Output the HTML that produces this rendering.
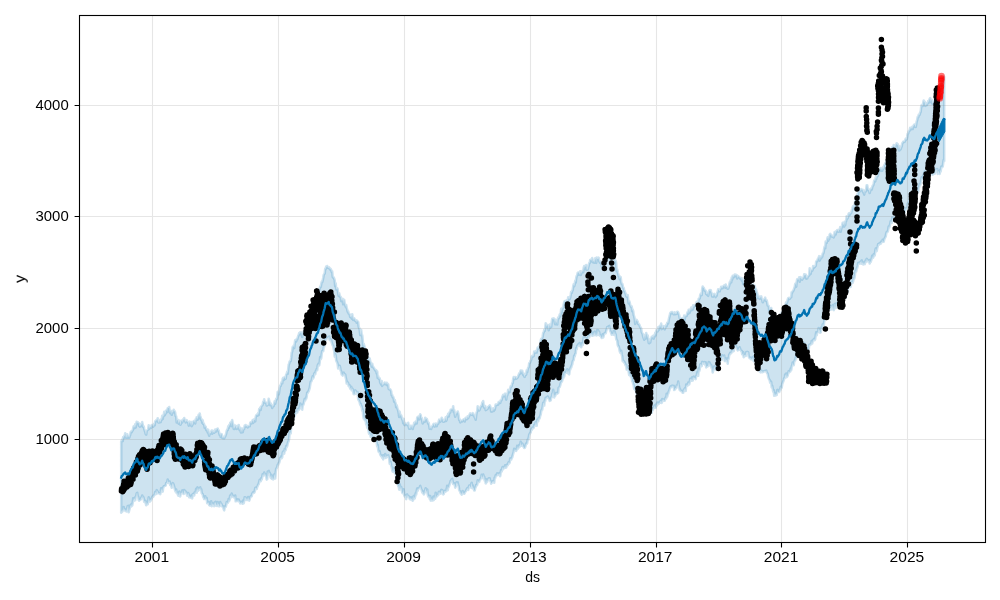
<!DOCTYPE html><html><head><meta charset="utf-8"><title>forecast</title><style>html,body{margin:0;padding:0;background:#fff}</style></head><body><svg width="1000" height="600" viewBox="0 0 1000 600" style="display:block;font-family:'Liberation Sans',sans-serif"><rect width="1000" height="600" fill="#fff"/><g style="opacity:0.999"><clipPath id="c"><rect x="79.5" y="15.5" width="906.0" height="527.0"/></clipPath><g clip-path="url(#c)"><path d="M121.2 441.5L121.7 441.0L122.2 439.5L122.7 441.1L123.2 437.1L123.7 438.1L124.2 436.3L124.7 436.1L125.2 433.4L125.7 437.0L126.2 437.7L126.7 436.7L127.2 434.3L127.7 437.8L128.2 436.0L128.7 436.7L129.2 437.6L129.7 436.1L130.2 434.8L130.7 432.1L131.2 431.4L131.7 432.1L132.2 430.8L132.7 430.6L133.2 428.2L133.7 426.4L134.2 426.5L134.7 428.1L135.2 424.4L135.7 427.4L136.2 425.0L136.7 421.8L137.2 423.4L137.7 422.2L138.2 423.1L138.7 423.3L139.2 425.9L139.7 426.5L140.2 425.3L140.7 426.4L141.2 423.7L141.7 425.2L142.2 422.1L142.7 425.1L143.2 426.9L143.7 426.4L144.2 428.8L144.7 430.5L145.2 431.8L145.7 434.0L146.2 434.5L146.7 430.8L147.2 430.3L147.7 429.9L148.2 429.4L148.7 425.4L149.2 429.0L149.7 427.2L150.2 426.9L150.7 427.3L151.2 427.8L151.7 425.1L152.2 425.8L152.7 425.0L153.2 426.7L153.7 425.6L154.2 423.8L154.7 425.3L155.2 421.5L155.7 421.0L156.2 420.5L156.7 420.0L157.2 420.9L157.7 418.2L158.2 422.4L158.7 422.4L159.2 422.4L159.7 420.0L160.2 421.6L160.7 422.1L161.2 419.4L161.7 419.8L162.2 415.8L162.7 418.9L163.2 416.2L163.7 416.1L164.2 411.8L164.7 415.2L165.2 413.8L165.7 413.6L166.2 410.5L166.7 410.2L167.2 412.1L167.7 408.1L168.2 407.9L168.7 408.2L169.2 407.0L169.7 411.9L170.2 413.1L170.7 410.8L171.2 410.9L171.7 414.8L172.2 413.1L172.7 412.0L173.2 412.1L173.7 409.8L174.2 411.2L174.7 411.2L175.2 412.6L175.7 416.1L176.2 416.3L176.7 422.4L177.2 420.3L177.7 419.7L178.2 422.1L178.7 423.6L179.2 422.2L179.7 420.7L180.2 424.7L180.7 424.5L181.2 421.2L181.7 420.5L182.2 422.5L182.7 420.8L183.2 419.3L183.7 420.5L184.2 418.1L184.7 420.4L185.2 421.0L185.7 422.3L186.2 421.7L186.7 420.2L187.2 422.0L187.7 421.6L188.2 422.4L188.7 425.6L189.2 422.9L189.7 421.7L190.2 425.3L190.7 422.9L191.2 422.0L191.7 426.1L192.2 425.1L192.7 424.3L193.2 422.0L193.7 421.1L194.2 421.2L194.7 421.9L195.2 423.4L195.7 419.2L196.2 420.4L196.7 417.2L197.2 417.9L197.7 419.6L198.2 417.3L198.7 414.8L199.2 418.1L199.7 413.6L200.2 416.1L200.7 417.4L201.2 420.0L201.7 419.3L202.2 422.8L202.7 420.2L203.2 424.0L203.7 423.5L204.2 424.6L204.7 427.8L205.2 426.3L205.7 426.9L206.2 430.1L206.7 429.2L207.2 429.7L207.7 432.6L208.2 429.7L208.7 433.8L209.2 435.7L209.7 432.8L210.2 433.0L210.7 433.6L211.2 432.0L211.7 430.5L212.2 433.8L212.7 430.8L213.2 432.1L213.7 432.5L214.2 432.7L214.7 432.0L215.2 429.5L215.7 431.8L216.2 430.5L216.7 429.4L217.2 428.8L217.7 428.5L218.2 430.7L218.7 430.4L219.2 433.2L219.7 434.8L220.2 434.1L220.7 436.9L221.2 434.1L221.7 434.3L222.2 437.9L222.7 437.3L223.2 438.2L223.7 436.8L224.2 438.3L224.7 436.9L225.2 436.4L225.7 434.9L226.2 433.5L226.7 431.0L227.2 429.7L227.7 430.0L228.2 426.4L228.7 428.0L229.2 425.1L229.7 425.8L230.2 422.9L230.7 422.4L231.2 426.2L231.7 421.6L232.2 420.1L232.7 423.3L233.2 424.4L233.7 428.9L234.2 427.2L234.7 428.8L235.2 425.5L235.7 426.7L236.2 427.9L236.7 428.8L237.2 426.1L237.7 428.5L238.2 427.9L238.7 425.0L239.2 428.6L239.7 430.0L240.2 427.7L240.7 431.7L241.2 432.5L241.7 430.3L242.2 428.5L242.7 432.3L243.2 429.7L243.7 429.2L244.2 428.8L244.7 425.6L245.2 426.9L245.7 425.0L246.2 426.0L246.7 426.5L247.2 426.0L247.7 427.4L248.2 426.3L248.7 426.1L249.2 426.2L249.7 426.3L250.2 423.0L250.7 422.3L251.2 423.5L251.7 422.6L252.2 421.6L252.7 420.1L253.2 423.0L253.7 421.3L254.2 419.4L254.7 419.8L255.2 421.3L255.7 417.1L256.2 415.3L256.7 415.0L257.2 414.5L257.7 415.6L258.2 413.1L258.7 414.9L259.2 409.1L259.7 409.4L260.2 407.6L260.7 409.9L261.2 406.6L261.7 405.9L262.2 405.4L262.7 404.7L263.2 401.7L263.7 402.1L264.2 399.2L264.7 402.4L265.2 402.7L265.7 402.4L266.2 402.6L266.7 405.5L267.2 405.3L267.7 405.0L268.2 404.6L268.7 398.7L269.2 400.8L269.7 402.8L270.2 405.2L270.7 403.4L271.2 405.0L271.7 405.2L272.2 408.0L272.7 405.9L273.2 405.6L273.7 406.1L274.2 403.7L274.7 401.2L275.2 403.7L275.7 401.1L276.2 398.8L276.7 399.5L277.2 397.3L277.7 391.9L278.2 391.6L278.7 394.5L279.2 391.8L279.7 387.7L280.2 385.6L280.7 385.9L281.2 383.6L281.7 382.2L282.2 383.4L282.7 378.9L283.2 377.9L283.7 380.0L284.2 377.6L284.7 377.1L285.2 379.0L285.7 378.7L286.2 374.5L286.7 374.1L287.2 371.8L287.7 373.8L288.2 369.1L288.7 364.6L289.2 363.7L289.7 361.4L290.2 361.0L290.7 361.1L291.2 357.5L291.7 352.6L292.2 351.6L292.7 347.0L293.2 346.9L293.7 345.7L294.2 348.1L294.7 343.9L295.2 340.3L295.7 341.0L296.2 341.3L296.7 339.1L297.2 339.5L297.7 337.7L298.2 336.0L298.7 335.1L299.2 333.2L299.7 334.4L300.2 332.2L300.7 332.9L301.2 332.5L301.7 334.1L302.2 337.0L302.7 332.7L303.2 332.4L303.7 333.3L304.2 330.0L304.7 329.1L305.2 327.0L305.7 329.7L306.2 328.1L306.7 323.9L307.2 319.6L307.7 319.8L308.2 321.0L308.7 322.4L309.2 319.0L309.7 317.8L310.2 313.5L310.7 313.2L311.2 312.0L311.7 309.8L312.2 306.0L312.7 306.4L313.2 305.3L313.7 301.2L314.2 301.8L314.7 303.1L315.2 300.5L315.7 298.0L316.2 300.5L316.7 297.9L317.2 295.3L317.7 298.7L318.2 295.2L318.7 290.9L319.2 290.9L319.7 288.3L320.2 286.6L320.7 287.1L321.2 284.3L321.7 281.9L322.2 282.2L322.7 280.4L323.2 278.0L323.7 274.9L324.2 274.1L324.7 273.5L325.2 268.9L325.7 268.9L326.2 266.5L326.7 267.8L327.2 266.1L327.7 267.6L328.2 267.7L328.7 267.9L329.2 267.5L329.7 269.0L330.2 269.4L330.7 269.0L331.2 270.0L331.7 271.9L332.2 271.4L332.7 276.8L333.2 277.6L333.7 277.4L334.2 278.8L334.7 280.2L335.2 286.2L335.7 283.3L336.2 289.5L336.7 289.0L337.2 288.2L337.7 289.3L338.2 293.7L338.7 296.0L339.2 293.3L339.7 295.8L340.2 296.8L340.7 296.8L341.2 301.1L341.7 298.9L342.2 300.9L342.7 298.7L343.2 304.3L343.7 300.5L344.2 299.8L344.7 303.6L345.2 304.7L345.7 306.8L346.2 305.1L346.7 308.1L347.2 309.4L347.7 311.8L348.2 311.4L348.7 313.6L349.2 313.8L349.7 314.3L350.2 317.0L350.7 316.7L351.2 315.8L351.7 318.6L352.2 314.2L352.7 318.2L353.2 319.9L353.7 318.2L354.2 318.2L354.7 319.4L355.2 320.8L355.7 320.9L356.2 320.5L356.7 322.8L357.2 320.8L357.7 321.8L358.2 321.9L358.7 326.9L359.2 327.9L359.7 329.5L360.2 335.0L360.7 334.4L361.2 330.0L361.7 335.5L362.2 335.2L362.7 339.9L363.2 347.5L363.7 343.9L364.2 345.6L364.7 347.5L365.2 350.7L365.7 352.7L366.2 354.4L366.7 352.7L367.2 357.0L367.7 354.0L368.2 358.2L368.7 359.8L369.2 360.7L369.7 358.4L370.2 361.2L370.7 362.6L371.2 363.8L371.7 366.6L372.2 363.8L372.7 366.6L373.2 366.8L373.7 367.8L374.2 368.3L374.7 369.4L375.2 370.3L375.7 370.6L376.2 370.2L376.7 373.6L377.2 371.3L377.7 377.8L378.2 376.3L378.7 378.7L379.2 378.9L379.7 378.3L380.2 382.5L380.7 383.3L381.2 384.5L381.7 381.1L382.2 385.9L382.7 384.5L383.2 384.4L383.7 384.3L384.2 384.1L384.7 382.5L385.2 383.1L385.7 384.3L386.2 384.4L386.7 382.8L387.2 385.1L387.7 383.8L388.2 384.3L388.7 388.9L389.2 389.2L389.7 389.4L390.2 389.3L390.7 390.2L391.2 391.3L391.7 395.3L392.2 395.0L392.7 397.3L393.2 396.8L393.7 398.6L394.2 401.7L394.7 399.9L395.2 402.1L395.7 403.6L396.2 407.3L396.7 405.3L397.2 407.4L397.7 409.2L398.2 410.5L398.7 413.2L399.2 417.0L399.7 411.9L400.2 414.8L400.7 415.7L401.2 415.4L401.7 417.5L402.2 419.5L402.7 419.8L403.2 423.2L403.7 418.9L404.2 424.4L404.7 425.1L405.2 423.0L405.7 424.0L406.2 424.2L406.7 424.0L407.2 424.8L407.7 425.3L408.2 422.7L408.7 426.8L409.2 428.8L409.7 428.0L410.2 428.7L410.7 425.9L411.2 427.9L411.7 426.1L412.2 426.1L412.7 428.9L413.2 426.5L413.7 425.7L414.2 422.8L414.7 424.6L415.2 423.3L415.7 421.6L416.2 421.8L416.7 423.4L417.2 417.8L417.7 417.1L418.2 416.7L418.7 417.7L419.2 419.3L419.7 416.3L420.2 414.3L420.7 415.2L421.2 418.3L421.7 417.9L422.2 421.1L422.7 423.5L423.2 421.2L423.7 421.2L424.2 420.6L424.7 421.9L425.2 417.7L425.7 420.4L426.2 419.2L426.7 418.8L427.2 420.2L427.7 422.2L428.2 423.7L428.7 422.7L429.2 425.6L429.7 428.7L430.2 428.6L430.7 427.3L431.2 428.9L431.7 426.9L432.2 426.3L432.7 426.2L433.2 424.6L433.7 423.9L434.2 426.1L434.7 426.6L435.2 423.8L435.7 424.6L436.2 423.6L436.7 426.3L437.2 424.1L437.7 423.5L438.2 423.6L438.7 421.6L439.2 419.7L439.7 420.1L440.2 421.8L440.7 420.2L441.2 420.7L441.7 417.7L442.2 419.2L442.7 419.4L443.2 421.8L443.7 421.7L444.2 420.4L444.7 421.3L445.2 420.2L445.7 417.4L446.2 420.9L446.7 419.5L447.2 416.1L447.7 416.7L448.2 413.8L448.7 416.5L449.2 413.6L449.7 412.2L450.2 412.4L450.7 409.7L451.2 409.6L451.7 409.4L452.2 409.6L452.7 409.5L453.2 406.3L453.7 411.8L454.2 410.0L454.7 414.0L455.2 416.8L455.7 414.6L456.2 413.1L456.7 413.7L457.2 413.0L457.7 411.5L458.2 413.1L458.7 415.7L459.2 420.1L459.7 419.4L460.2 422.4L460.7 421.2L461.2 420.8L461.7 420.5L462.2 421.3L462.7 420.4L463.2 420.0L463.7 419.3L464.2 419.5L464.7 421.4L465.2 419.0L465.7 417.9L466.2 418.8L466.7 419.2L467.2 418.4L467.7 416.4L468.2 418.2L468.7 416.7L469.2 416.0L469.7 414.3L470.2 413.4L470.7 414.2L471.2 414.7L471.7 414.6L472.2 414.7L472.7 413.2L473.2 413.6L473.7 415.8L474.2 415.0L474.7 417.6L475.2 417.8L475.7 419.7L476.2 415.1L476.7 412.3L477.2 411.3L477.7 406.3L478.2 408.8L478.7 409.5L479.2 410.4L479.7 409.6L480.2 407.8L480.7 406.7L481.2 405.8L481.7 406.1L482.2 402.6L482.7 403.7L483.2 401.1L483.7 406.0L484.2 407.5L484.7 407.5L485.2 406.0L485.7 410.1L486.2 409.9L486.7 409.3L487.2 408.9L487.7 408.6L488.2 406.7L488.7 406.8L489.2 406.2L489.7 405.4L490.2 406.4L490.7 408.3L491.2 411.6L491.7 410.7L492.2 411.4L492.7 410.4L493.2 408.2L493.7 410.9L494.2 408.5L494.7 409.7L495.2 407.3L495.7 404.5L496.2 405.3L496.7 405.1L497.2 404.5L497.7 403.9L498.2 404.5L498.7 402.1L499.2 402.6L499.7 401.9L500.2 402.9L500.7 400.3L501.2 400.4L501.7 399.7L502.2 397.5L502.7 396.0L503.2 394.8L503.7 396.2L504.2 396.3L504.7 395.0L505.2 393.6L505.7 395.6L506.2 399.7L506.7 395.4L507.2 395.5L507.7 393.5L508.2 389.7L508.7 391.7L509.2 390.5L509.7 392.1L510.2 388.6L510.7 386.3L511.2 386.7L511.7 386.0L512.2 383.2L512.7 383.1L513.2 378.8L513.7 377.1L514.2 378.7L514.7 379.0L515.2 377.1L515.7 377.2L516.2 378.7L516.7 378.4L517.2 377.8L517.7 377.5L518.2 376.3L518.7 374.8L519.2 373.3L519.7 373.9L520.2 372.6L520.7 370.5L521.2 370.7L521.7 372.9L522.2 370.7L522.7 373.4L523.2 374.7L523.7 373.4L524.2 376.6L524.7 376.8L525.2 374.8L525.7 375.1L526.2 374.3L526.7 370.3L527.2 372.1L527.7 369.6L528.2 367.7L528.7 367.3L529.2 363.3L529.7 363.1L530.2 362.0L530.7 360.5L531.2 359.9L531.7 356.5L532.2 355.9L532.7 356.7L533.2 356.3L533.7 355.8L534.2 351.5L534.7 352.8L535.2 352.7L535.7 352.2L536.2 350.8L536.7 352.4L537.2 349.6L537.7 347.6L538.2 348.4L538.7 348.6L539.2 345.9L539.7 346.4L540.2 344.5L540.7 340.8L541.2 338.7L541.7 339.0L542.2 338.0L542.7 336.3L543.2 332.8L543.7 332.5L544.2 329.9L544.7 330.9L545.2 328.4L545.7 323.3L546.2 327.0L546.7 325.8L547.2 324.8L547.7 325.9L548.2 326.7L548.7 330.2L549.2 327.8L549.7 324.5L550.2 327.7L550.7 325.6L551.2 326.8L551.7 322.7L552.2 318.8L552.7 319.0L553.2 318.5L553.7 319.8L554.2 318.7L554.7 322.2L555.2 324.3L555.7 320.1L556.2 323.3L556.7 321.3L557.2 324.5L557.7 319.6L558.2 317.7L558.7 318.5L559.2 317.2L559.7 314.5L560.2 316.2L560.7 313.6L561.2 308.8L561.7 312.9L562.2 308.7L562.7 307.7L563.2 307.9L563.7 304.2L564.2 302.2L564.7 301.2L565.2 301.0L565.7 302.3L566.2 302.6L566.7 300.3L567.2 301.7L567.7 301.3L568.2 297.3L568.7 299.6L569.2 298.4L569.7 299.0L570.2 297.4L570.7 294.9L571.2 291.8L571.7 292.9L572.2 290.9L572.7 290.0L573.2 286.6L573.7 284.2L574.2 286.2L574.7 284.5L575.2 280.8L575.7 282.6L576.2 278.1L576.7 275.9L577.2 275.2L577.7 273.0L578.2 272.5L578.7 272.6L579.2 274.6L579.7 274.2L580.2 271.4L580.7 275.0L581.2 273.5L581.7 272.4L582.2 271.9L582.7 270.7L583.2 272.2L583.7 267.9L584.2 266.1L584.7 268.9L585.2 266.4L585.7 266.8L586.2 265.0L586.7 269.8L587.2 269.4L587.7 269.5L588.2 267.4L588.7 265.7L589.2 263.1L589.7 263.1L590.2 259.9L590.7 259.8L591.2 261.1L591.7 259.9L592.2 258.1L592.7 262.1L593.2 261.7L593.7 260.8L594.2 262.7L594.7 261.3L595.2 258.4L595.7 259.4L596.2 262.9L596.7 257.5L597.2 258.8L597.7 259.0L598.2 259.5L598.7 257.7L599.2 261.2L599.7 261.8L600.2 262.8L600.7 261.3L601.2 262.9L601.7 266.7L602.2 265.6L602.7 264.2L603.2 262.0L603.7 262.3L604.2 261.7L604.7 262.7L605.2 259.3L605.7 259.8L606.2 258.3L606.7 255.6L607.2 255.7L607.7 256.7L608.2 255.1L608.7 255.3L609.2 252.8L609.7 256.7L610.2 258.5L610.7 259.2L611.2 262.4L611.7 260.5L612.2 259.7L612.7 261.5L613.2 262.7L613.7 263.6L614.2 261.6L614.7 259.0L615.2 261.4L615.7 260.8L616.2 263.0L616.7 271.1L617.2 269.6L617.7 272.3L618.2 273.9L618.7 276.3L619.2 275.9L619.7 279.3L620.2 278.0L620.7 277.1L621.2 282.1L621.7 283.8L622.2 283.7L622.7 285.6L623.2 287.7L623.7 287.9L624.2 291.0L624.7 291.1L625.2 292.8L625.7 293.9L626.2 296.0L626.7 296.6L627.2 297.1L627.7 295.0L628.2 300.1L628.7 303.5L629.2 301.1L629.7 302.5L630.2 305.0L630.7 306.1L631.2 307.2L631.7 306.4L632.2 311.1L632.7 309.6L633.2 311.2L633.7 315.1L634.2 316.4L634.7 318.8L635.2 323.9L635.7 320.3L636.2 321.1L636.7 319.9L637.2 321.3L637.7 321.5L638.2 323.9L638.7 324.0L639.2 324.4L639.7 325.8L640.2 327.3L640.7 327.5L641.2 328.5L641.7 332.0L642.2 333.1L642.7 334.0L643.2 336.7L643.7 338.2L644.2 339.7L644.7 335.0L645.2 338.7L645.7 335.2L646.2 333.0L646.7 335.1L647.2 338.2L647.7 335.5L648.2 338.4L648.7 342.8L649.2 343.2L649.7 340.5L650.2 342.5L650.7 339.2L651.2 338.6L651.7 336.8L652.2 336.7L652.7 338.1L653.2 335.7L653.7 338.6L654.2 335.3L654.7 336.6L655.2 332.8L655.7 335.5L656.2 331.4L656.7 329.8L657.2 331.5L657.7 331.3L658.2 327.3L658.7 330.1L659.2 327.5L659.7 326.1L660.2 326.8L660.7 326.5L661.2 323.6L661.7 329.1L662.2 328.7L662.7 328.0L663.2 326.8L663.7 326.2L664.2 328.2L664.7 329.3L665.2 328.0L665.7 325.8L666.2 324.9L666.7 326.1L667.2 322.9L667.7 322.4L668.2 323.3L668.7 320.0L669.2 317.6L669.7 315.9L670.2 313.3L670.7 312.7L671.2 313.4L671.7 312.0L672.2 312.1L672.7 313.1L673.2 313.4L673.7 314.3L674.2 314.2L674.7 312.4L675.2 314.2L675.7 313.6L676.2 314.0L676.7 313.5L677.2 311.7L677.7 311.7L678.2 312.4L678.7 314.0L679.2 315.3L679.7 318.4L680.2 318.3L680.7 318.4L681.2 320.2L681.7 321.2L682.2 318.3L682.7 320.6L683.2 320.7L683.7 318.9L684.2 315.6L684.7 319.6L685.2 316.3L685.7 316.2L686.2 315.6L686.7 315.8L687.2 313.2L687.7 312.0L688.2 313.8L688.7 309.7L689.2 310.4L689.7 312.7L690.2 310.5L690.7 309.3L691.2 307.5L691.7 310.3L692.2 307.9L692.7 309.5L693.2 305.3L693.7 307.2L694.2 306.1L694.7 305.0L695.2 305.0L695.7 306.0L696.2 303.3L696.7 301.9L697.2 303.8L697.7 303.4L698.2 302.8L698.7 298.6L699.2 298.4L699.7 298.5L700.2 295.3L700.7 293.9L701.2 295.3L701.7 294.9L702.2 289.1L702.7 286.6L703.2 287.8L703.7 287.7L704.2 289.1L704.7 290.6L705.2 290.5L705.7 290.7L706.2 294.0L706.7 294.0L707.2 294.8L707.7 292.8L708.2 295.9L708.7 292.7L709.2 290.8L709.7 290.2L710.2 291.5L710.7 290.1L711.2 292.1L711.7 293.4L712.2 296.5L712.7 296.1L713.2 296.6L713.7 294.5L714.2 293.8L714.7 295.5L715.2 295.9L715.7 297.1L716.2 294.6L716.7 295.8L717.2 292.8L717.7 291.7L718.2 289.2L718.7 290.0L719.2 291.0L719.7 291.2L720.2 289.3L720.7 288.9L721.2 286.8L721.7 288.3L722.2 287.2L722.7 288.1L723.2 286.3L723.7 285.9L724.2 285.4L724.7 287.2L725.2 287.6L725.7 284.6L726.2 287.3L726.7 286.7L727.2 287.3L727.7 288.7L728.2 288.5L728.7 287.1L729.2 285.5L729.7 282.4L730.2 283.6L730.7 280.4L731.2 282.3L731.7 277.6L732.2 279.5L732.7 275.7L733.2 276.0L733.7 277.3L734.2 276.0L734.7 274.6L735.2 276.2L735.7 274.7L736.2 275.4L736.7 275.1L737.2 278.5L737.7 276.8L738.2 276.1L738.7 277.0L739.2 277.3L739.7 277.4L740.2 278.6L740.7 278.0L741.2 278.0L741.7 280.6L742.2 278.4L742.7 281.1L743.2 284.0L743.7 279.6L744.2 282.4L744.7 283.3L745.2 280.4L745.7 285.3L746.2 277.5L746.7 281.6L747.2 281.9L747.7 282.3L748.2 282.9L748.7 284.6L749.2 283.6L749.7 285.8L750.2 282.8L750.7 285.2L751.2 287.3L751.7 284.9L752.2 285.7L752.7 286.8L753.2 284.4L753.7 288.5L754.2 288.8L754.7 285.8L755.2 288.1L755.7 289.1L756.2 289.8L756.7 292.2L757.2 293.1L757.7 298.0L758.2 295.6L758.7 298.0L759.2 297.8L759.7 298.8L760.2 296.9L760.7 297.9L761.2 296.4L761.7 298.7L762.2 299.8L762.7 302.3L763.2 301.5L763.7 299.5L764.2 299.6L764.7 299.3L765.2 297.7L765.7 300.4L766.2 301.0L766.7 300.3L767.2 302.5L767.7 305.6L768.2 305.7L768.7 305.8L769.2 310.3L769.7 309.2L770.2 308.6L770.7 309.2L771.2 308.0L771.7 312.7L772.2 311.6L772.7 315.4L773.2 317.7L773.7 320.5L774.2 323.1L774.7 323.4L775.2 320.3L775.7 322.8L776.2 320.7L776.7 321.5L777.2 320.1L777.7 320.5L778.2 322.8L778.7 319.9L779.2 319.1L779.7 316.4L780.2 314.5L780.7 315.6L781.2 316.7L781.7 312.3L782.2 313.5L782.7 311.8L783.2 311.6L783.7 309.7L784.2 306.8L784.7 306.0L785.2 307.2L785.7 303.9L786.2 302.4L786.7 303.5L787.2 301.9L787.7 299.7L788.2 298.3L788.7 297.9L789.2 298.6L789.7 298.9L790.2 297.9L790.7 297.4L791.2 297.2L791.7 292.2L792.2 292.6L792.7 291.3L793.2 290.8L793.7 289.9L794.2 288.4L794.7 287.3L795.2 284.2L795.7 283.3L796.2 286.7L796.7 281.7L797.2 279.3L797.7 279.4L798.2 279.9L798.7 279.1L799.2 277.3L799.7 281.8L800.2 278.5L800.7 277.2L801.2 278.4L801.7 279.3L802.2 279.6L802.7 278.5L803.2 277.6L803.7 277.7L804.2 274.4L804.7 275.9L805.2 274.9L805.7 274.7L806.2 278.6L806.7 277.2L807.2 278.4L807.7 276.8L808.2 276.3L808.7 275.6L809.2 275.3L809.7 268.3L810.2 272.7L810.7 273.8L811.2 270.6L811.7 270.1L812.2 270.8L812.7 269.3L813.2 266.0L813.7 268.1L814.2 266.9L814.7 267.0L815.2 266.2L815.7 265.9L816.2 261.6L816.7 261.0L817.2 261.2L817.7 259.3L818.2 258.9L818.7 257.5L819.2 256.2L819.7 260.6L820.2 259.3L820.7 256.5L821.2 258.3L821.7 256.1L822.2 256.8L822.7 253.6L823.2 253.5L823.7 251.9L824.2 248.8L824.7 246.6L825.2 248.3L825.7 241.6L826.2 242.3L826.7 242.8L827.2 239.5L827.7 237.2L828.2 240.8L828.7 237.0L829.2 239.2L829.7 234.6L830.2 233.9L830.7 235.2L831.2 234.9L831.7 236.4L832.2 236.7L832.7 236.6L833.2 235.8L833.7 237.4L834.2 236.0L834.7 232.0L835.2 232.5L835.7 234.5L836.2 231.5L836.7 231.0L837.2 230.0L837.7 230.8L838.2 231.7L838.7 231.6L839.2 229.5L839.7 230.0L840.2 227.1L840.7 231.8L841.2 228.9L841.7 227.3L842.2 225.8L842.7 222.7L843.2 224.5L843.7 224.6L844.2 226.6L844.7 221.7L845.2 225.2L845.7 221.3L846.2 220.9L846.7 216.2L847.2 218.7L847.7 218.0L848.2 216.2L848.7 213.7L849.2 213.2L849.7 215.0L850.2 213.2L850.7 213.4L851.2 212.8L851.7 210.8L852.2 209.0L852.7 207.0L853.2 206.0L853.7 208.4L854.2 207.2L854.7 204.0L855.2 201.4L855.7 200.6L856.2 199.9L856.7 196.7L857.2 194.2L857.7 197.7L858.2 192.6L858.7 191.8L859.2 191.4L859.7 190.9L860.2 191.2L860.7 189.8L861.2 189.1L861.7 190.0L862.2 189.7L862.7 189.8L863.2 192.4L863.7 191.5L864.2 194.6L864.7 190.6L865.2 191.4L865.7 191.5L866.2 189.1L866.7 185.2L867.2 185.3L867.7 188.4L868.2 190.2L868.7 189.3L869.2 191.4L869.7 193.0L870.2 190.7L870.7 189.3L871.2 188.4L871.7 189.6L872.2 187.5L872.7 185.7L873.2 185.5L873.7 183.5L874.2 180.6L874.7 180.5L875.2 181.3L875.7 177.4L876.2 179.1L876.7 176.4L877.2 176.1L877.7 176.0L878.2 174.1L878.7 169.3L879.2 169.4L879.7 170.2L880.2 168.1L880.7 169.1L881.2 170.8L881.7 168.3L882.2 170.8L882.7 167.5L883.2 168.9L883.7 168.4L884.2 165.2L884.7 165.2L885.2 163.4L885.7 164.4L886.2 163.1L886.7 160.9L887.2 158.9L887.7 157.2L888.2 156.7L888.7 155.4L889.2 155.6L889.7 153.2L890.2 154.4L890.7 149.5L891.2 149.1L891.7 148.2L892.2 147.2L892.7 147.3L893.2 147.9L893.7 145.0L894.2 146.7L894.7 150.0L895.2 147.2L895.7 145.2L896.2 144.7L896.7 143.3L897.2 145.6L897.7 144.3L898.2 145.7L898.7 149.3L899.2 150.5L899.7 146.6L900.2 149.6L900.7 149.0L901.2 147.4L901.7 146.6L902.2 143.4L902.7 142.8L903.2 141.8L903.7 141.6L904.2 141.9L904.7 141.6L905.2 140.5L905.7 138.9L906.2 139.7L906.7 139.2L907.2 136.7L907.7 133.6L908.2 133.4L908.7 131.4L909.2 131.1L909.7 130.1L910.2 127.7L910.7 129.5L911.2 128.7L911.7 128.1L912.2 126.9L912.7 128.9L913.2 126.5L913.7 125.7L914.2 124.7L914.7 124.5L915.2 126.8L915.7 126.9L916.2 124.2L916.7 121.6L917.2 119.9L917.7 117.1L918.2 117.4L918.7 114.9L919.2 115.2L919.7 114.6L920.2 112.4L920.7 111.8L921.2 106.7L921.7 105.2L922.2 105.8L922.7 106.0L923.2 103.1L923.7 100.6L924.2 102.8L924.7 101.7L925.2 105.9L925.7 105.2L926.2 103.3L926.7 105.3L927.2 103.9L927.7 103.2L928.2 101.1L928.7 102.7L929.2 100.3L929.7 98.8L930.2 98.1L930.7 102.0L931.2 100.3L931.7 99.9L932.2 103.6L932.7 103.6L933.2 102.2L933.7 100.8L934.2 102.4L934.7 101.9L935.2 99.8L935.7 100.3L936.2 94.7L936.7 96.6L937.2 94.4L937.7 91.3L938.2 88.0L938.7 89.5L939.2 89.2L939.7 88.8L940.2 88.1L940.7 88.0L941.2 84.7L941.7 85.4L942.2 84.1L942.7 82.5L943.2 78.7L943.7 78.2L944.2 76.7L944.2 161.0L943.7 159.7L943.2 163.0L942.7 166.7L942.2 166.8L941.7 167.5L941.2 166.6L940.7 171.3L940.2 169.8L939.7 173.9L939.2 172.9L938.7 171.3L938.2 170.9L937.7 173.9L937.2 169.0L936.7 169.6L936.2 169.6L935.7 169.5L935.2 171.1L934.7 173.7L934.2 173.1L933.7 171.8L933.2 172.7L932.7 174.7L932.2 174.4L931.7 172.7L931.2 174.0L930.7 171.9L930.2 171.0L929.7 171.3L929.2 169.7L928.7 174.5L928.2 175.8L927.7 175.4L927.2 176.7L926.7 175.4L926.2 174.1L925.7 175.9L925.2 175.9L924.7 171.6L924.2 172.9L923.7 175.6L923.2 175.3L922.7 179.3L922.2 178.8L921.7 177.3L921.2 179.7L920.7 182.7L920.2 184.7L919.7 184.1L919.2 187.0L918.7 187.2L918.2 191.6L917.7 189.9L917.2 191.2L916.7 194.1L916.2 194.9L915.7 197.6L915.2 197.9L914.7 194.5L914.2 197.1L913.7 199.0L913.2 196.3L912.7 198.0L912.2 197.1L911.7 200.4L911.2 199.1L910.7 203.7L910.2 203.4L909.7 200.2L909.2 204.8L908.7 202.4L908.2 203.5L907.7 203.6L907.2 208.9L906.7 208.7L906.2 208.0L905.7 208.5L905.2 210.2L904.7 212.2L904.2 213.7L903.7 215.0L903.2 214.4L902.7 216.2L902.2 215.1L901.7 217.5L901.2 217.6L900.7 221.7L900.2 219.3L899.7 218.0L899.2 220.4L898.7 218.9L898.2 217.0L897.7 215.8L897.2 216.4L896.7 215.2L896.2 218.1L895.7 217.1L895.2 218.5L894.7 219.7L894.2 220.0L893.7 218.1L893.2 218.9L892.7 219.6L892.2 217.5L891.7 222.8L891.2 221.4L890.7 221.3L890.2 223.7L889.7 226.1L889.2 227.6L888.7 226.5L888.2 229.9L887.7 231.6L887.2 231.9L886.7 232.2L886.2 233.6L885.7 236.4L885.2 237.4L884.7 238.3L884.2 239.5L883.7 241.8L883.2 241.7L882.7 239.7L882.2 242.1L881.7 242.2L881.2 241.5L880.7 243.7L880.2 242.9L879.7 243.2L879.2 244.4L878.7 243.9L878.2 244.1L877.7 246.5L877.2 248.2L876.7 251.1L876.2 248.4L875.7 248.7L875.2 251.3L874.7 255.5L874.2 254.5L873.7 254.4L873.2 257.6L872.7 257.9L872.2 255.8L871.7 258.7L871.2 260.3L870.7 261.8L870.2 261.6L869.7 263.5L869.2 260.0L868.7 260.8L868.2 261.3L867.7 260.4L867.2 259.6L866.7 258.8L866.2 261.7L865.7 260.4L865.2 262.5L864.7 264.1L864.2 262.3L863.7 262.8L863.2 264.5L862.7 262.7L862.2 262.5L861.7 260.4L861.2 263.7L860.7 261.5L860.2 262.1L859.7 262.7L859.2 263.8L858.7 263.7L858.2 262.8L857.7 266.0L857.2 267.9L856.7 268.6L856.2 271.5L855.7 270.7L855.2 272.7L854.7 276.7L854.2 278.8L853.7 278.3L853.2 280.9L852.7 282.6L852.2 282.0L851.7 281.9L851.2 283.3L850.7 286.9L850.2 285.9L849.7 285.9L849.2 285.4L848.7 286.2L848.2 287.6L847.7 291.9L847.2 291.4L846.7 289.9L846.2 290.5L845.7 297.8L845.2 295.4L844.7 293.6L844.2 293.1L843.7 295.0L843.2 294.9L842.7 298.5L842.2 297.7L841.7 299.4L841.2 298.9L840.7 301.0L840.2 299.2L839.7 299.9L839.2 302.4L838.7 305.2L838.2 302.2L837.7 303.6L837.2 304.9L836.7 303.5L836.2 305.1L835.7 308.0L835.2 303.9L834.7 304.0L834.2 308.7L833.7 310.1L833.2 306.4L832.7 305.2L832.2 309.0L831.7 306.6L831.2 306.3L830.7 309.8L830.2 308.1L829.7 305.1L829.2 306.9L828.7 308.9L828.2 308.3L827.7 310.7L827.2 314.8L826.7 316.3L826.2 314.5L825.7 317.3L825.2 318.3L824.7 319.8L824.2 321.7L823.7 326.2L823.2 323.9L822.7 324.6L822.2 328.6L821.7 329.3L821.2 327.6L820.7 332.3L820.2 332.7L819.7 329.9L819.2 330.3L818.7 328.1L818.2 330.6L817.7 332.4L817.2 332.4L816.7 335.3L816.2 332.4L815.7 335.3L815.2 339.2L814.7 340.1L814.2 338.8L813.7 339.4L813.2 340.3L812.7 341.0L812.2 343.4L811.7 340.9L811.2 344.3L810.7 344.1L810.2 344.9L809.7 344.6L809.2 344.9L808.7 349.5L808.2 351.8L807.7 348.6L807.2 353.2L806.7 349.1L806.2 351.7L805.7 347.9L805.2 349.4L804.7 348.2L804.2 343.3L803.7 348.0L803.2 350.5L802.7 349.9L802.2 349.4L801.7 351.7L801.2 351.3L800.7 352.2L800.2 351.3L799.7 351.1L799.2 352.2L798.7 349.3L798.2 349.9L797.7 352.5L797.2 354.3L796.7 352.5L796.2 358.5L795.7 357.4L795.2 360.6L794.7 360.4L794.2 361.8L793.7 365.2L793.2 364.8L792.7 362.6L792.2 365.3L791.7 366.5L791.2 370.2L790.7 368.5L790.2 371.5L789.7 371.6L789.2 372.4L788.7 371.1L788.2 373.0L787.7 375.4L787.2 376.4L786.7 377.1L786.2 373.5L785.7 375.9L785.2 374.5L784.7 378.3L784.2 378.2L783.7 380.1L783.2 381.7L782.7 382.7L782.2 384.0L781.7 387.6L781.2 388.2L780.7 386.7L780.2 390.3L779.7 389.3L779.2 392.0L778.7 391.8L778.2 391.9L777.7 391.9L777.2 389.9L776.7 394.9L776.2 393.6L775.7 395.5L775.2 394.0L774.7 392.8L774.2 395.8L773.7 390.1L773.2 391.6L772.7 388.3L772.2 385.7L771.7 387.5L771.2 382.0L770.7 381.4L770.2 382.7L769.7 380.1L769.2 379.4L768.7 378.2L768.2 376.6L767.7 373.7L767.2 373.2L766.7 371.9L766.2 370.5L765.7 371.2L765.2 371.1L764.7 371.1L764.2 371.1L763.7 371.6L763.2 371.4L762.7 372.1L762.2 371.2L761.7 371.3L761.2 370.7L760.7 372.3L760.2 369.3L759.7 371.4L759.2 369.0L758.7 367.9L758.2 367.1L757.7 365.7L757.2 364.2L756.7 363.4L756.2 361.0L755.7 362.2L755.2 360.7L754.7 360.0L754.2 357.5L753.7 361.2L753.2 356.9L752.7 357.9L752.2 358.7L751.7 358.8L751.2 359.3L750.7 357.7L750.2 358.4L749.7 358.2L749.2 357.4L748.7 356.4L748.2 352.3L747.7 352.3L747.2 351.8L746.7 352.6L746.2 352.2L745.7 356.0L745.2 354.4L744.7 354.9L744.2 355.3L743.7 357.2L743.2 352.3L742.7 354.3L742.2 354.2L741.7 350.7L741.2 350.9L740.7 350.2L740.2 349.2L739.7 347.2L739.2 348.1L738.7 349.2L738.2 350.0L737.7 350.3L737.2 349.2L736.7 347.9L736.2 346.6L735.7 345.9L735.2 345.4L734.7 345.9L734.2 347.3L733.7 351.1L733.2 349.3L732.7 351.4L732.2 350.1L731.7 351.7L731.2 353.1L730.7 353.4L730.2 352.8L729.7 354.6L729.2 354.6L728.7 358.8L728.2 359.0L727.7 363.7L727.2 358.6L726.7 360.6L726.2 359.9L725.7 358.3L725.2 361.1L724.7 360.8L724.2 355.5L723.7 356.5L723.2 357.5L722.7 356.8L722.2 355.3L721.7 359.8L721.2 358.1L720.7 357.5L720.2 359.8L719.7 361.7L719.2 363.3L718.7 364.7L718.2 364.7L717.7 365.1L717.2 365.8L716.7 368.3L716.2 369.8L715.7 368.6L715.2 369.0L714.7 367.1L714.2 366.5L713.7 367.9L713.2 370.6L712.7 372.4L712.2 368.3L711.7 367.9L711.2 365.1L710.7 366.1L710.2 363.9L709.7 362.6L709.2 365.0L708.7 362.1L708.2 365.5L707.7 366.3L707.2 365.7L706.7 366.6L706.2 367.4L705.7 362.4L705.2 364.7L704.7 362.5L704.2 362.1L703.7 362.3L703.2 363.7L702.7 362.2L702.2 361.9L701.7 366.1L701.2 364.6L700.7 364.1L700.2 364.7L699.7 369.4L699.2 371.1L698.7 368.4L698.2 375.8L697.7 373.7L697.2 372.3L696.7 376.1L696.2 376.0L695.7 379.1L695.2 378.6L694.7 377.5L694.2 378.2L693.7 376.7L693.2 378.2L692.7 380.6L692.2 377.3L691.7 380.6L691.2 378.5L690.7 379.5L690.2 378.8L689.7 382.3L689.2 384.5L688.7 383.3L688.2 382.6L687.7 385.5L687.2 384.6L686.7 386.2L686.2 384.5L685.7 390.9L685.2 388.1L684.7 388.8L684.2 389.4L683.7 390.0L683.2 392.7L682.7 392.8L682.2 391.5L681.7 391.2L681.2 391.1L680.7 391.0L680.2 389.4L679.7 389.9L679.2 387.2L678.7 384.7L678.2 381.6L677.7 385.1L677.2 386.2L676.7 385.3L676.2 388.3L675.7 388.2L675.2 387.7L674.7 389.7L674.2 390.0L673.7 385.9L673.2 386.4L672.7 386.2L672.2 385.5L671.7 386.2L671.2 387.2L670.7 386.4L670.2 387.5L669.7 388.7L669.2 390.8L668.7 391.6L668.2 393.7L667.7 394.2L667.2 396.8L666.7 393.7L666.2 398.4L665.7 397.5L665.2 398.8L664.7 400.8L664.2 400.4L663.7 399.6L663.2 399.5L662.7 401.1L662.2 399.0L661.7 402.9L661.2 400.4L660.7 401.3L660.2 401.3L659.7 402.8L659.2 403.1L658.7 403.9L658.2 402.7L657.7 404.3L657.2 402.5L656.7 405.8L656.2 404.3L655.7 407.7L655.2 407.7L654.7 405.6L654.2 406.8L653.7 407.5L653.2 408.5L652.7 410.2L652.2 407.8L651.7 412.7L651.2 411.2L650.7 411.1L650.2 413.2L649.7 414.7L649.2 414.8L648.7 411.9L648.2 412.4L647.7 412.5L647.2 409.3L646.7 411.3L646.2 405.0L645.7 406.5L645.2 407.9L644.7 408.1L644.2 411.2L643.7 412.1L643.2 407.9L642.7 406.1L642.2 406.3L641.7 403.7L641.2 403.8L640.7 403.7L640.2 398.4L639.7 397.9L639.2 397.5L638.7 395.9L638.2 392.1L637.7 395.7L637.2 395.2L636.7 393.9L636.2 391.6L635.7 390.1L635.2 389.8L634.7 388.4L634.2 388.9L633.7 385.3L633.2 383.9L632.7 381.4L632.2 381.3L631.7 377.8L631.2 375.9L630.7 376.5L630.2 373.4L629.7 373.2L629.2 375.0L628.7 371.7L628.2 368.8L627.7 367.9L627.2 369.2L626.7 369.7L626.2 364.9L625.7 365.5L625.2 364.1L624.7 362.4L624.2 362.7L623.7 361.1L623.2 360.7L622.7 361.1L622.2 356.3L621.7 354.5L621.2 350.9L620.7 351.7L620.2 352.6L619.7 351.1L619.2 348.3L618.7 346.2L618.2 346.2L617.7 344.9L617.2 340.6L616.7 340.1L616.2 338.8L615.7 334.5L615.2 333.7L614.7 331.4L614.2 334.9L613.7 331.1L613.2 334.7L612.7 333.5L612.2 334.2L611.7 334.6L611.2 333.2L610.7 331.7L610.2 330.9L609.7 328.4L609.2 325.9L608.7 327.3L608.2 327.9L607.7 326.9L607.2 327.1L606.7 329.5L606.2 330.9L605.7 333.3L605.2 332.7L604.7 333.6L604.2 333.5L603.7 335.4L603.2 337.5L602.7 334.4L602.2 337.3L601.7 338.0L601.2 337.0L600.7 335.9L600.2 335.1L599.7 335.6L599.2 332.1L598.7 332.1L598.2 330.3L597.7 334.9L597.2 330.1L596.7 333.9L596.2 335.3L595.7 335.0L595.2 332.4L594.7 331.7L594.2 333.8L593.7 335.3L593.2 332.8L592.7 334.5L592.2 335.7L591.7 334.2L591.2 333.5L590.7 329.1L590.2 334.9L589.7 335.7L589.2 337.3L588.7 335.6L588.2 337.6L587.7 339.8L587.2 340.8L586.7 342.3L586.2 339.3L585.7 338.0L585.2 338.3L584.7 338.3L584.2 338.1L583.7 337.3L583.2 341.3L582.7 345.0L582.2 343.0L581.7 344.7L581.2 347.3L580.7 346.6L580.2 344.7L579.7 343.1L579.2 345.7L578.7 343.9L578.2 344.7L577.7 345.7L577.2 345.7L576.7 349.3L576.2 347.9L575.7 353.4L575.2 353.9L574.7 356.5L574.2 355.6L573.7 360.0L573.2 360.6L572.7 361.5L572.2 364.6L571.7 365.4L571.2 367.5L570.7 367.6L570.2 369.6L569.7 369.8L569.2 374.4L568.7 371.5L568.2 370.1L567.7 373.1L567.2 369.3L566.7 370.2L566.2 371.9L565.7 372.9L565.2 372.9L564.7 372.5L564.2 376.6L563.7 375.0L563.2 378.2L562.7 377.6L562.2 380.7L561.7 381.7L561.2 382.3L560.7 383.2L560.2 385.4L559.7 386.8L559.2 387.4L558.7 387.6L558.2 392.8L557.7 393.1L557.2 393.7L556.7 393.5L556.2 392.8L555.7 394.4L555.2 395.7L554.7 394.6L554.2 397.4L553.7 394.2L553.2 389.9L552.7 393.1L552.2 394.0L551.7 397.3L551.2 397.4L550.7 400.3L550.2 400.6L549.7 400.8L549.2 399.1L548.7 398.7L548.2 397.4L547.7 396.5L547.2 397.2L546.7 397.3L546.2 397.9L545.7 397.8L545.2 401.1L544.7 400.6L544.2 405.5L543.7 402.5L543.2 403.0L542.7 406.4L542.2 409.7L541.7 409.8L541.2 411.2L540.7 414.5L540.2 415.7L539.7 418.1L539.2 418.9L538.7 417.7L538.2 421.2L537.7 420.4L537.2 419.7L536.7 425.7L536.2 422.2L535.7 422.2L535.2 424.4L534.7 425.9L534.2 425.0L533.7 427.6L533.2 428.2L532.7 427.4L532.2 428.1L531.7 429.8L531.2 429.4L530.7 432.3L530.2 433.1L529.7 433.8L529.2 434.9L528.7 437.9L528.2 439.9L527.7 439.5L527.2 443.1L526.7 443.9L526.2 443.4L525.7 444.7L525.2 447.0L524.7 448.0L524.2 448.0L523.7 446.7L523.2 446.4L522.7 444.4L522.2 443.5L521.7 445.7L521.2 444.7L520.7 441.7L520.2 444.7L519.7 446.8L519.2 445.1L518.7 446.8L518.2 448.3L517.7 448.7L517.2 445.9L516.7 449.6L516.2 450.8L515.7 449.2L515.2 450.5L514.7 451.0L514.2 448.8L513.7 451.6L513.2 453.7L512.7 455.4L512.2 457.4L511.7 458.1L511.2 459.5L510.7 459.1L510.2 458.4L509.7 462.3L509.2 463.3L508.7 462.1L508.2 463.2L507.7 465.3L507.2 465.1L506.7 464.9L506.2 467.6L505.7 467.7L505.2 465.2L504.7 466.7L504.2 467.6L503.7 467.6L503.2 469.2L502.7 467.0L502.2 468.3L501.7 471.5L501.2 469.9L500.7 472.0L500.2 476.2L499.7 473.1L499.2 473.9L498.7 473.7L498.2 474.8L497.7 474.1L497.2 473.4L496.7 475.4L496.2 475.8L495.7 475.2L495.2 478.0L494.7 477.6L494.2 482.7L493.7 481.5L493.2 480.8L492.7 481.9L492.2 481.3L491.7 482.9L491.2 483.6L490.7 481.3L490.2 480.7L489.7 478.2L489.2 478.8L488.7 478.4L488.2 479.3L487.7 479.7L487.2 481.8L486.7 479.6L486.2 482.7L485.7 483.3L485.2 478.8L484.7 480.6L484.2 476.6L483.7 476.4L483.2 474.5L482.7 478.1L482.2 476.9L481.7 474.8L481.2 477.1L480.7 478.4L480.2 479.7L479.7 480.2L479.2 481.8L478.7 481.5L478.2 482.1L477.7 480.3L477.2 484.8L476.7 485.4L476.2 484.8L475.7 487.0L475.2 488.1L474.7 490.5L474.2 490.5L473.7 488.3L473.2 487.8L472.7 485.4L472.2 488.1L471.7 482.9L471.2 484.0L470.7 487.4L470.2 487.1L469.7 485.5L469.2 485.5L468.7 487.6L468.2 489.9L467.7 488.1L467.2 488.4L466.7 489.5L466.2 490.4L465.7 491.4L465.2 491.9L464.7 492.9L464.2 493.7L463.7 493.6L463.2 492.9L462.7 491.1L462.2 493.2L461.7 494.7L461.2 493.1L460.7 493.3L460.2 491.4L459.7 491.0L459.2 490.0L458.7 486.3L458.2 484.9L457.7 482.4L457.2 484.7L456.7 482.2L456.2 483.5L455.7 486.5L455.2 487.6L454.7 483.4L454.2 484.4L453.7 483.5L453.2 484.1L452.7 481.4L452.2 478.9L451.7 479.6L451.2 480.5L450.7 481.0L450.2 482.6L449.7 484.1L449.2 485.7L448.7 486.9L448.2 487.5L447.7 490.2L447.2 485.8L446.7 489.1L446.2 491.2L445.7 491.0L445.2 491.6L444.7 490.9L444.2 491.6L443.7 494.0L443.2 494.3L442.7 490.8L442.2 490.2L441.7 491.0L441.2 489.9L440.7 493.7L440.2 492.2L439.7 493.0L439.2 491.8L438.7 492.2L438.2 495.3L437.7 494.7L437.2 495.3L436.7 496.6L436.2 496.9L435.7 492.7L435.2 498.7L434.7 498.6L434.2 496.3L433.7 500.1L433.2 496.9L432.7 499.6L432.2 500.5L431.7 498.2L431.2 499.9L430.7 500.5L430.2 496.1L429.7 498.7L429.2 495.8L428.7 496.6L428.2 496.5L427.7 494.3L427.2 489.5L426.7 492.1L426.2 491.1L425.7 488.2L425.2 489.8L424.7 491.5L424.2 493.7L423.7 494.3L423.2 492.3L422.7 491.3L422.2 492.6L421.7 490.0L421.2 489.0L420.7 487.4L420.2 485.9L419.7 487.6L419.2 488.0L418.7 488.6L418.2 488.9L417.7 490.6L417.2 488.4L416.7 491.0L416.2 494.6L415.7 493.2L415.2 496.5L414.7 498.3L414.2 497.0L413.7 496.0L413.2 499.6L412.7 500.7L412.2 497.2L411.7 498.8L411.2 499.3L410.7 497.4L410.2 499.3L409.7 498.9L409.2 497.3L408.7 496.2L408.2 496.3L407.7 496.7L407.2 494.5L406.7 494.7L406.2 499.1L405.7 495.4L405.2 495.8L404.7 496.4L404.2 495.0L403.7 489.3L403.2 492.2L402.7 493.2L402.2 492.5L401.7 489.2L401.2 487.1L400.7 489.3L400.2 486.4L399.7 484.3L399.2 489.6L398.7 486.6L398.2 486.0L397.7 483.2L397.2 479.7L396.7 481.3L396.2 477.3L395.7 472.2L395.2 473.8L394.7 471.6L394.2 472.3L393.7 471.4L393.2 468.0L392.7 471.7L392.2 470.1L391.7 467.4L391.2 466.1L390.7 462.1L390.2 462.6L389.7 463.7L389.2 458.4L388.7 457.3L388.2 455.4L387.7 455.9L387.2 455.7L386.7 456.9L386.2 455.6L385.7 457.9L385.2 454.0L384.7 456.9L384.2 457.0L383.7 455.3L383.2 459.4L382.7 455.5L382.2 457.7L381.7 455.6L381.2 456.3L380.7 455.2L380.2 454.5L379.7 451.4L379.2 452.1L378.7 451.7L378.2 449.6L377.7 445.0L377.2 446.3L376.7 442.8L376.2 440.8L375.7 439.3L375.2 438.2L374.7 439.9L374.2 440.0L373.7 438.0L373.2 438.6L372.7 437.3L372.2 437.0L371.7 436.8L371.2 434.6L370.7 436.8L370.2 433.8L369.7 433.7L369.2 433.8L368.7 431.9L368.2 427.6L367.7 425.0L367.2 427.7L366.7 422.9L366.2 424.4L365.7 419.9L365.2 420.5L364.7 419.7L364.2 416.6L363.7 418.6L363.2 415.3L362.7 409.3L362.2 410.6L361.7 406.3L361.2 406.5L360.7 403.8L360.2 404.6L359.7 402.4L359.2 400.9L358.7 400.3L358.2 399.2L357.7 392.4L357.2 392.6L356.7 391.8L356.2 393.3L355.7 390.8L355.2 390.4L354.7 394.1L354.2 393.7L353.7 394.2L353.2 391.4L352.7 389.2L352.2 388.5L351.7 390.3L351.2 386.8L350.7 388.2L350.2 388.7L349.7 385.2L349.2 385.8L348.7 386.1L348.2 383.2L347.7 382.8L347.2 381.7L346.7 383.5L346.2 379.6L345.7 377.4L345.2 374.6L344.7 374.2L344.2 373.9L343.7 372.6L343.2 375.1L342.7 375.5L342.2 373.9L341.7 374.5L341.2 371.2L340.7 370.9L340.2 367.9L339.7 365.9L339.2 365.9L338.7 365.9L338.2 368.5L337.7 364.3L337.2 362.5L336.7 361.6L336.2 360.5L335.7 355.5L335.2 354.2L334.7 356.7L334.2 350.8L333.7 349.2L333.2 346.1L332.7 345.4L332.2 343.8L331.7 342.5L331.2 340.1L330.7 339.4L330.2 339.6L329.7 340.0L329.2 336.6L328.7 337.2L328.2 337.6L327.7 338.2L327.2 337.7L326.7 338.4L326.2 339.6L325.7 337.8L325.2 340.6L324.7 344.3L324.2 346.8L323.7 347.3L323.2 351.1L322.7 351.3L322.2 351.0L321.7 353.9L321.2 358.1L320.7 359.2L320.2 356.9L319.7 362.2L319.2 365.4L318.7 363.6L318.2 364.7L317.7 365.3L317.2 370.0L316.7 369.1L316.2 370.9L315.7 371.2L315.2 374.2L314.7 373.1L314.2 373.6L313.7 377.1L313.2 378.3L312.7 376.3L312.2 377.9L311.7 380.6L311.2 381.8L310.7 381.7L310.2 384.9L309.7 388.0L309.2 389.5L308.7 391.0L308.2 391.9L307.7 393.0L307.2 392.6L306.7 396.6L306.2 398.7L305.7 398.5L305.2 400.4L304.7 398.9L304.2 401.3L303.7 403.7L303.2 404.9L302.7 404.7L302.2 409.6L301.7 406.5L301.2 404.7L300.7 407.4L300.2 403.6L299.7 407.8L299.2 409.3L298.7 409.8L298.2 408.9L297.7 409.1L297.2 412.5L296.7 411.4L296.2 411.8L295.7 413.4L295.2 413.9L294.7 415.8L294.2 416.7L293.7 417.1L293.2 419.0L292.7 419.9L292.2 424.1L291.7 425.5L291.2 426.0L290.7 433.3L290.2 432.2L289.7 432.7L289.2 438.1L288.7 440.7L288.2 442.0L287.7 443.4L287.2 445.9L286.7 447.1L286.2 445.9L285.7 450.0L285.2 450.6L284.7 449.1L284.2 453.6L283.7 451.6L283.2 451.6L282.7 452.7L282.2 457.1L281.7 458.1L281.2 456.5L280.7 458.0L280.2 458.1L279.7 460.7L279.2 462.7L278.7 463.1L278.2 464.8L277.7 464.8L277.2 467.1L276.7 468.3L276.2 468.7L275.7 472.1L275.2 478.5L274.7 474.1L274.2 475.3L273.7 478.5L273.2 479.3L272.7 476.0L272.2 478.9L271.7 478.7L271.2 474.8L270.7 477.6L270.2 475.6L269.7 472.7L269.2 473.0L268.7 470.9L268.2 474.8L267.7 471.6L267.2 479.1L266.7 479.5L266.2 475.8L265.7 475.6L265.2 474.0L264.7 475.1L264.2 472.6L263.7 474.0L263.2 475.7L262.7 474.2L262.2 477.0L261.7 479.5L261.2 478.1L260.7 481.3L260.2 480.6L259.7 479.8L259.2 481.7L258.7 484.3L258.2 484.4L257.7 485.8L257.2 486.8L256.7 488.9L256.2 488.1L255.7 487.7L255.2 488.2L254.7 491.7L254.2 492.6L253.7 492.9L253.2 492.2L252.7 493.0L252.2 493.6L251.7 496.2L251.2 496.6L250.7 496.3L250.2 497.4L249.7 499.1L249.2 500.6L248.7 499.0L248.2 497.0L247.7 500.0L247.2 498.0L246.7 498.5L246.2 499.8L245.7 498.0L245.2 497.3L244.7 497.3L244.2 500.9L243.7 503.1L243.2 500.5L242.7 503.8L242.2 502.8L241.7 501.9L241.2 502.7L240.7 502.5L240.2 503.3L239.7 501.2L239.2 501.7L238.7 499.5L238.2 500.9L237.7 500.9L237.2 499.4L236.7 500.2L236.2 501.3L235.7 501.3L235.2 495.6L234.7 497.9L234.2 496.3L233.7 497.1L233.2 495.9L232.7 496.4L232.2 495.2L231.7 493.6L231.2 497.2L230.7 495.8L230.2 495.5L229.7 499.5L229.2 500.9L228.7 499.0L228.2 501.9L227.7 502.9L227.2 502.4L226.7 502.1L226.2 505.1L225.7 506.8L225.2 507.2L224.7 506.5L224.2 510.4L223.7 509.1L223.2 506.4L222.7 506.7L222.2 506.5L221.7 504.4L221.2 503.6L220.7 504.0L220.2 502.0L219.7 506.1L219.2 506.3L218.7 503.5L218.2 504.8L217.7 502.1L217.2 506.0L216.7 504.0L216.2 505.7L215.7 501.7L215.2 503.2L214.7 502.4L214.2 506.2L213.7 504.3L213.2 504.6L212.7 503.3L212.2 504.4L211.7 506.2L211.2 501.2L210.7 505.3L210.2 505.1L209.7 505.5L209.2 505.1L208.7 502.0L208.2 503.3L207.7 502.5L207.2 503.2L206.7 498.1L206.2 499.3L205.7 498.9L205.2 496.2L204.7 498.8L204.2 499.0L203.7 497.5L203.2 496.9L202.7 494.1L202.2 493.9L201.7 493.0L201.2 489.2L200.7 489.9L200.2 487.4L199.7 488.5L199.2 488.9L198.7 488.2L198.2 490.8L197.7 489.6L197.2 487.4L196.7 492.6L196.2 488.8L195.7 492.0L195.2 493.0L194.7 492.3L194.2 495.5L193.7 493.9L193.2 493.9L192.7 494.1L192.2 498.4L191.7 497.4L191.2 495.7L190.7 497.6L190.2 497.5L189.7 495.5L189.2 497.2L188.7 494.2L188.2 493.0L187.7 493.7L187.2 495.6L186.7 493.4L186.2 492.2L185.7 493.0L185.2 490.9L184.7 491.2L184.2 490.0L183.7 494.0L183.2 493.4L182.7 492.7L182.2 490.4L181.7 493.3L181.2 492.8L180.7 492.8L180.2 496.4L179.7 493.6L179.2 491.7L178.7 494.0L178.2 495.6L177.7 493.7L177.2 492.5L176.7 493.0L176.2 489.6L175.7 491.6L175.2 490.6L174.7 488.7L174.2 486.7L173.7 485.3L173.2 483.7L172.7 483.1L172.2 484.4L171.7 487.8L171.2 485.1L170.7 484.6L170.2 485.1L169.7 481.6L169.2 481.9L168.7 481.7L168.2 482.8L167.7 479.5L167.2 481.9L166.7 482.8L166.2 483.1L165.7 485.6L165.2 485.8L164.7 485.9L164.2 486.5L163.7 486.4L163.2 487.7L162.7 491.7L162.2 488.0L161.7 490.4L161.2 488.3L160.7 492.0L160.2 494.1L159.7 493.2L159.2 493.3L158.7 493.2L158.2 493.3L157.7 491.6L157.2 491.0L156.7 490.2L156.2 494.0L155.7 492.4L155.2 492.0L154.7 494.6L154.2 495.4L153.7 495.3L153.2 496.7L152.7 496.3L152.2 497.0L151.7 498.5L151.2 499.7L150.7 500.6L150.2 499.6L149.7 501.6L149.2 499.6L148.7 497.2L148.2 501.6L147.7 504.2L147.2 502.9L146.7 501.9L146.2 505.2L145.7 502.9L145.2 500.8L144.7 501.2L144.2 501.8L143.7 498.3L143.2 496.9L142.7 498.2L142.2 495.6L141.7 497.4L141.2 497.8L140.7 499.5L140.2 499.7L139.7 499.8L139.2 500.6L138.7 500.0L138.2 496.7L137.7 496.4L137.2 492.8L136.7 493.3L136.2 496.3L135.7 496.6L135.2 500.3L134.7 498.5L134.2 498.2L133.7 501.1L133.2 498.4L132.7 502.9L132.2 505.6L131.7 504.0L131.2 506.5L130.7 504.9L130.2 506.0L129.7 508.3L129.2 510.2L128.7 512.3L128.2 505.9L127.7 506.2L127.2 508.0L126.7 511.4L126.2 509.3L125.7 511.0L125.2 510.1L124.7 509.1L124.2 510.1L123.7 507.0L123.2 510.2L122.7 509.6L122.2 511.6L121.7 510.4L121.2 512.7Z" fill="#0072B2" fill-opacity="0.2" stroke="#0072B2" stroke-opacity="0.2" stroke-width="2.6" stroke-linejoin="round"/></g><path d="M152.50 15.5V542.5M278.50 15.5V542.5M404.50 15.5V542.5M530.50 15.5V542.5M656.50 15.5V542.5M781.50 15.5V542.5M907.50 15.5V542.5M79.5 439.50H985.5M79.5 328.50H985.5M79.5 216.50H985.5M79.5 105.50H985.5" stroke="#808080" stroke-opacity="0.2" stroke-width="1.1" fill="none"/><g clip-path="url(#c)"><path d="M121.4 490.9h0M121.5 489.6h0M121.6 489.1h0M121.8 488.5h0M121.9 489.6h0M122.0 490.1h0M122.1 491.1h0M122.2 488.6h0M122.4 490.9h0M122.5 489.5h0M122.6 491.8h0M122.7 490.5h0M122.8 490.7h0M123.0 488.9h0M123.1 488.6h0M123.2 488.1h0M123.3 486.1h0M123.5 485.2h0M123.6 490.4h0M123.7 484.0h0M123.8 484.7h0M123.9 486.3h0M124.1 481.2h0M124.2 482.6h0M124.3 488.9h0M124.4 483.2h0M124.5 483.5h0M124.7 482.0h0M124.8 485.0h0M124.9 488.5h0M125.0 485.0h0M125.1 482.7h0M125.3 482.9h0M125.4 484.5h0M125.5 484.2h0M125.6 484.0h0M125.7 485.2h0M125.9 484.7h0M126.0 483.9h0M126.1 485.7h0M126.2 486.0h0M126.3 486.6h0M126.5 487.1h0M126.6 486.8h0M126.7 486.0h0M126.8 486.7h0M126.9 487.1h0M127.1 484.3h0M127.2 486.4h0M127.3 483.5h0M127.4 482.4h0M127.6 486.0h0M127.7 482.9h0M127.8 485.9h0M127.9 485.7h0M128.0 480.3h0M128.2 478.8h0M128.3 483.7h0M128.4 477.9h0M128.5 483.5h0M128.6 478.9h0M128.8 479.0h0M128.9 478.2h0M129.0 478.2h0M129.1 481.4h0M129.2 484.6h0M129.4 484.9h0M129.5 480.5h0M129.6 481.8h0M129.7 480.9h0M129.8 482.3h0M130.0 482.4h0M130.1 476.3h0M130.2 477.0h0M130.3 477.1h0M130.4 483.4h0M130.6 484.6h0M130.7 483.3h0M130.8 483.3h0M130.9 483.6h0M131.0 482.7h0M131.2 482.2h0M131.3 481.6h0M131.4 473.9h0M131.5 480.0h0M131.7 478.4h0M131.8 478.7h0M131.9 477.8h0M132.0 477.5h0M132.1 477.6h0M132.3 476.7h0M132.4 476.1h0M132.5 475.9h0M132.6 472.8h0M132.7 474.2h0M132.9 473.2h0M133.0 479.2h0M133.1 471.0h0M133.2 471.6h0M133.3 471.4h0M133.5 470.7h0M133.6 469.2h0M133.7 469.0h0M133.8 467.8h0M133.9 473.1h0M134.1 469.8h0M134.2 470.3h0M134.3 470.7h0M134.4 473.9h0M134.5 472.0h0M134.7 471.3h0M134.8 471.6h0M134.9 468.4h0M135.0 472.7h0M135.1 473.4h0M135.3 472.4h0M135.4 475.0h0M135.5 473.1h0M135.6 471.5h0M135.8 468.7h0M135.9 469.1h0M136.0 465.3h0M136.1 464.6h0M136.2 472.0h0M136.4 462.0h0M136.5 464.3h0M136.6 463.9h0M136.7 464.0h0M136.8 464.5h0M137.0 467.3h0M137.1 466.6h0M137.2 470.7h0M137.3 469.1h0M137.4 470.9h0M137.6 464.4h0M137.7 468.1h0M137.8 469.0h0M137.9 458.4h0M138.0 464.0h0M138.2 467.9h0M138.3 458.2h0M138.4 463.8h0M138.5 456.6h0M138.6 456.2h0M138.8 456.8h0M138.9 457.6h0M139.0 456.6h0M139.1 464.7h0M139.2 458.9h0M139.4 460.3h0M139.5 460.2h0M139.6 454.7h0M139.7 463.5h0M139.9 460.8h0M140.0 465.1h0M140.1 464.7h0M140.2 464.1h0M140.3 463.9h0M140.5 456.2h0M140.6 461.3h0M140.7 459.8h0M140.8 460.2h0M140.9 453.7h0M141.1 458.3h0M141.2 455.4h0M141.3 455.2h0M141.4 454.0h0M141.5 455.2h0M141.7 452.3h0M141.8 454.0h0M141.9 452.5h0M142.0 458.7h0M142.1 452.1h0M142.3 451.6h0M142.4 450.6h0M142.5 454.4h0M142.6 452.1h0M142.7 450.6h0M142.9 451.9h0M143.0 452.5h0M143.1 452.8h0M143.2 455.3h0M143.3 449.6h0M143.5 455.7h0M143.6 457.1h0M143.7 456.5h0M143.8 458.2h0M144.0 459.0h0M144.1 456.7h0M144.2 458.1h0M144.3 458.7h0M144.4 458.5h0M144.6 458.1h0M144.7 458.0h0M144.8 456.6h0M144.9 456.5h0M145.0 457.6h0M145.2 457.6h0M145.3 457.0h0M145.4 456.7h0M145.5 455.7h0M145.6 453.7h0M145.8 453.9h0M145.9 462.5h0M146.0 453.1h0M146.1 451.6h0M146.2 456.2h0M146.4 455.2h0M146.5 457.4h0M146.6 463.5h0M146.7 461.4h0M146.8 464.5h0M147.0 452.8h0M147.1 469.3h0M147.2 467.4h0M147.3 465.8h0M147.4 465.5h0M147.6 464.7h0M147.7 461.0h0M147.8 461.3h0M147.9 459.9h0M148.1 459.3h0M148.2 458.1h0M148.3 458.0h0M148.4 457.0h0M148.5 455.9h0M148.7 455.1h0M148.8 454.4h0M148.9 454.9h0M149.0 453.7h0M149.1 451.2h0M149.3 453.2h0M149.4 454.6h0M149.5 455.8h0M149.6 456.6h0M149.7 451.4h0M149.9 460.6h0M150.0 462.7h0M150.1 460.7h0M150.2 460.5h0M150.3 458.9h0M150.5 458.7h0M150.6 458.1h0M150.7 455.8h0M150.8 457.1h0M150.9 456.2h0M151.1 456.3h0M151.2 455.9h0M151.3 455.0h0M151.4 454.8h0M151.5 460.0h0M151.7 453.5h0M151.8 452.7h0M151.9 455.9h0M152.0 452.3h0M152.2 452.7h0M152.3 456.8h0M152.4 451.1h0M152.5 452.5h0M152.6 452.4h0M152.8 452.9h0M152.9 455.6h0M153.0 455.7h0M153.1 454.6h0M153.2 455.0h0M153.4 456.5h0M153.5 457.9h0M153.6 458.4h0M153.7 458.9h0M153.8 458.7h0M154.0 459.1h0M154.1 458.0h0M154.2 458.8h0M154.3 456.9h0M154.4 455.4h0M154.6 455.5h0M154.7 453.9h0M154.8 451.4h0M154.9 453.7h0M155.0 458.2h0M155.2 454.7h0M155.3 452.1h0M155.4 453.6h0M155.5 451.6h0M155.6 453.2h0M155.8 453.1h0M155.9 451.2h0M156.0 453.8h0M156.1 453.8h0M156.3 455.3h0M156.4 457.5h0M156.5 458.3h0M156.6 459.0h0M156.7 456.3h0M156.9 453.3h0M157.0 454.9h0M157.1 460.5h0M157.2 453.1h0M157.3 457.8h0M157.5 450.1h0M157.6 456.2h0M157.7 452.9h0M157.8 455.2h0M157.9 452.8h0M158.1 452.1h0M158.2 452.8h0M158.3 449.1h0M158.4 449.9h0M158.5 447.6h0M158.7 447.4h0M158.8 446.9h0M158.9 445.9h0M159.0 445.4h0M159.1 448.7h0M159.3 445.2h0M159.4 449.4h0M159.5 446.2h0M159.6 452.2h0M159.7 446.5h0M159.9 445.9h0M160.0 450.7h0M160.1 447.4h0M160.2 446.7h0M160.4 449.4h0M160.5 447.3h0M160.6 445.0h0M160.7 447.5h0M160.8 448.7h0M161.0 446.6h0M161.1 447.9h0M161.2 447.8h0M161.3 440.6h0M161.4 448.2h0M161.6 447.1h0M161.7 446.1h0M161.8 445.2h0M161.9 444.8h0M162.0 445.7h0M162.2 443.1h0M162.3 441.6h0M162.4 441.5h0M162.5 440.3h0M162.6 439.0h0M162.8 439.3h0M162.9 440.2h0M163.0 439.3h0M163.1 437.1h0M163.2 436.4h0M163.4 435.0h0M163.5 442.1h0M163.6 434.1h0M163.7 435.8h0M163.8 438.2h0M164.0 436.4h0M164.1 436.2h0M164.2 439.9h0M164.3 440.2h0M164.5 441.5h0M164.6 443.6h0M164.7 443.7h0M164.8 443.6h0M164.9 443.1h0M165.1 443.9h0M165.2 441.9h0M165.3 444.6h0M165.4 440.7h0M165.5 433.0h0M165.7 440.7h0M165.8 441.2h0M165.9 441.4h0M166.0 439.4h0M166.1 438.3h0M166.3 440.4h0M166.4 438.5h0M166.5 438.2h0M166.6 437.7h0M166.7 438.0h0M166.9 440.3h0M167.0 436.4h0M167.1 436.0h0M167.2 434.0h0M167.3 433.8h0M167.5 433.8h0M167.6 433.5h0M167.7 432.9h0M167.8 433.0h0M167.9 432.5h0M168.1 435.2h0M168.2 435.5h0M168.3 434.6h0M168.4 436.4h0M168.6 436.0h0M168.7 436.8h0M168.8 435.8h0M168.9 436.8h0M169.0 437.8h0M169.2 442.0h0M169.3 438.6h0M169.4 437.3h0M169.5 439.3h0M169.6 440.5h0M169.8 441.5h0M169.9 439.9h0M170.0 439.7h0M170.1 443.2h0M170.2 443.1h0M170.4 434.2h0M170.5 441.3h0M170.6 439.1h0M170.7 442.3h0M170.8 441.1h0M171.0 441.0h0M171.1 441.6h0M171.2 440.1h0M171.3 438.9h0M171.4 438.8h0M171.6 437.9h0M171.7 442.8h0M171.8 440.7h0M171.9 438.5h0M172.1 435.9h0M172.2 436.8h0M172.3 442.0h0M172.4 435.7h0M172.5 436.3h0M172.7 433.3h0M172.8 437.8h0M172.9 434.2h0M173.0 434.0h0M173.1 434.3h0M173.3 437.1h0M173.4 438.4h0M173.5 439.9h0M173.6 443.1h0M173.7 445.7h0M173.9 446.7h0M174.0 449.6h0M174.1 451.3h0M174.2 454.1h0M174.3 441.8h0M174.5 457.6h0M174.6 450.0h0M174.7 455.4h0M174.8 455.2h0M174.9 450.2h0M175.1 452.8h0M175.2 454.3h0M175.3 448.0h0M175.4 459.3h0M175.5 447.1h0M175.7 448.1h0M175.8 448.2h0M175.9 458.0h0M176.0 446.5h0M176.2 444.7h0M176.3 450.7h0M176.4 447.6h0M176.5 448.6h0M176.6 448.7h0M176.8 448.6h0M176.9 450.5h0M177.0 452.6h0M177.1 451.8h0M177.2 453.2h0M177.4 452.6h0M177.5 456.1h0M177.6 452.4h0M177.7 454.8h0M177.8 455.7h0M178.0 456.0h0M178.1 455.6h0M178.2 455.6h0M178.3 457.0h0M178.4 457.7h0M178.6 457.0h0M178.7 457.5h0M178.8 458.9h0M178.9 457.5h0M179.0 456.8h0M179.2 450.5h0M179.3 456.5h0M179.4 455.5h0M179.5 451.5h0M179.6 450.7h0M179.8 454.7h0M179.9 452.5h0M180.0 454.9h0M180.1 457.5h0M180.3 449.0h0M180.4 451.3h0M180.5 450.9h0M180.6 450.7h0M180.7 451.4h0M180.9 450.9h0M181.0 449.4h0M181.1 451.5h0M181.2 459.4h0M181.3 452.2h0M181.5 450.3h0M181.6 453.1h0M181.7 453.5h0M181.8 450.5h0M181.9 454.4h0M182.1 455.7h0M182.2 460.7h0M182.3 459.6h0M182.4 458.7h0M182.5 458.6h0M182.7 459.4h0M182.8 456.9h0M182.9 455.6h0M183.0 461.3h0M183.1 457.5h0M183.3 464.1h0M183.4 455.0h0M183.5 459.2h0M183.6 463.3h0M183.7 460.3h0M183.9 462.6h0M184.0 461.0h0M184.1 462.6h0M184.2 465.3h0M184.4 460.6h0M184.5 459.8h0M184.6 460.8h0M184.7 460.6h0M184.8 458.4h0M185.0 458.6h0M185.1 467.0h0M185.2 457.0h0M185.3 461.8h0M185.4 454.2h0M185.6 455.6h0M185.7 455.4h0M185.8 455.1h0M185.9 458.9h0M186.0 457.1h0M186.2 458.7h0M186.3 456.9h0M186.4 459.9h0M186.5 458.9h0M186.6 460.5h0M186.8 458.8h0M186.9 460.5h0M187.0 460.0h0M187.1 461.1h0M187.2 459.9h0M187.4 461.4h0M187.5 462.6h0M187.6 455.7h0M187.7 461.6h0M187.8 463.5h0M188.0 462.8h0M188.1 461.6h0M188.2 463.3h0M188.3 463.1h0M188.5 465.1h0M188.6 466.6h0M188.7 465.1h0M188.8 463.3h0M188.9 464.5h0M189.1 463.0h0M189.2 462.6h0M189.3 460.1h0M189.4 459.2h0M189.5 457.9h0M189.7 459.5h0M189.8 453.7h0M189.9 461.1h0M190.0 459.1h0M190.1 457.1h0M190.3 456.7h0M190.4 463.6h0M190.5 457.3h0M190.6 454.9h0M190.7 455.7h0M190.9 456.6h0M191.0 457.6h0M191.1 456.5h0M191.2 458.5h0M191.3 461.9h0M191.5 459.1h0M191.6 459.8h0M191.7 460.9h0M191.8 460.9h0M191.9 462.3h0M192.1 462.6h0M192.2 463.9h0M192.3 464.2h0M192.4 458.6h0M192.6 465.7h0M192.7 465.0h0M192.8 465.0h0M192.9 464.8h0M193.0 459.7h0M193.2 460.3h0M193.3 457.5h0M193.4 461.1h0M193.5 458.1h0M193.6 459.1h0M193.8 458.8h0M193.9 459.1h0M194.0 459.0h0M194.1 458.0h0M194.2 459.1h0M194.4 458.9h0M194.5 458.0h0M194.6 455.8h0M194.7 458.3h0M194.8 460.5h0M195.0 457.7h0M195.1 457.8h0M195.2 457.5h0M195.3 458.3h0M195.4 458.2h0M195.6 456.5h0M195.7 457.8h0M195.8 457.6h0M195.9 453.9h0M196.0 456.7h0M196.2 456.8h0M196.3 455.5h0M196.4 454.9h0M196.5 453.0h0M196.7 451.9h0M196.8 451.6h0M196.9 449.6h0M197.0 450.1h0M197.1 449.9h0M197.3 445.2h0M197.4 445.4h0M197.5 445.5h0M197.6 444.3h0M197.7 443.2h0M197.9 447.5h0M198.0 444.4h0M198.1 443.7h0M198.2 447.2h0M198.3 445.1h0M198.5 444.1h0M198.6 444.4h0M198.7 447.8h0M198.8 444.0h0M198.9 448.1h0M199.1 447.8h0M199.2 449.3h0M199.3 449.6h0M199.4 444.0h0M199.5 446.8h0M199.7 442.6h0M199.8 450.4h0M199.9 450.1h0M200.0 448.2h0M200.1 449.8h0M200.3 448.7h0M200.4 448.5h0M200.5 449.2h0M200.6 449.5h0M200.8 449.7h0M200.9 448.2h0M201.0 447.7h0M201.1 448.9h0M201.2 442.7h0M201.4 448.3h0M201.5 447.1h0M201.6 442.9h0M201.7 446.2h0M201.8 446.0h0M202.0 445.4h0M202.1 445.0h0M202.2 447.2h0M202.3 444.4h0M202.4 445.8h0M202.6 444.4h0M202.7 450.3h0M202.8 445.4h0M202.9 445.7h0M203.0 445.8h0M203.2 454.4h0M203.3 448.4h0M203.4 446.1h0M203.5 449.5h0M203.6 446.4h0M203.8 451.8h0M203.9 453.0h0M204.0 454.2h0M204.1 453.1h0M204.2 449.7h0M204.4 455.2h0M204.5 447.3h0M204.6 461.3h0M204.7 464.3h0M204.9 462.8h0M205.0 465.7h0M205.1 454.4h0M205.2 467.0h0M205.3 466.1h0M205.5 468.2h0M205.6 469.2h0M205.7 469.8h0M205.8 466.6h0M205.9 466.1h0M206.1 463.9h0M206.2 461.7h0M206.3 462.9h0M206.4 469.7h0M206.5 462.5h0M206.7 462.2h0M206.8 455.5h0M206.9 460.7h0M207.0 461.3h0M207.1 457.5h0M207.3 460.3h0M207.4 454.4h0M207.5 457.0h0M207.6 456.9h0M207.7 454.0h0M207.9 452.4h0M208.0 465.2h0M208.1 457.7h0M208.2 471.0h0M208.3 460.6h0M208.5 464.4h0M208.6 465.3h0M208.7 465.1h0M208.8 469.0h0M209.0 471.1h0M209.1 472.3h0M209.2 473.9h0M209.3 463.5h0M209.4 459.7h0M209.6 476.9h0M209.7 476.6h0M209.8 477.0h0M209.9 475.0h0M210.0 464.8h0M210.2 473.7h0M210.3 478.0h0M210.4 472.4h0M210.5 478.1h0M210.6 473.7h0M210.8 473.4h0M210.9 469.0h0M211.0 471.4h0M211.1 467.6h0M211.2 468.7h0M211.4 477.7h0M211.5 468.6h0M211.6 467.6h0M211.7 468.0h0M211.8 467.4h0M212.0 466.0h0M212.1 469.6h0M212.2 477.2h0M212.3 473.9h0M212.4 468.7h0M212.6 467.8h0M212.7 477.4h0M212.8 469.7h0M212.9 470.6h0M213.1 471.0h0M213.2 471.8h0M213.3 472.6h0M213.4 472.7h0M213.5 473.6h0M213.7 474.5h0M213.8 476.0h0M213.9 476.5h0M214.0 477.7h0M214.1 476.3h0M214.3 478.3h0M214.4 477.6h0M214.5 479.1h0M214.6 480.1h0M214.7 478.9h0M214.9 478.2h0M215.0 481.8h0M215.1 479.3h0M215.2 482.8h0M215.3 484.1h0M215.5 482.7h0M215.6 481.8h0M215.7 481.3h0M215.8 476.3h0M215.9 482.1h0M216.1 481.3h0M216.2 482.2h0M216.3 480.4h0M216.4 479.1h0M216.5 478.2h0M216.7 478.5h0M216.8 477.1h0M216.9 476.1h0M217.0 477.6h0M217.2 475.0h0M217.3 484.1h0M217.4 475.0h0M217.5 478.4h0M217.6 475.2h0M217.8 479.3h0M217.9 480.6h0M218.0 477.2h0M218.1 478.2h0M218.2 479.4h0M218.4 482.3h0M218.5 479.9h0M218.6 480.9h0M218.7 478.3h0M218.8 481.6h0M219.0 480.6h0M219.1 476.6h0M219.2 482.8h0M219.3 478.1h0M219.4 482.8h0M219.6 484.6h0M219.7 484.0h0M219.8 485.4h0M219.9 485.9h0M220.0 482.8h0M220.2 484.7h0M220.3 483.8h0M220.4 483.7h0M220.5 483.8h0M220.7 477.5h0M220.8 483.0h0M220.9 481.9h0M221.0 481.3h0M221.1 484.5h0M221.3 479.0h0M221.4 481.2h0M221.5 480.7h0M221.6 480.9h0M221.7 480.3h0M221.9 480.1h0M222.0 481.7h0M222.1 484.0h0M222.2 482.0h0M222.3 484.1h0M222.5 484.7h0M222.6 482.2h0M222.7 478.7h0M222.8 479.7h0M222.9 479.1h0M223.1 481.1h0M223.2 481.3h0M223.3 482.9h0M223.4 483.7h0M223.5 483.6h0M223.7 484.3h0M223.8 484.3h0M223.9 478.1h0M224.0 483.8h0M224.1 481.5h0M224.3 482.0h0M224.4 482.5h0M224.5 482.1h0M224.6 483.1h0M224.8 482.0h0M224.9 480.7h0M225.0 480.6h0M225.1 479.2h0M225.2 479.8h0M225.4 481.3h0M225.5 476.1h0M225.6 478.3h0M225.7 477.9h0M225.8 477.9h0M226.0 477.4h0M226.1 477.0h0M226.2 476.6h0M226.3 475.5h0M226.4 477.1h0M226.6 476.1h0M226.7 474.8h0M226.8 474.7h0M226.9 475.3h0M227.0 475.7h0M227.2 475.3h0M227.3 475.5h0M227.4 475.4h0M227.5 477.4h0M227.6 476.6h0M227.8 475.1h0M227.9 477.5h0M228.0 476.5h0M228.1 475.1h0M228.2 474.5h0M228.4 476.3h0M228.5 476.5h0M228.6 475.2h0M228.7 476.1h0M228.9 475.5h0M229.0 473.7h0M229.1 474.9h0M229.2 474.0h0M229.3 473.3h0M229.5 473.9h0M229.6 472.8h0M229.7 472.6h0M229.8 471.4h0M229.9 471.0h0M230.1 471.2h0M230.2 471.1h0M230.3 474.0h0M230.4 471.4h0M230.5 474.9h0M230.7 471.6h0M230.8 472.3h0M230.9 474.4h0M231.0 470.0h0M231.1 472.5h0M231.3 472.5h0M231.4 471.2h0M231.5 473.7h0M231.6 472.5h0M231.7 470.0h0M231.9 473.9h0M232.0 473.7h0M232.1 473.6h0M232.2 473.4h0M232.3 472.1h0M232.5 471.9h0M232.6 471.8h0M232.7 470.6h0M232.8 470.2h0M233.0 470.2h0M233.1 469.8h0M233.2 468.4h0M233.3 467.2h0M233.4 467.7h0M233.6 471.1h0M233.7 468.3h0M233.8 471.2h0M233.9 469.8h0M234.0 469.5h0M234.2 469.6h0M234.3 467.2h0M234.4 471.1h0M234.5 470.7h0M234.6 468.4h0M234.8 467.5h0M234.9 468.7h0M235.0 468.3h0M235.1 466.7h0M235.2 466.5h0M235.4 466.2h0M235.5 464.5h0M235.6 465.3h0M235.7 468.3h0M235.8 465.1h0M236.0 464.8h0M236.1 465.2h0M236.2 465.9h0M236.3 467.8h0M236.4 465.7h0M236.6 465.1h0M236.7 465.9h0M236.8 463.8h0M236.9 466.6h0M237.1 463.9h0M237.2 466.7h0M237.3 466.9h0M237.4 466.6h0M237.5 466.7h0M237.7 466.9h0M237.8 466.9h0M237.9 467.9h0M238.0 467.5h0M238.1 467.6h0M238.3 462.8h0M238.4 466.7h0M238.5 463.5h0M238.6 466.4h0M238.7 465.6h0M238.9 463.3h0M239.0 462.2h0M239.1 464.3h0M239.2 462.1h0M239.3 463.4h0M239.5 463.6h0M239.6 462.3h0M239.7 462.2h0M239.8 462.0h0M239.9 461.8h0M240.1 460.7h0M240.2 460.5h0M240.3 459.5h0M240.4 464.8h0M240.5 463.4h0M240.7 464.6h0M240.8 459.0h0M240.9 459.9h0M241.0 460.1h0M241.2 460.9h0M241.3 462.8h0M241.4 462.7h0M241.5 459.0h0M241.6 464.7h0M241.8 464.6h0M241.9 462.6h0M242.0 463.9h0M242.1 458.8h0M242.2 463.6h0M242.4 462.6h0M242.5 463.0h0M242.6 461.6h0M242.7 462.8h0M242.8 462.2h0M243.0 461.4h0M243.1 461.0h0M243.2 460.3h0M243.3 460.2h0M243.4 459.6h0M243.6 460.1h0M243.7 459.3h0M243.8 459.5h0M243.9 458.7h0M244.0 459.6h0M244.2 459.6h0M244.3 460.3h0M244.4 458.1h0M244.5 459.8h0M244.6 459.4h0M244.8 459.6h0M244.9 459.4h0M245.0 460.6h0M245.1 460.3h0M245.3 462.1h0M245.4 461.9h0M245.5 459.6h0M245.6 461.0h0M245.7 461.6h0M245.9 459.0h0M246.0 460.3h0M246.1 460.8h0M246.2 460.8h0M246.3 461.1h0M246.5 460.3h0M246.6 459.1h0M246.7 460.3h0M246.8 461.6h0M246.9 460.6h0M247.1 460.3h0M247.2 459.4h0M247.3 459.9h0M247.4 462.6h0M247.5 459.0h0M247.7 460.2h0M247.8 459.1h0M247.9 459.5h0M248.0 462.7h0M248.1 460.1h0M248.3 463.4h0M248.4 461.0h0M248.5 461.2h0M248.6 464.3h0M248.7 461.8h0M248.9 463.8h0M249.0 460.4h0M249.1 462.4h0M249.2 463.4h0M249.4 463.2h0M249.5 464.6h0M249.6 463.5h0M249.7 463.9h0M249.8 464.4h0M250.0 464.7h0M250.1 464.5h0M250.2 464.1h0M250.3 464.4h0M250.4 464.3h0M250.6 464.4h0M250.7 459.7h0M250.8 463.5h0M250.9 462.3h0M251.0 461.9h0M251.2 458.0h0M251.3 461.6h0M251.4 460.5h0M251.5 459.9h0M251.6 458.4h0M251.8 458.1h0M251.9 459.0h0M252.0 457.5h0M252.1 457.9h0M252.2 455.8h0M252.4 456.1h0M252.5 456.0h0M252.6 454.2h0M252.7 454.9h0M252.8 453.1h0M253.0 451.8h0M253.1 450.8h0M253.2 450.4h0M253.3 450.0h0M253.5 448.6h0M253.6 453.0h0M253.7 447.8h0M253.8 446.9h0M253.9 447.6h0M254.1 448.3h0M254.2 448.3h0M254.3 447.8h0M254.4 451.1h0M254.5 448.4h0M254.7 450.4h0M254.8 449.9h0M254.9 450.3h0M255.0 454.2h0M255.1 450.2h0M255.3 450.8h0M255.4 453.3h0M255.5 451.4h0M255.6 448.1h0M255.7 447.6h0M255.9 451.9h0M256.0 450.4h0M256.1 451.9h0M256.2 451.8h0M256.3 452.9h0M256.5 453.7h0M256.6 447.8h0M256.7 451.9h0M256.8 452.5h0M256.9 451.3h0M257.1 447.8h0M257.2 451.6h0M257.3 450.9h0M257.4 449.6h0M257.6 450.1h0M257.7 450.0h0M257.8 450.3h0M257.9 449.6h0M258.0 448.4h0M258.2 449.5h0M258.3 447.9h0M258.4 447.6h0M258.5 447.4h0M258.6 449.7h0M258.8 447.1h0M258.9 446.5h0M259.0 448.2h0M259.1 446.0h0M259.2 450.1h0M259.4 447.2h0M259.5 447.8h0M259.6 448.4h0M259.7 449.0h0M259.8 445.6h0M260.0 449.7h0M260.1 446.6h0M260.2 450.4h0M260.3 450.2h0M260.4 446.7h0M260.6 446.8h0M260.7 449.6h0M260.8 449.7h0M260.9 449.6h0M261.0 449.1h0M261.2 448.9h0M261.3 447.4h0M261.4 447.8h0M261.5 447.0h0M261.7 447.7h0M261.8 446.6h0M261.9 446.2h0M262.0 445.9h0M262.1 445.1h0M262.3 448.2h0M262.4 444.0h0M262.5 444.1h0M262.6 442.5h0M262.7 446.1h0M262.9 441.9h0M263.0 442.9h0M263.1 442.4h0M263.2 449.8h0M263.3 442.7h0M263.5 441.7h0M263.6 446.6h0M263.7 445.1h0M263.8 447.1h0M263.9 448.1h0M264.1 444.6h0M264.2 441.0h0M264.3 446.0h0M264.4 445.7h0M264.5 445.7h0M264.7 447.6h0M264.8 448.0h0M264.9 447.8h0M265.0 447.3h0M265.1 447.3h0M265.3 448.0h0M265.4 448.2h0M265.5 449.5h0M265.6 445.7h0M265.8 443.2h0M265.9 449.8h0M266.0 447.4h0M266.1 447.1h0M266.2 447.1h0M266.4 444.9h0M266.5 443.6h0M266.6 444.4h0M266.7 443.2h0M266.8 446.3h0M267.0 442.4h0M267.1 440.6h0M267.2 441.2h0M267.3 443.7h0M267.4 443.0h0M267.6 443.7h0M267.7 445.1h0M267.8 446.8h0M267.9 445.3h0M268.0 449.7h0M268.2 447.9h0M268.3 450.2h0M268.4 451.9h0M268.5 440.4h0M268.6 450.9h0M268.8 451.8h0M268.9 452.0h0M269.0 452.3h0M269.1 449.8h0M269.3 449.0h0M269.4 448.2h0M269.5 450.1h0M269.6 442.8h0M269.7 446.7h0M269.9 445.3h0M270.0 447.0h0M270.1 448.0h0M270.2 446.5h0M270.3 445.3h0M270.5 445.1h0M270.6 444.2h0M270.7 442.9h0M270.8 444.4h0M270.9 442.9h0M271.1 449.8h0M271.2 444.5h0M271.3 451.6h0M271.4 444.5h0M271.5 447.1h0M271.7 448.5h0M271.8 447.6h0M271.9 446.9h0M272.0 447.7h0M272.1 453.7h0M272.3 448.5h0M272.4 449.1h0M272.5 450.6h0M272.6 451.2h0M272.7 452.5h0M272.9 451.5h0M273.0 454.8h0M273.1 455.8h0M273.2 452.3h0M273.4 453.2h0M273.5 455.3h0M273.6 453.7h0M273.7 448.5h0M273.8 452.8h0M274.0 453.7h0M274.1 448.1h0M274.2 444.3h0M274.3 449.4h0M274.4 448.5h0M274.6 446.8h0M274.7 448.6h0M274.8 445.1h0M274.9 444.4h0M275.0 444.2h0M275.2 442.3h0M275.3 442.7h0M275.4 441.4h0M275.5 442.4h0M275.6 442.1h0M275.8 444.1h0M275.9 441.8h0M276.0 442.4h0M276.1 446.6h0M276.2 442.1h0M276.4 442.8h0M276.5 447.1h0M276.6 442.8h0M276.7 441.9h0M276.8 442.5h0M277.0 441.4h0M277.1 442.4h0M277.2 441.2h0M277.3 442.9h0M277.5 439.9h0M277.6 444.4h0M277.7 438.2h0M277.8 442.6h0M277.9 442.0h0M278.1 437.2h0M278.2 443.5h0M278.3 437.7h0M278.4 440.3h0M278.5 436.1h0M278.7 440.4h0M278.8 441.5h0M278.9 441.0h0M279.0 441.7h0M279.1 440.4h0M279.3 438.3h0M279.4 438.1h0M279.5 437.8h0M279.6 438.2h0M279.7 440.8h0M279.9 435.7h0M280.0 435.1h0M280.1 435.2h0M280.2 434.1h0M280.3 439.8h0M280.5 436.1h0M280.6 436.0h0M280.7 436.7h0M280.8 436.3h0M280.9 435.4h0M281.1 437.0h0M281.2 436.7h0M281.3 436.8h0M281.4 433.7h0M281.6 436.5h0M281.7 433.3h0M281.8 436.2h0M281.9 434.8h0M282.0 435.3h0M282.2 434.3h0M282.3 432.5h0M282.4 433.4h0M282.5 432.0h0M282.6 432.8h0M282.8 430.5h0M282.9 429.5h0M283.0 429.4h0M283.1 429.7h0M283.2 429.4h0M283.4 430.1h0M283.5 428.4h0M283.6 430.4h0M283.7 432.5h0M283.8 428.5h0M284.0 429.9h0M284.1 431.0h0M284.2 433.4h0M284.3 429.6h0M284.4 433.1h0M284.6 430.4h0M284.7 430.7h0M284.8 429.6h0M284.9 430.8h0M285.0 431.5h0M285.2 429.4h0M285.3 429.7h0M285.4 430.6h0M285.5 430.6h0M285.7 430.8h0M285.8 428.8h0M285.9 428.3h0M286.0 425.2h0M286.1 429.9h0M286.3 429.2h0M286.4 428.8h0M286.5 429.0h0M286.6 424.8h0M286.7 428.0h0M286.9 427.1h0M287.0 421.7h0M287.1 425.7h0M287.2 426.5h0M287.3 422.2h0M287.5 424.5h0M287.6 422.4h0M287.7 424.0h0M287.8 420.1h0M287.9 421.4h0M288.1 422.3h0M288.2 420.9h0M288.3 420.8h0M288.4 419.0h0M288.5 419.1h0M288.7 420.3h0M288.8 419.0h0M288.9 427.4h0M289.0 418.1h0M289.1 418.2h0M289.3 425.9h0M289.4 417.2h0M289.5 419.3h0M289.6 419.3h0M289.8 418.8h0M289.9 421.4h0M290.0 418.9h0M290.1 420.4h0M290.2 420.8h0M290.4 418.9h0M290.5 420.0h0M290.6 413.5h0M290.7 422.9h0M290.8 423.4h0M291.0 423.5h0M291.1 423.2h0M291.2 420.5h0M291.3 422.9h0M291.4 422.0h0M291.6 423.7h0M291.7 423.0h0M291.8 419.7h0M291.9 419.3h0M292.0 412.1h0M292.2 415.5h0M292.3 416.0h0M292.4 411.3h0M292.5 411.0h0M292.6 408.5h0M292.8 407.1h0M292.9 406.1h0M293.0 403.0h0M293.1 402.0h0M293.2 398.6h0M293.4 399.4h0M293.5 407.3h0M293.6 399.6h0M293.7 399.6h0M293.9 400.8h0M294.0 398.3h0M294.1 399.7h0M294.2 401.7h0M294.3 400.1h0M294.5 401.6h0M294.6 398.6h0M294.7 402.7h0M294.8 400.9h0M294.9 403.9h0M295.1 393.1h0M295.2 399.8h0M295.3 399.4h0M295.4 401.9h0M295.5 400.6h0M295.7 397.7h0M295.8 394.2h0M295.9 394.1h0M296.0 392.5h0M296.1 388.1h0M296.3 395.0h0M296.4 387.1h0M296.5 387.6h0M296.6 386.1h0M296.7 379.3h0M296.9 380.4h0M297.0 380.0h0M297.1 386.8h0M297.2 376.1h0M297.3 374.9h0M297.5 374.4h0M297.6 373.9h0M297.7 389.5h0M297.8 371.2h0M298.0 374.9h0M298.1 373.3h0M298.2 373.4h0M298.3 373.5h0M298.4 380.2h0M298.6 373.1h0M298.7 370.4h0M298.8 378.1h0M298.9 373.2h0M299.0 377.3h0M299.2 375.4h0M299.3 374.6h0M299.4 377.9h0M299.5 376.3h0M299.6 374.2h0M299.8 375.2h0M299.9 375.2h0M300.0 377.7h0M300.1 376.7h0M300.2 374.2h0M300.4 374.2h0M300.5 377.1h0M300.6 372.5h0M300.7 362.0h0M300.8 368.3h0M301.0 367.0h0M301.1 363.6h0M301.2 362.0h0M301.3 358.2h0M301.4 362.3h0M301.6 356.1h0M301.7 357.0h0M301.8 364.1h0M301.9 360.6h0M302.1 350.2h0M302.2 347.8h0M302.3 348.8h0M302.4 347.3h0M302.5 354.0h0M302.7 349.0h0M302.8 351.8h0M302.9 355.2h0M303.0 357.5h0M303.1 353.9h0M303.3 355.5h0M303.4 358.1h0M303.5 356.3h0M303.6 354.4h0M303.7 355.2h0M303.9 354.0h0M304.0 354.9h0M304.1 359.6h0M304.2 352.9h0M304.3 345.7h0M304.5 355.0h0M304.6 359.1h0M304.7 361.2h0M304.8 356.9h0M304.9 351.4h0M305.1 358.6h0M305.2 354.9h0M305.3 352.2h0M305.4 343.4h0M305.5 347.7h0M305.7 343.8h0M305.8 321.2h0M305.9 333.4h0M306.0 331.2h0M306.2 328.7h0M306.3 329.0h0M306.4 322.7h0M306.5 323.5h0M306.6 321.1h0M306.8 315.9h0M306.9 319.4h0M307.0 321.4h0M307.1 314.9h0M307.2 321.5h0M307.4 317.1h0M307.5 322.2h0M307.6 324.7h0M307.7 330.9h0M307.8 328.9h0M308.0 329.1h0M308.1 334.9h0M308.2 334.3h0M308.3 332.9h0M308.4 338.7h0M308.6 336.5h0M308.7 330.0h0M308.8 332.3h0M308.9 332.8h0M309.0 331.1h0M309.2 332.5h0M309.3 331.0h0M309.4 328.7h0M309.5 327.7h0M309.6 326.1h0M309.8 328.5h0M309.9 311.9h0M310.0 316.8h0M310.1 324.4h0M310.3 318.1h0M310.4 319.1h0M310.5 315.0h0M310.6 314.3h0M310.7 311.9h0M310.9 321.1h0M311.0 306.3h0M311.1 313.2h0M311.2 310.9h0M311.3 315.3h0M311.5 319.1h0M311.6 323.9h0M311.7 321.7h0M311.8 325.8h0M311.9 328.5h0M312.1 326.7h0M312.2 326.9h0M312.3 319.0h0M312.4 326.3h0M312.5 322.8h0M312.7 318.1h0M312.8 320.1h0M312.9 321.9h0M313.0 314.0h0M313.1 299.9h0M313.3 306.5h0M313.4 307.7h0M313.5 299.9h0M313.6 324.3h0M313.7 303.0h0M313.9 301.5h0M314.0 304.5h0M314.1 304.8h0M314.2 319.8h0M314.4 309.2h0M314.5 312.1h0M314.6 306.2h0M314.7 314.8h0M314.8 299.9h0M315.0 320.0h0M315.1 322.8h0M315.2 324.0h0M315.3 324.2h0M315.4 328.5h0M315.6 324.5h0M315.7 324.8h0M315.8 319.5h0M315.9 318.9h0M316.0 319.1h0M316.2 309.3h0M316.3 319.0h0M316.4 304.7h0M316.5 300.0h0M316.6 297.4h0M316.8 309.5h0M316.9 290.9h0M317.0 299.3h0M317.1 304.3h0M317.2 309.9h0M317.4 319.8h0M317.5 308.3h0M317.6 319.7h0M317.7 318.3h0M317.9 323.3h0M318.0 327.3h0M318.1 321.2h0M318.2 324.5h0M318.3 318.7h0M318.5 316.4h0M318.6 320.7h0M318.7 315.9h0M318.8 309.1h0M318.9 308.6h0M319.1 307.2h0M319.2 304.1h0M319.3 299.5h0M319.4 304.1h0M319.5 300.1h0M319.7 299.2h0M319.8 295.9h0M319.9 295.6h0M320.0 296.4h0M320.1 298.0h0M320.3 302.8h0M320.4 303.8h0M320.5 308.7h0M320.6 305.8h0M320.7 312.9h0M320.9 308.8h0M321.0 313.0h0M321.1 313.1h0M321.2 319.0h0M321.3 318.0h0M321.5 319.0h0M321.6 319.3h0M321.7 308.7h0M321.8 295.9h0M322.0 326.4h0M322.1 315.7h0M322.2 318.5h0M322.3 297.4h0M322.4 322.7h0M322.6 314.6h0M322.7 326.2h0M322.8 312.4h0M322.9 309.7h0M323.0 313.4h0M323.2 308.6h0M323.3 304.3h0M323.4 306.6h0M323.5 300.9h0M323.6 301.5h0M323.8 298.6h0M323.9 296.4h0M324.0 293.5h0M324.1 293.3h0M324.2 296.0h0M324.4 298.7h0M324.5 298.4h0M324.6 303.8h0M324.7 303.7h0M324.8 303.5h0M325.0 294.5h0M325.1 308.3h0M325.2 304.7h0M325.3 320.3h0M325.4 311.0h0M325.6 311.8h0M325.7 316.3h0M325.8 312.2h0M325.9 309.5h0M326.1 322.6h0M326.2 319.0h0M326.3 316.9h0M326.4 321.9h0M326.5 299.0h0M326.7 296.2h0M326.8 320.5h0M326.9 319.8h0M327.0 324.9h0M327.1 319.8h0M327.3 306.3h0M327.4 317.1h0M327.5 315.6h0M327.6 322.8h0M327.7 313.5h0M327.9 315.4h0M328.0 315.6h0M328.1 314.8h0M328.2 312.1h0M328.3 309.4h0M328.5 309.5h0M328.6 309.5h0M328.7 304.7h0M328.8 305.8h0M328.9 303.8h0M329.1 302.0h0M329.2 317.0h0M329.3 300.6h0M329.4 301.5h0M329.5 313.3h0M329.7 297.8h0M329.8 293.3h0M329.9 297.4h0M330.0 303.2h0M330.2 295.7h0M330.3 298.9h0M330.4 302.9h0M330.5 310.5h0M330.6 305.2h0M330.8 313.6h0M330.9 312.8h0M331.0 317.5h0M331.1 319.0h0M331.2 312.0h0M331.4 310.2h0M331.5 308.3h0M331.6 308.2h0M331.7 300.6h0M331.8 300.4h0M332.0 296.7h0M332.1 303.2h0M332.2 307.2h0M332.3 307.4h0M332.4 304.1h0M332.6 320.1h0M332.7 307.8h0M332.8 312.8h0M332.9 316.2h0M333.0 316.7h0M333.2 319.0h0M333.3 318.8h0M333.4 327.6h0M333.5 319.1h0M333.6 332.3h0M333.8 327.4h0M333.9 330.5h0M334.0 329.1h0M334.1 331.5h0M334.3 333.5h0M334.4 312.0h0M334.5 336.1h0M334.6 336.6h0M334.7 336.1h0M334.9 332.5h0M335.0 334.5h0M335.1 330.8h0M335.2 336.3h0M335.3 332.8h0M335.5 332.1h0M335.6 333.6h0M335.7 334.8h0M335.8 331.7h0M335.9 337.4h0M336.1 330.0h0M336.2 332.1h0M336.3 322.4h0M336.4 330.3h0M336.5 329.2h0M336.7 329.1h0M336.8 330.2h0M336.9 325.6h0M337.0 328.8h0M337.1 326.9h0M337.3 328.3h0M337.4 328.5h0M337.5 349.7h0M337.6 326.7h0M337.7 328.5h0M337.9 332.6h0M338.0 331.7h0M338.1 338.0h0M338.2 335.4h0M338.4 340.5h0M338.5 339.2h0M338.6 342.3h0M338.7 342.5h0M338.8 345.3h0M339.0 345.6h0M339.1 349.2h0M339.2 349.4h0M339.3 345.7h0M339.4 330.3h0M339.6 343.7h0M339.7 339.5h0M339.8 341.2h0M339.9 338.5h0M340.0 340.0h0M340.2 334.8h0M340.3 334.1h0M340.4 332.8h0M340.5 327.7h0M340.6 330.1h0M340.8 326.0h0M340.9 328.4h0M341.0 327.3h0M341.1 322.9h0M341.2 329.8h0M341.4 324.9h0M341.5 325.7h0M341.6 327.5h0M341.7 326.6h0M341.8 324.6h0M342.0 325.4h0M342.1 328.0h0M342.2 333.3h0M342.3 330.0h0M342.5 338.5h0M342.6 332.7h0M342.7 331.6h0M342.8 333.7h0M342.9 335.0h0M343.1 335.4h0M343.2 337.0h0M343.3 340.6h0M343.4 340.4h0M343.5 340.2h0M343.7 326.8h0M343.8 337.8h0M343.9 336.9h0M344.0 337.1h0M344.1 335.3h0M344.3 334.7h0M344.4 332.8h0M344.5 334.1h0M344.6 331.4h0M344.7 337.5h0M344.9 331.5h0M345.0 330.5h0M345.1 331.4h0M345.2 329.3h0M345.3 328.9h0M345.5 328.1h0M345.6 331.8h0M345.7 327.1h0M345.8 325.0h0M345.9 335.1h0M346.1 325.5h0M346.2 343.1h0M346.3 344.8h0M346.4 331.9h0M346.6 336.1h0M346.7 337.4h0M346.8 341.0h0M346.9 341.9h0M347.0 341.1h0M347.2 346.3h0M347.3 331.9h0M347.4 345.1h0M347.5 345.5h0M347.6 334.2h0M347.8 341.6h0M347.9 340.6h0M348.0 341.8h0M348.1 342.7h0M348.2 337.4h0M348.4 340.1h0M348.5 339.7h0M348.6 340.2h0M348.7 339.3h0M348.8 337.1h0M349.0 332.0h0M349.1 337.0h0M349.2 337.2h0M349.3 338.2h0M349.4 332.5h0M349.6 338.0h0M349.7 335.0h0M349.8 340.7h0M349.9 338.8h0M350.0 337.7h0M350.2 340.6h0M350.3 339.7h0M350.4 345.2h0M350.5 345.4h0M350.7 344.3h0M350.8 345.6h0M350.9 350.4h0M351.0 350.3h0M351.1 353.8h0M351.3 340.1h0M351.4 341.2h0M351.5 355.3h0M351.6 358.6h0M351.7 362.1h0M351.9 361.0h0M352.0 348.0h0M352.1 361.9h0M352.2 357.7h0M352.3 358.6h0M352.5 359.5h0M352.6 353.8h0M352.7 353.6h0M352.8 357.7h0M352.9 353.2h0M353.1 352.7h0M353.2 352.5h0M353.3 352.9h0M353.4 352.6h0M353.5 350.1h0M353.7 351.9h0M353.8 348.5h0M353.9 348.3h0M354.0 349.0h0M354.1 346.7h0M354.3 348.4h0M354.4 344.0h0M354.5 345.3h0M354.6 346.3h0M354.8 345.9h0M354.9 347.4h0M355.0 349.4h0M355.1 351.3h0M355.2 351.7h0M355.4 351.4h0M355.5 355.7h0M355.6 356.3h0M355.7 357.8h0M355.8 354.3h0M356.0 352.0h0M356.1 360.7h0M356.2 358.8h0M356.3 356.9h0M356.4 355.2h0M356.6 357.0h0M356.7 351.0h0M356.8 351.9h0M356.9 350.4h0M357.0 361.9h0M357.2 346.3h0M357.3 354.3h0M357.4 347.5h0M357.5 345.6h0M357.6 348.2h0M357.8 350.4h0M357.9 352.9h0M358.0 359.7h0M358.1 350.3h0M358.2 352.7h0M358.4 351.7h0M358.5 354.1h0M358.6 355.3h0M358.7 357.2h0M358.9 359.0h0M359.0 359.7h0M359.1 360.2h0M359.2 360.3h0M359.3 363.4h0M359.5 359.5h0M359.6 367.1h0M359.7 368.8h0M359.8 366.2h0M359.9 368.6h0M360.1 369.0h0M360.2 372.3h0M360.3 355.9h0M360.4 371.0h0M360.5 369.8h0M360.7 361.5h0M360.8 368.8h0M360.9 357.6h0M361.0 368.4h0M361.1 363.3h0M361.3 365.6h0M361.4 362.1h0M361.5 365.7h0M361.6 365.6h0M361.7 361.8h0M361.9 361.7h0M362.0 366.6h0M362.1 354.8h0M362.2 357.0h0M362.3 349.9h0M362.5 353.5h0M362.6 355.5h0M362.7 355.0h0M362.8 354.7h0M363.0 355.4h0M363.1 353.3h0M363.2 353.9h0M363.3 352.0h0M363.4 351.3h0M363.6 357.2h0M363.7 354.8h0M363.8 356.4h0M363.9 364.8h0M364.0 360.7h0M364.2 361.7h0M364.3 367.3h0M364.4 363.5h0M364.5 372.0h0M364.6 361.1h0M364.8 362.9h0M364.9 366.3h0M365.0 363.5h0M365.1 368.3h0M365.2 368.3h0M365.4 350.9h0M365.5 371.9h0M365.6 352.4h0M365.7 372.0h0M365.8 356.7h0M366.0 354.1h0M366.1 366.6h0M366.2 367.8h0M366.3 366.1h0M366.5 378.2h0M366.6 364.1h0M366.7 362.7h0M366.8 374.1h0M366.9 369.4h0M367.1 376.1h0M367.2 382.7h0M367.3 385.5h0M367.4 392.3h0M367.5 396.5h0M367.7 399.9h0M367.8 405.7h0M367.9 411.7h0M368.0 416.4h0M368.1 409.6h0M368.3 405.8h0M368.4 399.1h0M368.5 406.5h0M368.6 405.8h0M368.7 391.7h0M368.9 406.6h0M369.0 403.2h0M369.1 402.5h0M369.2 399.5h0M369.3 400.0h0M369.5 395.3h0M369.6 405.7h0M369.7 401.9h0M369.8 400.3h0M369.9 407.2h0M370.1 407.4h0M370.2 412.9h0M370.3 415.1h0M370.4 401.0h0M370.6 419.2h0M370.7 421.6h0M370.8 424.9h0M370.9 427.9h0M371.0 428.4h0M371.2 424.1h0M371.3 419.9h0M371.4 417.8h0M371.5 415.5h0M371.6 418.3h0M371.8 420.8h0M371.9 414.0h0M372.0 415.2h0M372.1 410.8h0M372.2 414.5h0M372.4 411.4h0M372.5 409.7h0M372.6 412.3h0M372.7 410.7h0M372.8 410.7h0M373.0 412.6h0M373.1 430.2h0M373.2 420.3h0M373.3 418.0h0M373.4 419.9h0M373.6 421.3h0M373.7 425.8h0M373.8 430.8h0M373.9 426.8h0M374.0 426.5h0M374.2 427.0h0M374.3 425.1h0M374.4 431.3h0M374.5 428.8h0M374.7 427.2h0M374.8 417.4h0M374.9 417.0h0M375.0 423.4h0M375.1 422.3h0M375.3 420.6h0M375.4 420.5h0M375.5 417.6h0M375.6 418.8h0M375.7 414.4h0M375.9 411.9h0M376.0 413.0h0M376.1 413.8h0M376.2 409.8h0M376.3 412.1h0M376.5 412.8h0M376.6 414.2h0M376.7 412.7h0M376.8 419.1h0M376.9 431.4h0M377.1 417.6h0M377.2 422.4h0M377.3 422.0h0M377.4 424.7h0M377.5 413.3h0M377.7 427.1h0M377.8 425.6h0M377.9 423.3h0M378.0 428.8h0M378.1 428.2h0M378.3 410.8h0M378.4 426.7h0M378.5 424.1h0M378.6 422.7h0M378.8 423.9h0M378.9 428.0h0M379.0 418.1h0M379.1 416.3h0M379.2 416.4h0M379.4 416.7h0M379.5 413.0h0M379.6 429.4h0M379.7 412.7h0M379.8 415.2h0M380.0 411.3h0M380.1 414.1h0M380.2 412.1h0M380.3 415.0h0M380.4 417.0h0M380.6 418.6h0M380.7 416.0h0M380.8 419.7h0M380.9 421.4h0M381.0 416.5h0M381.2 424.1h0M381.3 421.5h0M381.4 421.0h0M381.5 423.5h0M381.6 414.7h0M381.8 426.4h0M381.9 424.5h0M382.0 425.2h0M382.1 427.2h0M382.2 427.7h0M382.4 416.6h0M382.5 424.2h0M382.6 425.7h0M382.7 423.2h0M382.9 424.2h0M383.0 424.2h0M383.1 422.7h0M383.2 421.8h0M383.3 424.3h0M383.5 422.2h0M383.6 422.5h0M383.7 423.1h0M383.8 429.0h0M383.9 420.2h0M384.1 424.3h0M384.2 420.6h0M384.3 419.1h0M384.4 419.8h0M384.5 419.1h0M384.7 430.0h0M384.8 418.7h0M384.9 418.9h0M385.0 433.8h0M385.1 419.0h0M385.3 433.2h0M385.4 421.0h0M385.5 434.9h0M385.6 423.5h0M385.7 427.7h0M385.9 429.1h0M386.0 439.4h0M386.1 432.1h0M386.2 435.1h0M386.3 438.0h0M386.5 436.8h0M386.6 436.3h0M386.7 440.7h0M386.8 443.0h0M387.0 442.1h0M387.1 442.0h0M387.2 439.9h0M387.3 441.8h0M387.4 441.8h0M387.6 439.9h0M387.7 439.1h0M387.8 438.6h0M387.9 438.9h0M388.0 439.8h0M388.2 439.6h0M388.3 436.1h0M388.4 434.7h0M388.5 434.2h0M388.6 435.9h0M388.8 434.1h0M388.9 433.5h0M389.0 433.0h0M389.1 432.1h0M389.2 441.0h0M389.4 447.1h0M389.5 432.0h0M389.6 446.1h0M389.7 433.6h0M389.8 447.4h0M390.0 448.3h0M390.1 438.7h0M390.2 439.3h0M390.3 439.9h0M390.4 440.3h0M390.6 443.2h0M390.7 444.2h0M390.8 448.1h0M390.9 446.6h0M391.1 449.1h0M391.2 448.9h0M391.3 447.9h0M391.4 442.7h0M391.5 443.0h0M391.7 440.6h0M391.8 442.5h0M391.9 433.6h0M392.0 438.2h0M392.1 435.3h0M392.3 433.8h0M392.4 432.8h0M392.5 436.2h0M392.6 441.8h0M392.7 438.9h0M392.9 439.1h0M393.0 440.1h0M393.1 441.6h0M393.2 443.2h0M393.3 442.9h0M393.5 447.5h0M393.6 449.8h0M393.7 450.2h0M393.8 451.0h0M393.9 443.6h0M394.1 456.1h0M394.2 452.2h0M394.3 449.5h0M394.4 455.2h0M394.5 437.8h0M394.7 453.8h0M394.8 442.4h0M394.9 453.1h0M395.0 438.7h0M395.2 459.3h0M395.3 452.6h0M395.4 454.7h0M395.5 454.6h0M395.6 455.3h0M395.8 453.3h0M395.9 453.4h0M396.0 452.6h0M396.1 457.8h0M396.2 451.0h0M396.4 445.9h0M396.5 444.7h0M396.6 446.9h0M396.7 448.3h0M396.8 451.0h0M397.0 455.1h0M397.1 481.5h0M397.2 461.0h0M397.3 457.6h0M397.4 467.9h0M397.6 468.4h0M397.7 470.0h0M397.8 472.8h0M397.9 477.8h0M398.0 471.9h0M398.2 471.9h0M398.3 463.5h0M398.4 461.5h0M398.5 457.4h0M398.6 474.0h0M398.8 454.6h0M398.9 456.0h0M399.0 464.7h0M399.1 457.5h0M399.3 457.3h0M399.4 463.3h0M399.5 455.6h0M399.6 460.2h0M399.7 458.8h0M399.9 460.4h0M400.0 465.2h0M400.1 466.4h0M400.2 466.0h0M400.3 463.8h0M400.5 463.9h0M400.6 464.1h0M400.7 464.1h0M400.8 464.3h0M400.9 465.5h0M401.1 464.8h0M401.2 465.4h0M401.3 463.5h0M401.4 460.9h0M401.5 464.6h0M401.7 464.0h0M401.8 460.9h0M401.9 461.0h0M402.0 461.3h0M402.1 460.2h0M402.3 459.3h0M402.4 463.2h0M402.5 458.8h0M402.6 464.1h0M402.7 458.2h0M402.9 460.6h0M403.0 458.9h0M403.1 465.4h0M403.2 462.3h0M403.4 461.0h0M403.5 463.5h0M403.6 458.9h0M403.7 466.1h0M403.8 467.0h0M404.0 468.8h0M404.1 468.0h0M404.2 467.2h0M404.3 466.6h0M404.4 467.0h0M404.6 460.7h0M404.7 464.0h0M404.8 463.3h0M404.9 462.6h0M405.0 462.0h0M405.2 460.8h0M405.3 461.6h0M405.4 462.6h0M405.5 467.1h0M405.6 463.7h0M405.8 462.5h0M405.9 463.8h0M406.0 463.9h0M406.1 464.0h0M406.2 463.1h0M406.4 462.7h0M406.5 467.0h0M406.6 465.6h0M406.7 467.9h0M406.8 467.6h0M407.0 469.9h0M407.1 464.1h0M407.2 470.1h0M407.3 470.3h0M407.5 471.5h0M407.6 469.0h0M407.7 472.4h0M407.8 471.6h0M407.9 469.0h0M408.1 470.6h0M408.2 469.2h0M408.3 468.2h0M408.4 467.0h0M408.5 467.7h0M408.7 465.3h0M408.8 462.6h0M408.9 462.3h0M409.0 462.6h0M409.1 462.7h0M409.3 457.9h0M409.4 458.1h0M409.5 459.1h0M409.6 459.4h0M409.7 459.3h0M409.9 463.8h0M410.0 461.5h0M410.1 462.2h0M410.2 474.5h0M410.3 457.7h0M410.5 462.0h0M410.6 466.4h0M410.7 473.6h0M410.8 467.3h0M410.9 468.2h0M411.1 468.3h0M411.2 467.9h0M411.3 470.9h0M411.4 467.2h0M411.6 461.8h0M411.7 466.8h0M411.8 471.3h0M411.9 470.9h0M412.0 471.4h0M412.2 470.0h0M412.3 461.6h0M412.4 467.5h0M412.5 466.0h0M412.6 470.9h0M412.8 463.9h0M412.9 463.1h0M413.0 460.5h0M413.1 460.1h0M413.2 459.6h0M413.4 460.1h0M413.5 458.8h0M413.6 458.3h0M413.7 460.1h0M413.8 460.6h0M414.0 460.8h0M414.1 463.3h0M414.2 462.1h0M414.3 463.1h0M414.4 464.4h0M414.6 465.5h0M414.7 465.3h0M414.8 465.3h0M414.9 465.9h0M415.1 465.0h0M415.2 459.5h0M415.3 462.2h0M415.4 462.2h0M415.5 462.8h0M415.7 460.5h0M415.8 462.4h0M415.9 458.5h0M416.0 458.0h0M416.1 456.8h0M416.3 452.3h0M416.4 456.3h0M416.5 454.7h0M416.6 453.1h0M416.7 451.8h0M416.9 451.5h0M417.0 457.5h0M417.1 452.6h0M417.2 449.6h0M417.3 447.7h0M417.5 445.3h0M417.6 446.9h0M417.7 445.1h0M417.8 443.7h0M417.9 451.7h0M418.1 442.2h0M418.2 443.7h0M418.3 441.3h0M418.4 442.1h0M418.5 444.2h0M418.7 443.0h0M418.8 441.9h0M418.9 444.3h0M419.0 448.8h0M419.2 443.8h0M419.3 443.9h0M419.4 445.4h0M419.5 439.9h0M419.6 445.5h0M419.8 447.3h0M419.9 442.2h0M420.0 449.0h0M420.1 448.9h0M420.2 446.3h0M420.4 450.1h0M420.5 450.5h0M420.6 452.1h0M420.7 451.4h0M420.8 446.9h0M421.0 449.3h0M421.1 449.3h0M421.2 450.2h0M421.3 448.7h0M421.4 448.5h0M421.6 443.8h0M421.7 447.7h0M421.8 447.4h0M421.9 446.1h0M422.0 446.8h0M422.2 444.9h0M422.3 448.3h0M422.4 447.8h0M422.5 451.9h0M422.6 447.9h0M422.8 450.6h0M422.9 446.1h0M423.0 446.6h0M423.1 446.2h0M423.3 448.3h0M423.4 447.9h0M423.5 448.3h0M423.6 448.7h0M423.7 448.6h0M423.9 449.6h0M424.0 451.1h0M424.1 450.8h0M424.2 451.4h0M424.3 451.5h0M424.5 449.0h0M424.6 450.6h0M424.7 451.8h0M424.8 453.2h0M424.9 453.5h0M425.1 449.7h0M425.2 454.5h0M425.3 454.1h0M425.4 454.7h0M425.5 454.0h0M425.7 455.2h0M425.8 457.0h0M425.9 457.3h0M426.0 455.1h0M426.1 456.5h0M426.3 454.9h0M426.4 450.3h0M426.5 456.2h0M426.6 456.0h0M426.7 455.1h0M426.9 455.1h0M427.0 454.2h0M427.1 458.0h0M427.2 455.8h0M427.4 452.3h0M427.5 452.3h0M427.6 456.3h0M427.7 458.3h0M427.8 453.5h0M428.0 452.5h0M428.1 455.2h0M428.2 451.8h0M428.3 450.1h0M428.4 451.5h0M428.6 450.6h0M428.7 453.1h0M428.8 450.1h0M428.9 449.6h0M429.0 452.4h0M429.2 451.4h0M429.3 458.9h0M429.4 451.8h0M429.5 453.1h0M429.6 452.8h0M429.8 454.3h0M429.9 454.1h0M430.0 454.4h0M430.1 456.7h0M430.2 456.4h0M430.4 458.1h0M430.5 457.0h0M430.6 457.1h0M430.7 457.4h0M430.8 457.8h0M431.0 456.4h0M431.1 454.7h0M431.2 451.5h0M431.3 455.6h0M431.5 452.8h0M431.6 453.8h0M431.7 452.9h0M431.8 448.1h0M431.9 451.1h0M432.1 449.3h0M432.2 451.7h0M432.3 451.6h0M432.4 447.9h0M432.5 447.9h0M432.7 445.0h0M432.8 445.9h0M432.9 444.2h0M433.0 447.1h0M433.1 449.0h0M433.3 451.3h0M433.4 444.3h0M433.5 446.9h0M433.6 447.8h0M433.7 447.5h0M433.9 445.0h0M434.0 448.5h0M434.1 449.6h0M434.2 450.6h0M434.3 447.8h0M434.5 448.1h0M434.6 450.2h0M434.7 451.9h0M434.8 456.4h0M434.9 452.4h0M435.1 451.7h0M435.2 452.9h0M435.3 454.1h0M435.4 452.9h0M435.6 457.6h0M435.7 454.9h0M435.8 455.7h0M435.9 454.9h0M436.0 453.1h0M436.2 452.3h0M436.3 450.9h0M436.4 452.5h0M436.5 448.8h0M436.6 448.6h0M436.8 450.1h0M436.9 452.3h0M437.0 449.7h0M437.1 446.9h0M437.2 449.4h0M437.4 446.7h0M437.5 445.8h0M437.6 445.6h0M437.7 446.2h0M437.8 445.1h0M438.0 444.9h0M438.1 443.7h0M438.2 445.3h0M438.3 446.4h0M438.4 447.3h0M438.6 449.4h0M438.7 450.0h0M438.8 451.3h0M438.9 455.4h0M439.0 453.3h0M439.2 453.2h0M439.3 454.9h0M439.4 455.3h0M439.5 456.3h0M439.7 456.3h0M439.8 456.0h0M439.9 456.6h0M440.0 459.7h0M440.1 459.6h0M440.3 457.6h0M440.4 446.7h0M440.5 455.9h0M440.6 454.1h0M440.7 455.4h0M440.9 453.4h0M441.0 452.4h0M441.1 452.1h0M441.2 451.6h0M441.3 450.5h0M441.5 451.1h0M441.6 456.6h0M441.7 448.7h0M441.8 449.0h0M441.9 447.3h0M442.1 443.9h0M442.2 440.6h0M442.3 444.2h0M442.4 442.7h0M442.5 440.3h0M442.7 441.5h0M442.8 438.2h0M442.9 441.4h0M443.0 442.6h0M443.1 444.8h0M443.3 449.3h0M443.4 450.5h0M443.5 450.6h0M443.6 455.4h0M443.8 452.4h0M443.9 450.7h0M444.0 448.0h0M444.1 446.1h0M444.2 445.1h0M444.4 440.3h0M444.5 441.7h0M444.6 434.9h0M444.7 444.7h0M444.8 433.9h0M445.0 434.1h0M445.1 433.5h0M445.2 437.9h0M445.3 437.3h0M445.4 446.8h0M445.6 439.5h0M445.7 441.9h0M445.8 441.8h0M445.9 445.0h0M446.0 444.3h0M446.2 444.1h0M446.3 444.3h0M446.4 439.0h0M446.5 447.9h0M446.6 447.9h0M446.8 449.4h0M446.9 449.0h0M447.0 436.4h0M447.1 452.2h0M447.2 446.8h0M447.4 450.2h0M447.5 455.0h0M447.6 452.5h0M447.7 451.1h0M447.9 438.5h0M448.0 449.8h0M448.1 437.3h0M448.2 449.0h0M448.3 447.9h0M448.5 449.0h0M448.6 446.6h0M448.7 446.6h0M448.8 445.1h0M448.9 454.7h0M449.1 442.4h0M449.2 454.2h0M449.3 443.9h0M449.4 448.5h0M449.5 443.3h0M449.7 442.3h0M449.8 441.7h0M449.9 442.6h0M450.0 443.6h0M450.1 441.6h0M450.3 441.3h0M450.4 449.2h0M450.5 445.6h0M450.6 445.1h0M450.7 447.4h0M450.9 447.6h0M451.0 447.2h0M451.1 449.5h0M451.2 453.3h0M451.3 450.0h0M451.5 453.8h0M451.6 453.9h0M451.7 455.1h0M451.8 452.4h0M452.0 455.7h0M452.1 460.2h0M452.2 459.1h0M452.3 459.9h0M452.4 460.1h0M452.6 460.8h0M452.7 452.5h0M452.8 462.5h0M452.9 463.8h0M453.0 461.8h0M453.2 462.4h0M453.3 461.6h0M453.4 460.9h0M453.5 461.7h0M453.6 461.8h0M453.8 459.2h0M453.9 459.1h0M454.0 458.3h0M454.1 457.4h0M454.2 455.7h0M454.4 455.2h0M454.5 455.8h0M454.6 455.8h0M454.7 456.6h0M454.8 457.3h0M455.0 460.4h0M455.1 459.4h0M455.2 460.3h0M455.3 465.2h0M455.4 468.1h0M455.6 464.7h0M455.7 467.3h0M455.8 472.5h0M455.9 468.9h0M456.1 469.8h0M456.2 471.6h0M456.3 466.4h0M456.4 474.6h0M456.5 470.9h0M456.7 468.6h0M456.8 468.6h0M456.9 465.5h0M457.0 461.6h0M457.1 460.7h0M457.3 456.2h0M457.4 455.7h0M457.5 465.4h0M457.6 456.6h0M457.7 457.1h0M457.9 459.2h0M458.0 468.7h0M458.1 458.8h0M458.2 460.4h0M458.3 459.1h0M458.5 461.6h0M458.6 461.4h0M458.7 461.1h0M458.8 471.3h0M458.9 462.2h0M459.1 466.4h0M459.2 465.1h0M459.3 465.1h0M459.4 466.0h0M459.5 467.0h0M459.7 467.6h0M459.8 470.1h0M459.9 467.7h0M460.0 473.1h0M460.2 473.1h0M460.3 466.9h0M460.4 468.7h0M460.5 472.1h0M460.6 465.8h0M460.8 462.8h0M460.9 461.8h0M461.0 460.4h0M461.1 455.8h0M461.2 466.6h0M461.4 452.6h0M461.5 452.8h0M461.6 461.2h0M461.7 454.8h0M461.8 453.5h0M462.0 457.3h0M462.1 457.9h0M462.2 459.5h0M462.3 461.9h0M462.4 462.1h0M462.6 463.8h0M462.7 467.2h0M462.8 462.5h0M462.9 462.9h0M463.0 463.2h0M463.2 459.9h0M463.3 459.1h0M463.4 456.5h0M463.5 460.7h0M463.6 455.1h0M463.8 455.1h0M463.9 451.8h0M464.0 457.0h0M464.1 459.8h0M464.3 449.3h0M464.4 444.9h0M464.5 445.2h0M464.6 442.4h0M464.7 443.3h0M464.9 443.9h0M465.0 443.6h0M465.1 443.0h0M465.2 444.7h0M465.3 446.0h0M465.5 456.6h0M465.6 450.5h0M465.7 448.9h0M465.8 455.7h0M465.9 451.5h0M466.1 451.3h0M466.2 452.5h0M466.3 454.7h0M466.4 439.8h0M466.5 455.1h0M466.7 453.3h0M466.8 451.8h0M466.9 448.5h0M467.0 450.0h0M467.1 445.4h0M467.3 444.8h0M467.4 444.6h0M467.5 442.6h0M467.6 439.4h0M467.8 437.8h0M467.9 442.7h0M468.0 441.5h0M468.1 441.3h0M468.2 444.5h0M468.4 454.0h0M468.5 454.1h0M468.6 445.6h0M468.7 448.4h0M468.8 449.9h0M469.0 448.9h0M469.1 452.5h0M469.2 450.6h0M469.3 452.4h0M469.4 451.2h0M469.6 451.7h0M469.7 453.3h0M469.8 448.4h0M469.9 448.8h0M470.0 447.3h0M470.2 445.2h0M470.3 439.8h0M470.4 440.9h0M470.5 440.1h0M470.6 441.4h0M470.8 444.5h0M470.9 442.2h0M471.0 442.8h0M471.1 446.0h0M471.2 445.6h0M471.4 442.3h0M471.5 446.4h0M471.6 445.3h0M471.7 447.0h0M471.9 448.8h0M472.0 447.8h0M472.1 448.9h0M472.2 442.2h0M472.3 450.5h0M472.5 447.1h0M472.6 451.0h0M472.7 452.8h0M472.8 453.8h0M472.9 451.6h0M473.1 450.0h0M473.2 448.5h0M473.3 447.2h0M473.4 445.8h0M473.5 445.2h0M473.7 443.7h0M473.8 442.6h0M473.9 442.4h0M474.0 444.0h0M474.1 442.9h0M474.3 445.1h0M474.4 448.0h0M474.5 447.9h0M474.6 448.9h0M474.7 450.2h0M474.9 453.1h0M475.0 453.1h0M475.1 444.4h0M475.2 455.6h0M475.3 455.6h0M475.5 454.6h0M475.6 452.9h0M475.7 453.9h0M475.8 451.6h0M476.0 451.9h0M476.1 451.7h0M476.2 452.4h0M476.3 451.7h0M476.4 448.3h0M476.6 450.1h0M476.7 448.7h0M476.8 450.6h0M476.9 448.8h0M477.0 449.2h0M477.2 448.4h0M477.3 448.2h0M477.4 451.4h0M477.5 453.2h0M477.6 446.0h0M477.8 451.0h0M477.9 450.7h0M478.0 452.1h0M478.1 454.6h0M478.2 454.0h0M478.4 455.3h0M478.5 453.4h0M478.6 454.3h0M478.7 455.5h0M478.8 456.1h0M479.0 454.5h0M479.1 450.1h0M479.2 459.0h0M479.3 451.2h0M479.4 458.8h0M479.6 454.2h0M479.7 460.2h0M479.8 458.5h0M479.9 446.8h0M480.1 456.7h0M480.2 452.5h0M480.3 457.4h0M480.4 454.3h0M480.5 457.6h0M480.7 455.4h0M480.8 454.5h0M480.9 453.5h0M481.0 453.7h0M481.1 456.5h0M481.3 452.3h0M481.4 449.8h0M481.5 450.7h0M481.6 458.7h0M481.7 449.0h0M481.9 449.4h0M482.0 448.4h0M482.1 447.1h0M482.2 447.5h0M482.3 447.9h0M482.5 449.0h0M482.6 449.1h0M482.7 450.5h0M482.8 450.4h0M482.9 456.8h0M483.1 451.1h0M483.2 452.3h0M483.3 451.3h0M483.4 455.5h0M483.5 453.3h0M483.7 454.5h0M483.8 454.6h0M483.9 455.1h0M484.0 456.3h0M484.2 455.9h0M484.3 456.3h0M484.4 455.8h0M484.5 448.2h0M484.6 454.4h0M484.8 453.8h0M484.9 448.5h0M485.0 454.9h0M485.1 445.2h0M485.2 450.4h0M485.4 451.1h0M485.5 450.3h0M485.6 448.3h0M485.7 447.2h0M485.8 447.1h0M486.0 449.0h0M486.1 446.3h0M486.2 446.2h0M486.3 444.7h0M486.4 444.0h0M486.6 443.7h0M486.7 442.3h0M486.8 444.7h0M486.9 442.7h0M487.0 442.7h0M487.2 442.9h0M487.3 444.9h0M487.4 445.4h0M487.5 448.3h0M487.6 445.6h0M487.8 447.8h0M487.9 450.0h0M488.0 445.2h0M488.1 449.8h0M488.3 443.7h0M488.4 445.0h0M488.5 450.2h0M488.6 449.5h0M488.7 449.2h0M488.9 447.6h0M489.0 445.5h0M489.1 446.1h0M489.2 445.1h0M489.3 442.8h0M489.5 441.1h0M489.6 442.4h0M489.7 443.8h0M489.8 438.9h0M489.9 438.1h0M490.1 437.7h0M490.2 437.4h0M490.3 437.6h0M490.4 436.6h0M490.5 436.5h0M490.7 436.1h0M490.8 440.1h0M490.9 439.8h0M491.0 441.5h0M491.1 442.8h0M491.3 444.5h0M491.4 444.7h0M491.5 443.8h0M491.6 445.7h0M491.7 445.2h0M491.9 447.0h0M492.0 441.5h0M492.1 446.5h0M492.2 446.6h0M492.4 446.8h0M492.5 446.4h0M492.6 445.9h0M492.7 445.0h0M492.8 445.9h0M493.0 446.4h0M493.1 448.7h0M493.2 447.3h0M493.3 445.8h0M493.4 446.0h0M493.6 449.1h0M493.7 447.9h0M493.8 445.9h0M493.9 446.1h0M494.0 446.3h0M494.2 447.0h0M494.3 446.6h0M494.4 446.7h0M494.5 447.2h0M494.6 448.1h0M494.8 447.8h0M494.9 448.3h0M495.0 448.5h0M495.1 449.0h0M495.2 449.1h0M495.4 449.4h0M495.5 450.1h0M495.6 450.9h0M495.7 450.5h0M495.8 450.8h0M496.0 448.7h0M496.1 448.8h0M496.2 451.2h0M496.3 451.0h0M496.5 451.4h0M496.6 449.9h0M496.7 451.1h0M496.8 448.9h0M496.9 448.9h0M497.1 451.8h0M497.2 450.5h0M497.3 453.5h0M497.4 450.3h0M497.5 449.6h0M497.7 450.8h0M497.8 450.0h0M497.9 453.6h0M498.0 449.9h0M498.1 447.3h0M498.3 447.2h0M498.4 451.8h0M498.5 447.4h0M498.6 446.3h0M498.7 446.2h0M498.9 453.8h0M499.0 445.3h0M499.1 446.8h0M499.2 446.9h0M499.3 449.7h0M499.5 448.4h0M499.6 449.9h0M499.7 453.7h0M499.8 451.0h0M499.9 453.0h0M500.1 453.1h0M500.2 451.7h0M500.3 452.5h0M500.4 451.2h0M500.6 446.8h0M500.7 446.0h0M500.8 449.7h0M500.9 446.6h0M501.0 446.5h0M501.2 446.6h0M501.3 444.8h0M501.4 443.4h0M501.5 443.7h0M501.6 442.2h0M501.8 442.5h0M501.9 437.9h0M502.0 450.5h0M502.1 437.2h0M502.2 436.8h0M502.4 442.3h0M502.5 437.7h0M502.6 444.6h0M502.7 441.3h0M502.8 439.0h0M503.0 438.9h0M503.1 438.4h0M503.2 440.6h0M503.3 447.3h0M503.4 442.0h0M503.6 448.6h0M503.7 441.9h0M503.8 440.6h0M503.9 445.9h0M504.0 442.4h0M504.2 441.5h0M504.3 446.5h0M504.4 441.5h0M504.5 446.7h0M504.7 447.2h0M504.8 444.6h0M504.9 447.3h0M505.0 444.3h0M505.1 440.7h0M505.3 439.8h0M505.4 443.1h0M505.5 439.2h0M505.6 439.7h0M505.7 437.0h0M505.9 435.4h0M506.0 442.7h0M506.1 435.4h0M506.2 430.2h0M506.3 433.8h0M506.5 439.8h0M506.6 428.2h0M506.7 429.6h0M506.8 426.6h0M506.9 425.5h0M507.1 423.6h0M507.2 424.5h0M507.3 425.1h0M507.4 424.1h0M507.5 427.6h0M507.7 433.5h0M507.8 426.2h0M507.9 428.7h0M508.0 426.6h0M508.1 425.3h0M508.3 426.3h0M508.4 427.2h0M508.5 434.7h0M508.6 428.5h0M508.8 426.9h0M508.9 429.7h0M509.0 430.6h0M509.1 433.2h0M509.2 431.3h0M509.4 430.8h0M509.5 430.6h0M509.6 427.4h0M509.7 430.8h0M509.8 432.3h0M510.0 428.7h0M510.1 426.4h0M510.2 427.4h0M510.3 421.5h0M510.4 425.7h0M510.6 423.4h0M510.7 424.3h0M510.8 420.9h0M510.9 420.7h0M511.0 417.9h0M511.2 417.4h0M511.3 417.6h0M511.4 415.4h0M511.5 414.6h0M511.6 413.8h0M511.8 413.4h0M511.9 413.0h0M512.0 419.2h0M512.1 411.1h0M512.2 408.8h0M512.4 406.7h0M512.5 404.0h0M512.6 404.9h0M512.7 402.8h0M512.9 401.9h0M513.0 404.4h0M513.1 405.7h0M513.2 405.6h0M513.3 408.7h0M513.5 408.2h0M513.6 408.2h0M513.7 417.0h0M513.8 408.6h0M513.9 410.6h0M514.1 412.5h0M514.2 414.3h0M514.3 411.7h0M514.4 413.5h0M514.5 415.2h0M514.7 409.4h0M514.8 409.1h0M514.9 409.3h0M515.0 408.9h0M515.1 404.7h0M515.3 393.7h0M515.4 410.1h0M515.5 403.8h0M515.6 402.2h0M515.7 395.9h0M515.9 399.1h0M516.0 394.9h0M516.1 398.7h0M516.2 396.4h0M516.4 395.6h0M516.5 390.8h0M516.6 395.4h0M516.7 393.8h0M516.8 395.0h0M517.0 391.2h0M517.1 412.8h0M517.2 391.0h0M517.3 396.2h0M517.4 398.5h0M517.6 399.1h0M517.7 399.0h0M517.8 399.6h0M517.9 410.9h0M518.0 403.8h0M518.2 396.4h0M518.3 406.5h0M518.4 407.5h0M518.5 408.7h0M518.6 405.8h0M518.8 412.6h0M518.9 411.9h0M519.0 414.7h0M519.1 412.2h0M519.2 412.2h0M519.4 411.1h0M519.5 410.6h0M519.6 411.6h0M519.7 408.9h0M519.8 411.4h0M520.0 399.8h0M520.1 412.2h0M520.2 406.8h0M520.3 408.8h0M520.5 408.8h0M520.6 408.5h0M520.7 407.7h0M520.8 401.9h0M520.9 403.9h0M521.1 406.5h0M521.2 412.0h0M521.3 404.2h0M521.4 402.5h0M521.5 403.4h0M521.7 404.2h0M521.8 403.9h0M521.9 405.0h0M522.0 417.7h0M522.1 408.7h0M522.3 404.5h0M522.4 413.0h0M522.5 408.6h0M522.6 409.7h0M522.7 408.2h0M522.9 413.3h0M523.0 414.1h0M523.1 419.5h0M523.2 416.2h0M523.3 414.6h0M523.5 416.4h0M523.6 414.2h0M523.7 409.7h0M523.8 418.3h0M523.9 414.3h0M524.1 421.1h0M524.2 418.6h0M524.3 419.4h0M524.4 417.0h0M524.6 418.7h0M524.7 414.9h0M524.8 413.7h0M524.9 415.3h0M525.0 416.3h0M525.2 413.5h0M525.3 411.4h0M525.4 413.3h0M525.5 413.4h0M525.6 414.0h0M525.8 412.7h0M525.9 414.6h0M526.0 415.9h0M526.1 415.9h0M526.2 417.7h0M526.4 417.1h0M526.5 419.7h0M526.6 421.0h0M526.7 423.6h0M526.8 424.3h0M527.0 425.6h0M527.1 425.0h0M527.2 417.6h0M527.3 421.7h0M527.4 419.6h0M527.6 418.9h0M527.7 419.3h0M527.8 415.7h0M527.9 410.9h0M528.0 412.9h0M528.2 410.8h0M528.3 410.7h0M528.4 408.9h0M528.5 409.7h0M528.7 411.5h0M528.8 422.0h0M528.9 414.0h0M529.0 413.7h0M529.1 418.4h0M529.3 419.1h0M529.4 420.6h0M529.5 421.8h0M529.6 420.5h0M529.7 420.5h0M529.9 420.3h0M530.0 417.9h0M530.1 415.1h0M530.2 415.1h0M530.3 411.8h0M530.5 411.0h0M530.6 399.2h0M530.7 404.8h0M530.8 404.4h0M530.9 402.2h0M531.1 418.3h0M531.2 397.6h0M531.3 401.2h0M531.4 401.9h0M531.5 403.1h0M531.7 404.8h0M531.8 409.0h0M531.9 413.1h0M532.0 417.4h0M532.1 417.1h0M532.3 418.3h0M532.4 414.3h0M532.5 411.6h0M532.6 412.5h0M532.8 407.1h0M532.9 408.4h0M533.0 392.8h0M533.1 395.7h0M533.2 402.0h0M533.4 404.9h0M533.5 404.5h0M533.6 398.1h0M533.7 406.7h0M533.8 399.0h0M534.0 400.5h0M534.1 395.1h0M534.2 393.2h0M534.3 402.3h0M534.4 395.6h0M534.6 391.8h0M534.7 391.1h0M534.8 392.3h0M534.9 392.1h0M535.0 392.8h0M535.2 390.9h0M535.3 399.8h0M535.4 396.3h0M535.5 395.4h0M535.6 394.9h0M535.8 395.9h0M535.9 396.1h0M536.0 397.6h0M536.1 397.8h0M536.2 400.2h0M536.4 399.5h0M536.5 397.7h0M536.6 398.1h0M536.7 387.1h0M536.9 395.2h0M537.0 394.4h0M537.1 390.7h0M537.2 391.3h0M537.3 386.9h0M537.5 387.8h0M537.6 386.0h0M537.7 378.0h0M537.8 391.1h0M537.9 374.8h0M538.1 386.9h0M538.2 369.9h0M538.3 371.8h0M538.4 393.9h0M538.5 372.8h0M538.7 376.6h0M538.8 370.9h0M538.9 373.5h0M539.0 375.7h0M539.1 374.1h0M539.3 373.2h0M539.4 387.9h0M539.5 388.3h0M539.6 368.7h0M539.7 384.9h0M539.9 382.5h0M540.0 374.6h0M540.1 387.4h0M540.2 387.4h0M540.3 389.6h0M540.5 376.5h0M540.6 373.1h0M540.7 382.4h0M540.8 379.0h0M541.0 358.2h0M541.1 366.8h0M541.2 364.9h0M541.3 365.0h0M541.4 362.1h0M541.6 360.0h0M541.7 358.3h0M541.8 359.1h0M541.9 347.1h0M542.0 344.2h0M542.2 362.1h0M542.3 344.6h0M542.4 348.6h0M542.5 350.4h0M542.6 358.8h0M542.8 354.9h0M542.9 362.2h0M543.0 368.0h0M543.1 370.9h0M543.2 373.2h0M543.4 374.1h0M543.5 374.6h0M543.6 382.0h0M543.7 384.1h0M543.8 388.4h0M544.0 376.5h0M544.1 383.4h0M544.2 383.0h0M544.3 370.7h0M544.4 341.9h0M544.6 370.0h0M544.7 374.1h0M544.8 370.7h0M544.9 362.4h0M545.1 364.8h0M545.2 362.3h0M545.3 355.5h0M545.4 373.0h0M545.5 350.3h0M545.7 352.4h0M545.8 374.2h0M545.9 349.1h0M546.0 346.8h0M546.1 345.5h0M546.3 344.4h0M546.4 348.4h0M546.5 350.3h0M546.6 360.0h0M546.7 365.5h0M546.9 367.7h0M547.0 372.1h0M547.1 379.1h0M547.2 386.1h0M547.3 389.4h0M547.5 385.3h0M547.6 388.4h0M547.7 384.4h0M547.8 358.7h0M547.9 380.7h0M548.1 367.7h0M548.2 379.2h0M548.3 374.8h0M548.4 373.2h0M548.5 365.4h0M548.7 376.6h0M548.8 366.8h0M548.9 365.7h0M549.0 368.0h0M549.2 362.8h0M549.3 359.7h0M549.4 362.7h0M549.5 357.1h0M549.6 360.7h0M549.8 352.7h0M549.9 359.7h0M550.0 353.3h0M550.1 358.3h0M550.2 363.4h0M550.4 357.3h0M550.5 355.9h0M550.6 363.0h0M550.7 364.4h0M550.8 366.3h0M551.0 366.4h0M551.1 367.6h0M551.2 366.2h0M551.3 366.7h0M551.4 368.2h0M551.6 371.3h0M551.7 371.0h0M551.8 372.6h0M551.9 372.4h0M552.0 372.7h0M552.2 373.4h0M552.3 373.3h0M552.4 375.7h0M552.5 369.5h0M552.6 375.7h0M552.8 364.0h0M552.9 377.0h0M553.0 377.3h0M553.1 374.4h0M553.3 374.9h0M553.4 375.9h0M553.5 375.4h0M553.6 375.9h0M553.7 373.5h0M553.9 374.6h0M554.0 369.8h0M554.1 369.2h0M554.2 368.9h0M554.3 371.2h0M554.5 370.2h0M554.6 368.1h0M554.7 363.0h0M554.8 372.8h0M554.9 365.4h0M555.1 372.0h0M555.2 369.5h0M555.3 365.6h0M555.4 366.2h0M555.5 364.6h0M555.7 364.3h0M555.8 363.5h0M555.9 363.7h0M556.0 364.8h0M556.1 364.1h0M556.3 366.3h0M556.4 364.9h0M556.5 367.2h0M556.6 366.6h0M556.7 367.2h0M556.9 370.0h0M557.0 370.7h0M557.1 370.0h0M557.2 368.2h0M557.4 372.4h0M557.5 371.4h0M557.6 371.3h0M557.7 373.9h0M557.8 372.2h0M558.0 367.2h0M558.1 373.6h0M558.2 375.3h0M558.3 370.8h0M558.4 375.4h0M558.6 375.4h0M558.7 376.2h0M558.8 374.4h0M558.9 377.8h0M559.0 375.7h0M559.2 372.9h0M559.3 373.8h0M559.4 373.4h0M559.5 373.6h0M559.6 372.7h0M559.8 371.8h0M559.9 369.6h0M560.0 369.7h0M560.1 366.0h0M560.2 367.6h0M560.4 365.4h0M560.5 367.7h0M560.6 362.0h0M560.7 361.3h0M560.8 359.4h0M561.0 361.3h0M561.1 361.3h0M561.2 366.8h0M561.3 361.4h0M561.5 369.2h0M561.6 362.0h0M561.7 362.0h0M561.8 365.2h0M561.9 361.4h0M562.1 361.5h0M562.2 361.9h0M562.3 362.1h0M562.4 361.0h0M562.5 358.6h0M562.7 357.8h0M562.8 355.6h0M562.9 352.3h0M563.0 348.2h0M563.1 344.1h0M563.3 334.5h0M563.4 337.3h0M563.5 338.1h0M563.6 338.9h0M563.7 325.8h0M563.9 348.6h0M564.0 347.1h0M564.1 347.0h0M564.2 330.3h0M564.3 322.6h0M564.5 321.8h0M564.6 321.8h0M564.7 347.6h0M564.8 318.7h0M565.0 316.2h0M565.1 339.2h0M565.2 323.8h0M565.3 341.7h0M565.4 326.2h0M565.6 327.7h0M565.7 327.3h0M565.8 338.7h0M565.9 334.6h0M566.0 335.3h0M566.2 340.6h0M566.3 341.2h0M566.4 351.8h0M566.5 348.5h0M566.6 340.7h0M566.8 335.6h0M566.9 326.1h0M567.0 322.7h0M567.1 315.3h0M567.2 311.7h0M567.4 305.2h0M567.5 306.9h0M567.6 304.1h0M567.7 317.7h0M567.8 315.4h0M568.0 344.4h0M568.1 311.8h0M568.2 319.9h0M568.3 343.3h0M568.4 316.2h0M568.6 326.7h0M568.7 320.8h0M568.8 333.4h0M568.9 336.4h0M569.1 332.9h0M569.2 339.3h0M569.3 335.2h0M569.4 309.5h0M569.5 346.8h0M569.7 345.3h0M569.8 342.0h0M569.9 317.7h0M570.0 342.7h0M570.1 343.0h0M570.3 313.1h0M570.4 331.8h0M570.5 314.0h0M570.6 330.9h0M570.7 327.0h0M570.9 321.8h0M571.0 321.5h0M571.1 321.8h0M571.2 317.7h0M571.3 330.4h0M571.5 334.9h0M571.6 318.7h0M571.7 340.4h0M571.8 314.1h0M571.9 335.1h0M572.1 313.6h0M572.2 312.2h0M572.3 311.8h0M572.4 313.5h0M572.5 331.4h0M572.7 315.6h0M572.8 314.8h0M572.9 321.7h0M573.0 321.2h0M573.2 315.4h0M573.3 318.0h0M573.4 318.1h0M573.5 329.7h0M573.6 324.2h0M573.8 312.5h0M573.9 324.4h0M574.0 311.6h0M574.1 326.5h0M574.2 327.4h0M574.4 310.0h0M574.5 327.1h0M574.6 326.2h0M574.7 328.4h0M574.8 324.9h0M575.0 322.7h0M575.1 321.7h0M575.2 319.9h0M575.3 316.9h0M575.4 316.2h0M575.6 317.6h0M575.7 313.8h0M575.8 315.0h0M575.9 309.4h0M576.0 307.7h0M576.2 310.8h0M576.3 316.6h0M576.4 304.8h0M576.5 305.5h0M576.6 304.6h0M576.8 319.9h0M576.9 314.7h0M577.0 301.8h0M577.1 303.3h0M577.3 306.1h0M577.4 305.1h0M577.5 305.1h0M577.6 306.0h0M577.7 311.6h0M577.9 306.1h0M578.0 309.5h0M578.1 315.5h0M578.2 314.7h0M578.3 318.9h0M578.5 316.1h0M578.6 300.4h0M578.7 315.4h0M578.8 317.0h0M578.9 314.7h0M579.1 315.1h0M579.2 313.5h0M579.3 311.2h0M579.4 313.3h0M579.5 309.2h0M579.7 309.7h0M579.8 308.3h0M579.9 306.6h0M580.0 305.6h0M580.1 310.7h0M580.3 304.3h0M580.4 305.1h0M580.5 305.0h0M580.6 303.2h0M580.7 299.4h0M580.9 301.1h0M581.0 298.2h0M581.1 300.5h0M581.2 298.4h0M581.4 304.7h0M581.5 302.7h0M581.6 307.3h0M581.7 306.1h0M581.8 310.2h0M582.0 309.7h0M582.1 308.5h0M582.2 312.0h0M582.3 315.2h0M582.4 317.7h0M582.6 315.4h0M582.7 318.2h0M582.8 318.0h0M582.9 314.9h0M583.0 315.7h0M583.2 314.8h0M583.3 312.3h0M583.4 313.7h0M583.5 309.4h0M583.6 310.7h0M583.8 306.0h0M583.9 307.2h0M584.0 305.4h0M584.1 304.9h0M584.2 300.0h0M584.4 300.3h0M584.5 296.5h0M584.6 323.2h0M584.7 296.4h0M584.8 301.5h0M585.0 310.9h0M585.1 299.7h0M585.2 333.6h0M585.3 304.0h0M585.5 304.0h0M585.6 314.6h0M585.7 313.6h0M585.8 303.9h0M585.9 320.0h0M586.1 317.5h0M586.2 310.2h0M586.3 318.9h0M586.4 323.6h0M586.5 325.3h0M586.7 332.4h0M586.8 326.5h0M586.9 341.7h0M587.0 331.2h0M587.1 327.4h0M587.3 319.5h0M587.4 321.8h0M587.5 298.1h0M587.6 314.5h0M587.7 297.0h0M587.9 282.1h0M588.0 284.6h0M588.1 276.0h0M588.2 320.1h0M588.3 289.7h0M588.5 296.4h0M588.6 320.6h0M588.7 331.1h0M588.8 300.4h0M588.9 274.5h0M589.1 298.0h0M589.2 304.7h0M589.3 307.7h0M589.4 306.8h0M589.6 313.5h0M589.7 311.5h0M589.8 314.4h0M589.9 319.0h0M590.0 312.8h0M590.2 317.3h0M590.3 314.2h0M590.4 318.0h0M590.5 324.5h0M590.6 319.2h0M590.8 322.8h0M590.9 320.3h0M591.0 320.0h0M591.1 320.9h0M591.2 315.7h0M591.4 277.9h0M591.5 312.7h0M591.6 288.1h0M591.7 304.0h0M591.8 300.8h0M592.0 301.5h0M592.1 303.7h0M592.2 301.8h0M592.3 301.3h0M592.4 293.2h0M592.6 291.8h0M592.7 308.6h0M592.8 290.1h0M592.9 292.1h0M593.0 291.3h0M593.2 290.1h0M593.3 291.3h0M593.4 287.8h0M593.5 292.1h0M593.7 289.1h0M593.8 300.2h0M593.9 292.5h0M594.0 298.4h0M594.1 295.1h0M594.3 299.8h0M594.4 301.0h0M594.5 302.5h0M594.6 305.2h0M594.7 305.3h0M594.9 303.4h0M595.0 310.9h0M595.1 311.3h0M595.2 313.6h0M595.3 310.1h0M595.5 309.1h0M595.6 300.6h0M595.7 306.0h0M595.8 306.3h0M595.9 304.5h0M596.1 295.3h0M596.2 308.8h0M596.3 299.5h0M596.4 296.5h0M596.5 293.9h0M596.7 292.1h0M596.8 290.8h0M596.9 293.9h0M597.0 296.3h0M597.1 311.2h0M597.3 300.5h0M597.4 302.6h0M597.5 305.8h0M597.6 290.3h0M597.8 311.0h0M597.9 292.0h0M598.0 309.3h0M598.1 307.4h0M598.2 308.1h0M598.4 305.6h0M598.5 302.6h0M598.6 302.0h0M598.7 301.2h0M598.8 298.4h0M599.0 299.1h0M599.1 295.0h0M599.2 290.9h0M599.3 289.6h0M599.4 288.9h0M599.6 287.0h0M599.7 304.0h0M599.8 293.7h0M599.9 292.5h0M600.0 289.8h0M600.2 291.7h0M600.3 294.7h0M600.4 295.0h0M600.5 291.0h0M600.6 297.6h0M600.8 297.5h0M600.9 302.0h0M601.0 302.2h0M601.1 296.6h0M601.2 301.8h0M601.4 303.7h0M601.5 305.5h0M601.6 305.4h0M601.7 304.7h0M601.9 308.3h0M602.0 307.8h0M602.1 303.6h0M602.2 309.2h0M602.3 308.6h0M602.5 297.4h0M602.6 307.5h0M602.7 306.1h0M602.8 304.0h0M602.9 304.4h0M603.1 304.0h0M603.2 306.5h0M603.3 304.2h0M603.4 302.1h0M603.5 303.5h0M603.7 302.5h0M603.8 301.3h0M603.9 302.7h0M604.0 301.1h0M604.1 307.7h0M604.3 301.2h0M604.4 308.4h0M604.5 300.4h0M604.6 299.9h0M604.7 299.4h0M604.9 299.2h0M605.0 299.8h0M605.1 301.1h0M605.2 304.3h0M605.3 300.4h0M605.5 300.6h0M605.6 300.4h0M605.7 301.9h0M605.8 302.1h0M606.0 302.4h0M606.1 300.7h0M606.2 302.3h0M606.3 302.6h0M606.4 301.6h0M606.6 302.7h0M606.7 301.3h0M606.8 303.8h0M606.9 302.6h0M607.0 299.5h0M607.2 303.4h0M607.3 301.8h0M607.4 300.3h0M607.5 299.8h0M607.6 303.3h0M607.8 299.4h0M607.9 299.1h0M608.0 300.5h0M608.1 298.8h0M608.2 299.0h0M608.4 298.9h0M608.5 298.4h0M608.6 299.8h0M608.7 299.9h0M608.8 300.2h0M609.0 300.2h0M609.1 300.9h0M609.2 301.0h0M609.3 297.7h0M609.4 302.4h0M609.6 305.7h0M609.7 304.5h0M609.8 303.9h0M609.9 305.2h0M610.1 307.6h0M610.2 308.0h0M610.3 310.0h0M610.4 313.1h0M610.5 311.5h0M610.7 315.3h0M610.8 316.2h0M610.9 291.0h0M611.0 296.5h0M611.1 313.9h0M611.3 316.0h0M611.4 311.7h0M611.5 311.1h0M611.6 311.8h0M611.7 313.5h0M611.9 306.6h0M612.0 309.4h0M612.1 307.2h0M612.2 306.9h0M612.3 295.9h0M612.5 304.6h0M612.6 306.5h0M612.7 304.0h0M612.8 301.3h0M612.9 300.8h0M613.1 301.9h0M613.2 300.0h0M613.3 299.9h0M613.4 295.1h0M613.6 294.4h0M613.7 300.0h0M613.8 299.6h0M613.9 298.2h0M614.0 297.5h0M614.2 304.2h0M614.3 302.6h0M614.4 304.3h0M614.5 303.5h0M614.6 312.4h0M614.8 304.8h0M614.9 313.0h0M615.0 315.6h0M615.1 316.9h0M615.2 318.3h0M615.4 307.8h0M615.5 320.8h0M615.6 316.8h0M615.7 325.8h0M615.8 304.4h0M616.0 318.3h0M616.1 312.5h0M616.2 320.9h0M616.3 324.0h0M616.4 309.4h0M616.6 310.2h0M616.7 310.6h0M616.8 304.6h0M616.9 306.6h0M617.0 312.5h0M617.2 304.8h0M617.3 300.1h0M617.4 299.2h0M617.5 296.3h0M617.7 295.8h0M617.8 293.5h0M617.9 290.9h0M618.0 289.2h0M618.1 293.7h0M618.3 290.8h0M618.4 295.3h0M618.5 296.7h0M618.6 294.0h0M618.7 296.4h0M618.9 294.1h0M619.0 297.5h0M619.1 302.9h0M619.2 299.5h0M619.3 302.5h0M619.5 302.8h0M619.6 292.3h0M619.7 306.6h0M619.8 309.7h0M619.9 306.5h0M620.1 300.3h0M620.2 314.6h0M620.3 312.7h0M620.4 309.5h0M620.5 314.2h0M620.7 311.4h0M620.8 311.9h0M620.9 314.8h0M621.0 305.6h0M621.1 311.4h0M621.3 311.8h0M621.4 300.1h0M621.5 302.4h0M621.6 311.5h0M621.8 307.6h0M621.9 307.7h0M622.0 308.4h0M622.1 308.5h0M622.2 308.1h0M622.4 309.6h0M622.5 305.7h0M622.6 305.9h0M622.7 306.8h0M622.8 307.9h0M623.0 308.4h0M623.1 311.0h0M623.2 312.9h0M623.3 311.6h0M623.4 311.5h0M623.6 314.9h0M623.7 315.0h0M623.8 317.1h0M623.9 317.3h0M624.0 321.4h0M624.2 320.8h0M624.3 319.5h0M624.4 321.2h0M624.5 321.3h0M624.6 321.0h0M624.8 322.2h0M624.9 324.5h0M625.0 326.3h0M625.1 319.7h0M625.2 321.7h0M625.4 320.2h0M625.5 321.0h0M625.6 316.9h0M625.7 318.1h0M625.9 314.9h0M626.0 314.8h0M626.1 317.5h0M626.2 317.4h0M626.3 319.2h0M626.5 329.6h0M626.6 323.4h0M626.7 326.9h0M626.8 328.2h0M626.9 330.4h0M627.1 321.5h0M627.2 328.3h0M627.3 332.4h0M627.4 321.0h0M627.5 329.9h0M627.7 332.7h0M627.8 335.5h0M627.9 333.7h0M628.0 331.1h0M628.1 332.0h0M628.3 337.0h0M628.4 332.4h0M628.5 336.4h0M628.6 336.2h0M628.7 332.4h0M628.9 333.5h0M629.0 329.6h0M629.1 329.5h0M629.2 329.4h0M629.3 333.9h0M629.5 336.2h0M629.6 339.2h0M629.7 331.9h0M629.8 337.7h0M630.0 341.5h0M630.1 341.3h0M630.2 347.4h0M630.3 347.7h0M630.4 355.1h0M630.6 353.9h0M630.7 355.5h0M630.8 354.9h0M630.9 359.3h0M631.0 360.8h0M631.2 362.5h0M631.3 362.5h0M631.4 365.7h0M631.5 368.5h0M631.6 366.5h0M631.8 365.0h0M631.9 361.8h0M632.0 360.1h0M632.1 365.4h0M632.2 357.6h0M632.4 354.8h0M632.5 350.7h0M632.6 355.9h0M632.7 352.5h0M632.8 351.7h0M633.0 356.0h0M633.1 371.9h0M633.2 353.4h0M633.3 347.8h0M633.4 352.8h0M633.6 362.7h0M633.7 349.0h0M633.8 352.5h0M633.9 351.4h0M634.1 356.2h0M634.2 356.6h0M634.3 364.0h0M634.4 362.9h0M634.5 366.1h0M634.7 375.1h0M634.8 366.7h0M634.9 370.8h0M635.0 370.5h0M635.1 358.2h0M635.3 374.5h0M635.4 372.5h0M635.5 368.6h0M635.6 363.7h0M635.7 370.0h0M635.9 377.4h0M636.0 367.6h0M636.1 366.4h0M636.2 372.5h0M636.3 364.3h0M636.5 364.4h0M636.6 363.3h0M636.7 358.5h0M636.8 360.8h0M636.9 371.6h0M637.1 364.6h0M637.2 380.6h0M637.3 364.8h0M637.4 369.8h0M637.5 369.2h0M637.7 374.8h0M637.8 378.8h0M637.9 388.5h0M638.0 391.5h0M638.2 396.6h0M638.3 399.5h0M638.4 401.4h0M638.5 412.2h0M638.6 412.3h0M638.8 401.5h0M638.9 404.4h0M639.0 406.7h0M639.1 405.8h0M639.2 403.2h0M639.4 410.1h0M639.5 404.3h0M639.6 401.4h0M639.7 399.3h0M639.8 411.7h0M640.0 397.7h0M640.1 396.2h0M640.2 394.3h0M640.3 390.6h0M640.4 391.1h0M640.6 389.3h0M640.7 401.2h0M640.8 392.2h0M640.9 391.3h0M641.0 391.6h0M641.2 414.2h0M641.3 393.4h0M641.4 394.7h0M641.5 394.9h0M641.6 397.4h0M641.8 398.4h0M641.9 403.0h0M642.0 401.7h0M642.1 401.0h0M642.3 404.2h0M642.4 402.9h0M642.5 406.7h0M642.6 407.3h0M642.7 412.3h0M642.9 406.0h0M643.0 408.9h0M643.1 395.7h0M643.2 411.7h0M643.3 413.5h0M643.5 411.5h0M643.6 414.0h0M643.7 408.8h0M643.8 407.4h0M643.9 411.3h0M644.1 392.1h0M644.2 409.1h0M644.3 404.3h0M644.4 404.7h0M644.5 404.5h0M644.7 403.8h0M644.8 408.1h0M644.9 400.9h0M645.0 401.8h0M645.1 398.1h0M645.3 396.9h0M645.4 396.1h0M645.5 405.2h0M645.6 394.4h0M645.7 393.4h0M645.9 392.0h0M646.0 394.3h0M646.1 414.0h0M646.2 388.7h0M646.4 390.4h0M646.5 387.5h0M646.6 389.6h0M646.7 389.6h0M646.8 390.8h0M647.0 392.6h0M647.1 390.6h0M647.2 393.5h0M647.3 395.6h0M647.4 396.6h0M647.6 389.3h0M647.7 402.4h0M647.8 400.1h0M647.9 399.5h0M648.0 400.5h0M648.2 401.7h0M648.3 413.4h0M648.4 403.1h0M648.5 407.6h0M648.6 406.4h0M648.8 407.9h0M648.9 408.7h0M649.0 406.4h0M649.1 411.0h0M649.2 411.9h0M649.4 410.6h0M649.5 409.8h0M649.6 408.0h0M649.7 404.9h0M649.8 404.4h0M650.0 381.4h0M650.1 403.3h0M650.2 394.9h0M650.3 379.5h0M650.5 391.6h0M650.6 393.5h0M650.7 398.0h0M650.8 387.0h0M650.9 385.4h0M651.1 382.1h0M651.2 376.6h0M651.3 378.1h0M651.4 377.3h0M651.5 374.7h0M651.7 378.8h0M651.8 371.7h0M651.9 368.8h0M652.0 369.9h0M652.1 371.8h0M652.3 371.8h0M652.4 379.4h0M652.5 375.4h0M652.6 373.3h0M652.7 368.4h0M652.9 379.5h0M653.0 377.2h0M653.1 378.4h0M653.2 379.4h0M653.3 379.6h0M653.5 378.7h0M653.6 381.2h0M653.7 381.2h0M653.8 379.7h0M653.9 377.0h0M654.1 376.7h0M654.2 376.4h0M654.3 376.5h0M654.4 370.6h0M654.6 374.5h0M654.7 373.4h0M654.8 370.9h0M654.9 371.6h0M655.0 369.4h0M655.2 369.7h0M655.3 368.9h0M655.4 369.0h0M655.5 367.1h0M655.6 373.4h0M655.8 365.2h0M655.9 372.7h0M656.0 375.4h0M656.1 367.7h0M656.2 366.2h0M656.4 364.8h0M656.5 364.0h0M656.6 369.1h0M656.7 366.2h0M656.8 371.0h0M657.0 370.6h0M657.1 376.0h0M657.2 376.2h0M657.3 379.6h0M657.4 373.8h0M657.6 379.2h0M657.7 379.7h0M657.8 374.3h0M657.9 376.0h0M658.0 374.7h0M658.2 376.7h0M658.3 375.8h0M658.4 374.9h0M658.5 376.6h0M658.7 377.4h0M658.8 373.1h0M658.9 375.0h0M659.0 373.0h0M659.1 372.2h0M659.3 370.6h0M659.4 372.8h0M659.5 371.2h0M659.6 370.6h0M659.7 369.9h0M659.9 369.9h0M660.0 368.6h0M660.1 369.1h0M660.2 368.2h0M660.3 369.9h0M660.5 370.0h0M660.6 370.2h0M660.7 369.6h0M660.8 370.8h0M660.9 372.4h0M661.1 373.3h0M661.2 371.4h0M661.3 372.9h0M661.4 373.9h0M661.5 374.6h0M661.7 374.8h0M661.8 375.9h0M661.9 374.5h0M662.0 377.8h0M662.2 368.5h0M662.3 369.2h0M662.4 378.4h0M662.5 379.5h0M662.6 379.8h0M662.8 380.3h0M662.9 381.1h0M663.0 380.4h0M663.1 381.7h0M663.2 381.8h0M663.4 378.9h0M663.5 381.0h0M663.6 379.9h0M663.7 377.5h0M663.8 377.1h0M664.0 376.4h0M664.1 376.0h0M664.2 372.4h0M664.3 372.7h0M664.4 372.0h0M664.6 371.6h0M664.7 376.0h0M664.8 369.2h0M664.9 372.9h0M665.0 371.6h0M665.2 372.3h0M665.3 371.6h0M665.4 373.3h0M665.5 380.3h0M665.6 375.9h0M665.8 375.1h0M665.9 374.6h0M666.0 376.4h0M666.1 375.8h0M666.3 376.5h0M666.4 374.4h0M666.5 375.1h0M666.6 375.2h0M666.7 374.3h0M666.9 371.6h0M667.0 370.3h0M667.1 369.3h0M667.2 366.3h0M667.3 358.8h0M667.5 359.0h0M667.6 358.7h0M667.7 358.1h0M667.8 356.6h0M667.9 354.3h0M668.1 353.1h0M668.2 360.1h0M668.3 352.2h0M668.4 360.7h0M668.5 355.1h0M668.7 351.8h0M668.8 348.7h0M668.9 357.5h0M669.0 353.6h0M669.1 353.7h0M669.3 356.0h0M669.4 355.2h0M669.5 356.7h0M669.6 346.5h0M669.7 354.9h0M669.9 350.5h0M670.0 353.0h0M670.1 354.3h0M670.2 350.5h0M670.4 350.1h0M670.5 350.0h0M670.6 349.6h0M670.7 346.3h0M670.8 347.6h0M671.0 347.2h0M671.1 349.8h0M671.2 343.7h0M671.3 344.3h0M671.4 345.6h0M671.6 345.5h0M671.7 352.5h0M671.8 349.3h0M671.9 349.3h0M672.0 351.9h0M672.2 351.9h0M672.3 354.8h0M672.4 346.6h0M672.5 354.0h0M672.6 350.9h0M672.8 351.0h0M672.9 349.9h0M673.0 349.3h0M673.1 346.1h0M673.2 349.3h0M673.4 352.1h0M673.5 344.3h0M673.6 345.6h0M673.7 346.1h0M673.8 345.8h0M674.0 347.2h0M674.1 350.3h0M674.2 353.3h0M674.3 339.9h0M674.5 347.2h0M674.6 349.3h0M674.7 350.4h0M674.8 348.4h0M674.9 351.6h0M675.1 344.1h0M675.2 345.1h0M675.3 340.1h0M675.4 342.7h0M675.5 336.0h0M675.7 333.4h0M675.8 348.1h0M675.9 334.4h0M676.0 329.7h0M676.1 330.7h0M676.3 329.6h0M676.4 331.5h0M676.5 336.0h0M676.6 347.8h0M676.7 335.9h0M676.9 333.3h0M677.0 334.2h0M677.1 338.5h0M677.2 325.1h0M677.3 335.2h0M677.5 338.8h0M677.6 336.8h0M677.7 340.5h0M677.8 343.0h0M677.9 340.2h0M678.1 327.3h0M678.2 341.1h0M678.3 343.5h0M678.4 345.3h0M678.6 348.0h0M678.7 349.1h0M678.8 322.9h0M678.9 345.3h0M679.0 342.5h0M679.2 347.2h0M679.3 339.2h0M679.4 342.4h0M679.5 338.9h0M679.6 341.0h0M679.8 345.4h0M679.9 335.6h0M680.0 336.3h0M680.1 348.7h0M680.2 332.0h0M680.4 331.8h0M680.5 335.3h0M680.6 330.0h0M680.7 323.5h0M680.8 343.5h0M681.0 329.0h0M681.1 327.0h0M681.2 325.7h0M681.3 322.0h0M681.4 322.6h0M681.6 332.5h0M681.7 321.4h0M681.8 331.9h0M681.9 333.9h0M682.0 337.6h0M682.2 337.0h0M682.3 343.5h0M682.4 331.6h0M682.5 343.6h0M682.7 347.6h0M682.8 350.1h0M682.9 323.2h0M683.0 351.0h0M683.1 343.0h0M683.3 343.0h0M683.4 342.7h0M683.5 340.9h0M683.6 341.4h0M683.7 333.9h0M683.9 337.7h0M684.0 340.1h0M684.1 340.9h0M684.2 339.4h0M684.3 338.9h0M684.5 329.1h0M684.6 330.4h0M684.7 354.7h0M684.8 339.3h0M684.9 334.6h0M685.1 335.9h0M685.2 326.3h0M685.3 331.7h0M685.4 332.1h0M685.5 336.5h0M685.7 334.1h0M685.8 336.9h0M685.9 347.2h0M686.0 342.3h0M686.1 344.3h0M686.3 348.8h0M686.4 350.1h0M686.5 348.2h0M686.6 352.1h0M686.8 333.6h0M686.9 355.5h0M687.0 356.3h0M687.1 354.8h0M687.2 349.3h0M687.4 332.1h0M687.5 346.6h0M687.6 340.8h0M687.7 359.6h0M687.8 337.2h0M688.0 348.5h0M688.1 330.8h0M688.2 334.8h0M688.3 339.6h0M688.4 339.7h0M688.6 341.1h0M688.7 350.7h0M688.8 355.0h0M688.9 353.3h0M689.0 355.1h0M689.2 344.2h0M689.3 359.4h0M689.4 346.6h0M689.5 358.3h0M689.6 344.2h0M689.8 351.7h0M689.9 349.3h0M690.0 348.8h0M690.1 344.6h0M690.2 354.1h0M690.4 347.4h0M690.5 349.5h0M690.6 341.3h0M690.7 365.2h0M690.9 341.4h0M691.0 348.9h0M691.1 346.2h0M691.2 346.6h0M691.3 348.4h0M691.5 349.5h0M691.6 352.8h0M691.7 353.3h0M691.8 353.3h0M691.9 356.7h0M692.1 346.1h0M692.2 360.3h0M692.3 361.3h0M692.4 368.4h0M692.5 351.6h0M692.7 349.5h0M692.8 364.2h0M692.9 366.2h0M693.0 364.7h0M693.1 367.2h0M693.3 365.4h0M693.4 364.8h0M693.5 364.8h0M693.6 364.6h0M693.7 363.8h0M693.9 361.0h0M694.0 367.1h0M694.1 360.3h0M694.2 357.0h0M694.3 356.7h0M694.5 356.5h0M694.6 349.8h0M694.7 352.8h0M694.8 348.0h0M695.0 350.0h0M695.1 344.7h0M695.2 341.5h0M695.3 342.1h0M695.4 339.9h0M695.6 334.1h0M695.7 333.0h0M695.8 332.1h0M695.9 333.7h0M696.0 330.9h0M696.2 338.3h0M696.3 333.0h0M696.4 337.1h0M696.5 341.8h0M696.6 341.8h0M696.8 337.3h0M696.9 343.5h0M697.0 349.4h0M697.1 345.0h0M697.2 346.5h0M697.4 348.3h0M697.5 348.4h0M697.6 343.0h0M697.7 341.0h0M697.8 335.9h0M698.0 331.3h0M698.1 345.4h0M698.2 305.3h0M698.3 324.4h0M698.4 339.8h0M698.6 322.6h0M698.7 308.5h0M698.8 326.8h0M698.9 306.0h0M699.1 306.0h0M699.2 309.2h0M699.3 315.0h0M699.4 316.2h0M699.5 320.3h0M699.7 320.6h0M699.8 326.8h0M699.9 328.2h0M700.0 335.1h0M700.1 334.8h0M700.3 339.6h0M700.4 341.0h0M700.5 342.1h0M700.6 343.2h0M700.7 338.9h0M700.9 314.0h0M701.0 329.9h0M701.1 334.2h0M701.2 329.9h0M701.3 329.7h0M701.5 323.5h0M701.6 333.9h0M701.7 341.4h0M701.8 325.7h0M701.9 326.0h0M702.1 319.3h0M702.2 315.7h0M702.3 321.2h0M702.4 313.1h0M702.5 311.5h0M702.7 310.3h0M702.8 344.7h0M702.9 311.0h0M703.0 340.3h0M703.2 321.8h0M703.3 321.6h0M703.4 324.1h0M703.5 325.8h0M703.6 332.2h0M703.8 345.2h0M703.9 335.8h0M704.0 337.2h0M704.1 316.3h0M704.2 327.7h0M704.4 337.9h0M704.5 336.5h0M704.6 309.6h0M704.7 331.1h0M704.8 330.8h0M705.0 331.4h0M705.1 331.0h0M705.2 327.1h0M705.3 324.4h0M705.4 323.7h0M705.6 327.5h0M705.7 338.0h0M705.8 317.3h0M705.9 318.4h0M706.0 316.9h0M706.2 315.1h0M706.3 310.6h0M706.4 325.8h0M706.5 310.4h0M706.6 327.3h0M706.8 311.9h0M706.9 314.1h0M707.0 336.4h0M707.1 330.8h0M707.3 334.2h0M707.4 321.3h0M707.5 325.1h0M707.6 319.9h0M707.7 331.6h0M707.9 332.6h0M708.0 332.0h0M708.1 339.7h0M708.2 325.9h0M708.3 336.2h0M708.5 326.3h0M708.6 339.8h0M708.7 322.7h0M708.8 344.5h0M708.9 331.9h0M709.1 318.7h0M709.2 331.6h0M709.3 321.3h0M709.4 326.6h0M709.5 320.8h0M709.7 316.9h0M709.8 317.6h0M709.9 318.4h0M710.0 317.1h0M710.1 321.4h0M710.3 325.8h0M710.4 324.5h0M710.5 325.6h0M710.6 327.5h0M710.8 341.2h0M710.9 333.3h0M711.0 330.0h0M711.1 336.3h0M711.2 332.4h0M711.4 334.9h0M711.5 322.1h0M711.6 340.9h0M711.7 339.9h0M711.8 343.7h0M712.0 340.7h0M712.1 345.1h0M712.2 340.7h0M712.3 345.5h0M712.4 340.9h0M712.6 339.0h0M712.7 340.8h0M712.8 345.7h0M712.9 340.8h0M713.0 339.2h0M713.2 335.9h0M713.3 323.6h0M713.4 336.1h0M713.5 329.1h0M713.6 335.3h0M713.8 328.8h0M713.9 330.1h0M714.0 322.8h0M714.1 329.7h0M714.2 329.3h0M714.4 347.4h0M714.5 326.1h0M714.6 323.2h0M714.7 323.4h0M714.9 325.0h0M715.0 327.4h0M715.1 322.7h0M715.2 342.9h0M715.3 328.7h0M715.5 329.3h0M715.6 345.9h0M715.7 344.2h0M715.8 342.4h0M715.9 343.2h0M716.1 337.6h0M716.2 346.0h0M716.3 350.6h0M716.4 352.5h0M716.5 350.6h0M716.7 348.4h0M716.8 348.7h0M716.9 351.9h0M717.0 350.0h0M717.1 344.8h0M717.3 344.9h0M717.4 351.3h0M717.5 335.3h0M717.6 335.3h0M717.7 339.4h0M717.9 331.1h0M718.0 326.7h0M718.1 328.0h0M718.2 328.5h0M718.3 328.9h0M718.5 327.4h0M718.6 339.8h0M718.7 326.3h0M718.8 326.5h0M719.0 327.1h0M719.1 329.2h0M719.2 328.2h0M719.3 313.3h0M719.4 311.4h0M719.6 333.4h0M719.7 332.3h0M719.8 338.0h0M719.9 330.9h0M720.0 339.5h0M720.2 340.6h0M720.3 343.7h0M720.4 305.4h0M720.5 324.7h0M720.6 321.1h0M720.8 333.3h0M720.9 330.4h0M721.0 329.5h0M721.1 327.4h0M721.2 318.9h0M721.4 323.1h0M721.5 326.0h0M721.6 325.6h0M721.7 316.1h0M721.8 316.9h0M722.0 320.5h0M722.1 314.6h0M722.2 310.2h0M722.3 304.2h0M722.4 312.2h0M722.6 313.0h0M722.7 305.8h0M722.8 303.8h0M722.9 303.0h0M723.1 316.5h0M723.2 301.5h0M723.3 304.2h0M723.4 308.4h0M723.5 319.1h0M723.7 320.0h0M723.8 321.9h0M723.9 325.5h0M724.0 329.2h0M724.1 334.4h0M724.3 327.7h0M724.4 324.6h0M724.5 319.3h0M724.6 310.2h0M724.7 308.8h0M724.9 300.7h0M725.0 300.1h0M725.1 299.9h0M725.2 301.0h0M725.3 302.6h0M725.5 306.7h0M725.6 305.6h0M725.7 307.7h0M725.8 304.0h0M725.9 310.2h0M726.1 312.1h0M726.2 314.5h0M726.3 327.6h0M726.4 315.8h0M726.5 317.6h0M726.7 324.8h0M726.8 322.1h0M726.9 328.2h0M727.0 329.0h0M727.2 321.7h0M727.3 330.0h0M727.4 336.7h0M727.5 339.8h0M727.6 334.9h0M727.8 338.9h0M727.9 311.8h0M728.0 333.0h0M728.1 333.9h0M728.2 307.8h0M728.4 327.6h0M728.5 314.1h0M728.6 318.3h0M728.7 319.1h0M728.8 330.3h0M729.0 314.6h0M729.1 311.5h0M729.2 315.4h0M729.3 305.5h0M729.4 301.9h0M729.6 303.8h0M729.7 309.2h0M729.8 306.3h0M729.9 315.6h0M730.0 311.4h0M730.2 313.1h0M730.3 320.1h0M730.4 328.0h0M730.5 324.2h0M730.6 324.7h0M730.8 328.3h0M730.9 331.8h0M731.0 331.6h0M731.1 335.9h0M731.3 337.7h0M731.4 335.3h0M731.5 341.3h0M731.6 342.4h0M731.7 342.9h0M731.9 346.7h0M732.0 340.0h0M732.1 342.8h0M732.2 340.1h0M732.3 338.3h0M732.5 338.1h0M732.6 335.2h0M732.7 338.0h0M732.8 333.5h0M732.9 331.5h0M733.1 331.7h0M733.2 330.2h0M733.3 329.6h0M733.4 326.9h0M733.5 324.0h0M733.7 313.7h0M733.8 316.4h0M733.9 316.4h0M734.0 320.4h0M734.1 316.0h0M734.3 319.2h0M734.4 317.7h0M734.5 321.1h0M734.6 314.1h0M734.7 317.7h0M734.9 341.9h0M735.0 318.3h0M735.1 316.2h0M735.2 320.8h0M735.4 323.5h0M735.5 321.1h0M735.6 324.9h0M735.7 323.3h0M735.8 338.5h0M736.0 327.5h0M736.1 326.2h0M736.2 329.1h0M736.3 328.2h0M736.4 329.0h0M736.6 337.7h0M736.7 331.7h0M736.8 335.0h0M736.9 336.3h0M737.0 334.5h0M737.2 339.1h0M737.3 335.2h0M737.4 332.4h0M737.5 327.2h0M737.6 327.4h0M737.8 325.2h0M737.9 319.4h0M738.0 331.7h0M738.1 316.6h0M738.2 327.6h0M738.4 307.5h0M738.5 308.0h0M738.6 313.7h0M738.7 307.3h0M738.8 315.5h0M739.0 314.8h0M739.1 317.4h0M739.2 318.2h0M739.3 322.5h0M739.5 323.2h0M739.6 323.0h0M739.7 323.5h0M739.8 326.1h0M739.9 329.7h0M740.1 321.7h0M740.2 325.9h0M740.3 324.8h0M740.4 322.2h0M740.5 323.5h0M740.7 308.7h0M740.8 317.5h0M740.9 316.5h0M741.0 314.4h0M741.1 308.6h0M741.3 314.3h0M741.4 312.3h0M741.5 311.2h0M741.6 310.7h0M741.7 310.7h0M741.9 310.3h0M742.0 310.2h0M742.1 312.6h0M742.2 309.7h0M742.3 311.1h0M742.5 313.1h0M742.6 313.5h0M742.7 314.9h0M742.8 315.8h0M742.9 317.0h0M743.1 315.3h0M743.2 317.1h0M743.3 317.0h0M743.4 318.7h0M743.6 315.4h0M743.7 319.9h0M743.8 315.0h0M743.9 316.0h0M744.0 320.7h0M744.2 321.5h0M744.3 321.8h0M744.4 313.9h0M744.5 321.2h0M744.6 311.7h0M744.8 310.9h0M744.9 317.7h0M745.0 317.5h0M745.1 317.8h0M745.2 317.4h0M745.4 317.0h0M745.5 316.7h0M745.6 315.4h0M745.7 318.2h0M745.8 321.6h0M746.0 313.6h0M746.1 307.2h0M746.2 299.2h0M746.3 291.9h0M746.4 284.6h0M746.6 277.4h0M746.7 285.6h0M746.8 281.2h0M746.9 291.8h0M747.0 274.4h0M747.2 274.5h0M747.3 281.1h0M747.4 290.1h0M747.5 281.5h0M747.7 265.8h0M747.8 281.5h0M747.9 283.2h0M748.0 285.6h0M748.1 289.4h0M748.3 282.2h0M748.4 290.4h0M748.5 290.2h0M748.6 289.4h0M748.7 297.8h0M748.9 296.6h0M749.0 288.8h0M749.1 292.8h0M749.2 291.8h0M749.3 288.6h0M749.5 288.9h0M749.6 281.4h0M749.7 289.0h0M749.8 281.6h0M749.9 280.7h0M750.1 279.2h0M750.2 279.2h0M750.3 274.9h0M750.4 270.3h0M750.5 275.1h0M750.7 272.3h0M750.8 276.5h0M750.9 275.3h0M751.0 269.3h0M751.1 272.7h0M751.3 264.6h0M751.4 267.6h0M751.5 270.6h0M751.6 267.2h0M751.8 276.1h0M751.9 279.0h0M752.0 278.6h0M752.1 280.2h0M752.2 286.9h0M752.4 294.6h0M752.5 291.9h0M752.6 294.6h0M752.7 299.1h0M752.8 295.7h0M753.0 294.9h0M753.1 294.3h0M753.2 295.8h0M753.3 294.5h0M753.4 298.4h0M753.6 300.0h0M753.7 302.7h0M753.8 304.0h0M753.9 304.0h0M754.0 315.5h0M754.2 310.7h0M754.3 311.6h0M754.4 314.4h0M754.5 317.6h0M754.6 319.6h0M754.8 321.6h0M754.9 325.3h0M755.0 328.2h0M755.1 334.2h0M755.2 331.8h0M755.4 337.0h0M755.5 340.9h0M755.6 343.7h0M755.7 344.4h0M755.9 344.6h0M756.0 347.2h0M756.1 346.4h0M756.2 349.9h0M756.3 351.3h0M756.5 351.2h0M756.6 355.5h0M756.7 356.3h0M756.8 360.3h0M756.9 359.9h0M757.1 363.9h0M757.2 349.9h0M757.3 347.1h0M757.4 367.4h0M757.5 347.1h0M757.7 366.5h0M757.8 363.8h0M757.9 368.5h0M758.0 367.1h0M758.1 365.0h0M758.3 364.4h0M758.4 362.5h0M758.5 355.8h0M758.6 356.4h0M758.7 359.5h0M758.9 360.3h0M759.0 350.4h0M759.1 346.6h0M759.2 344.4h0M759.4 345.1h0M759.5 342.7h0M759.6 358.2h0M759.7 346.3h0M759.8 359.9h0M760.0 359.5h0M760.1 362.4h0M760.2 348.3h0M760.3 352.4h0M760.4 351.9h0M760.6 353.2h0M760.7 358.9h0M760.8 353.8h0M760.9 355.0h0M761.0 353.3h0M761.2 354.9h0M761.3 355.4h0M761.4 355.8h0M761.5 355.8h0M761.6 355.8h0M761.8 355.7h0M761.9 353.6h0M762.0 352.1h0M762.1 350.9h0M762.2 351.9h0M762.4 351.0h0M762.5 352.9h0M762.6 352.6h0M762.7 351.4h0M762.8 348.2h0M763.0 347.0h0M763.1 347.7h0M763.2 354.3h0M763.3 348.2h0M763.5 346.1h0M763.6 344.7h0M763.7 344.5h0M763.8 345.3h0M763.9 341.8h0M764.1 342.8h0M764.2 339.6h0M764.3 340.2h0M764.4 342.9h0M764.5 343.3h0M764.7 343.2h0M764.8 342.0h0M764.9 341.6h0M765.0 343.0h0M765.1 344.2h0M765.3 345.2h0M765.4 345.2h0M765.5 348.7h0M765.6 349.3h0M765.7 348.2h0M765.9 348.7h0M766.0 349.9h0M766.1 346.6h0M766.2 352.0h0M766.3 350.3h0M766.5 353.2h0M766.6 358.7h0M766.7 353.5h0M766.8 336.7h0M766.9 354.1h0M767.1 352.2h0M767.2 355.3h0M767.3 346.9h0M767.4 348.9h0M767.6 333.1h0M767.7 345.0h0M767.8 341.9h0M767.9 341.1h0M768.0 336.2h0M768.2 351.9h0M768.3 331.5h0M768.4 329.2h0M768.5 328.3h0M768.6 327.4h0M768.8 328.6h0M768.9 328.7h0M769.0 329.4h0M769.1 324.5h0M769.2 329.5h0M769.4 331.6h0M769.5 332.7h0M769.6 328.0h0M769.7 332.5h0M769.8 330.8h0M770.0 331.0h0M770.1 332.9h0M770.2 332.5h0M770.3 335.9h0M770.4 336.3h0M770.6 337.4h0M770.7 319.6h0M770.8 340.1h0M770.9 340.8h0M771.0 338.3h0M771.2 338.4h0M771.3 335.9h0M771.4 312.6h0M771.5 333.6h0M771.7 334.8h0M771.8 329.7h0M771.9 329.4h0M772.0 326.8h0M772.1 326.3h0M772.3 326.9h0M772.4 321.3h0M772.5 321.1h0M772.6 329.9h0M772.7 317.7h0M772.9 321.6h0M773.0 314.7h0M773.1 319.7h0M773.2 319.6h0M773.3 319.2h0M773.5 316.9h0M773.6 321.0h0M773.7 323.7h0M773.8 326.5h0M773.9 314.3h0M774.1 325.8h0M774.2 333.8h0M774.3 330.5h0M774.4 336.3h0M774.5 332.4h0M774.7 338.0h0M774.8 337.2h0M774.9 337.5h0M775.0 340.5h0M775.1 332.7h0M775.3 330.9h0M775.4 330.7h0M775.5 327.1h0M775.6 326.1h0M775.8 322.3h0M775.9 320.5h0M776.0 332.8h0M776.1 318.9h0M776.2 320.1h0M776.4 322.0h0M776.5 323.8h0M776.6 326.1h0M776.7 327.2h0M776.8 329.9h0M777.0 328.3h0M777.1 331.7h0M777.2 334.4h0M777.3 335.0h0M777.4 335.8h0M777.6 335.9h0M777.7 335.9h0M777.8 330.2h0M777.9 327.5h0M778.0 322.2h0M778.2 322.8h0M778.3 320.3h0M778.4 317.4h0M778.5 321.2h0M778.6 323.4h0M778.8 322.1h0M778.9 324.5h0M779.0 320.7h0M779.1 325.8h0M779.2 327.4h0M779.4 327.4h0M779.5 323.8h0M779.6 317.4h0M779.7 326.4h0M779.9 329.0h0M780.0 326.8h0M780.1 328.5h0M780.2 316.5h0M780.3 330.4h0M780.5 330.1h0M780.6 332.7h0M780.7 332.8h0M780.8 332.8h0M780.9 332.6h0M781.1 332.8h0M781.2 333.9h0M781.3 335.8h0M781.4 328.7h0M781.5 336.2h0M781.7 333.5h0M781.8 330.4h0M781.9 333.3h0M782.0 332.1h0M782.1 328.5h0M782.3 332.1h0M782.4 325.9h0M782.5 328.3h0M782.6 325.9h0M782.7 324.9h0M782.9 325.1h0M783.0 323.6h0M783.1 321.0h0M783.2 318.1h0M783.3 316.7h0M783.5 328.7h0M783.6 319.0h0M783.7 316.7h0M783.8 314.1h0M784.0 313.6h0M784.1 313.0h0M784.2 316.4h0M784.3 308.4h0M784.4 309.7h0M784.6 307.7h0M784.7 312.4h0M784.8 311.8h0M784.9 311.9h0M785.0 313.4h0M785.2 316.1h0M785.3 315.9h0M785.4 319.7h0M785.5 317.9h0M785.6 318.3h0M785.8 320.7h0M785.9 307.3h0M786.0 323.1h0M786.1 326.7h0M786.2 307.4h0M786.4 328.3h0M786.5 328.8h0M786.6 328.3h0M786.7 315.0h0M786.8 326.0h0M787.0 324.8h0M787.1 326.7h0M787.2 324.3h0M787.3 321.4h0M787.4 320.3h0M787.6 320.6h0M787.7 317.7h0M787.8 324.8h0M787.9 311.7h0M788.1 310.1h0M788.2 308.8h0M788.3 321.8h0M788.4 311.6h0M788.5 314.6h0M788.7 315.4h0M788.8 313.3h0M788.9 313.9h0M789.0 319.5h0M789.1 320.2h0M789.3 317.8h0M789.4 322.8h0M789.5 320.5h0M789.6 319.9h0M789.7 321.4h0M789.9 319.8h0M790.0 323.1h0M790.1 322.3h0M790.2 327.9h0M790.3 327.8h0M790.5 331.3h0M790.6 330.6h0M790.7 328.3h0M790.8 322.5h0M790.9 323.8h0M791.1 334.5h0M791.2 333.8h0M791.3 328.2h0M791.4 327.4h0M791.5 334.8h0M791.7 332.6h0M791.8 327.5h0M791.9 325.5h0M792.0 324.7h0M792.2 323.5h0M792.3 327.0h0M792.4 324.6h0M792.5 326.9h0M792.6 328.5h0M792.8 342.6h0M792.9 332.4h0M793.0 340.4h0M793.1 333.7h0M793.2 337.7h0M793.4 338.4h0M793.5 339.0h0M793.6 341.2h0M793.7 343.4h0M793.8 342.2h0M794.0 343.5h0M794.1 345.4h0M794.2 346.8h0M794.3 343.8h0M794.4 348.2h0M794.6 347.0h0M794.7 345.0h0M794.8 347.4h0M794.9 348.6h0M795.0 348.3h0M795.2 348.4h0M795.3 344.7h0M795.4 341.5h0M795.5 342.9h0M795.6 343.0h0M795.8 346.1h0M795.9 342.0h0M796.0 338.8h0M796.1 342.1h0M796.3 340.8h0M796.4 340.1h0M796.5 342.0h0M796.6 342.3h0M796.7 343.5h0M796.9 344.6h0M797.0 342.1h0M797.1 345.1h0M797.2 346.1h0M797.3 344.6h0M797.5 348.6h0M797.6 346.3h0M797.7 350.4h0M797.8 349.2h0M797.9 354.3h0M798.1 349.9h0M798.2 351.3h0M798.3 349.6h0M798.4 350.5h0M798.5 349.8h0M798.7 353.4h0M798.8 352.6h0M798.9 354.9h0M799.0 355.4h0M799.1 351.7h0M799.3 352.7h0M799.4 354.4h0M799.5 349.2h0M799.6 348.1h0M799.7 346.0h0M799.9 342.6h0M800.0 344.3h0M800.1 340.4h0M800.2 343.9h0M800.4 343.4h0M800.5 347.3h0M800.6 342.3h0M800.7 346.3h0M800.8 347.8h0M801.0 349.8h0M801.1 352.3h0M801.2 351.5h0M801.3 351.7h0M801.4 344.8h0M801.6 353.1h0M801.7 353.2h0M801.8 346.8h0M801.9 359.0h0M802.0 358.7h0M802.2 358.9h0M802.3 357.7h0M802.4 351.5h0M802.5 356.7h0M802.6 347.5h0M802.8 354.8h0M802.9 353.1h0M803.0 353.2h0M803.1 353.0h0M803.2 357.9h0M803.4 351.2h0M803.5 347.9h0M803.6 349.3h0M803.7 349.7h0M803.8 346.3h0M804.0 346.0h0M804.1 353.5h0M804.2 354.9h0M804.3 348.6h0M804.5 348.6h0M804.6 351.1h0M804.7 361.3h0M804.8 354.0h0M804.9 354.9h0M805.1 355.9h0M805.2 358.6h0M805.3 360.8h0M805.4 358.6h0M805.5 354.0h0M805.7 364.4h0M805.8 365.6h0M805.9 365.1h0M806.0 364.3h0M806.1 366.4h0M806.3 363.6h0M806.4 363.2h0M806.5 360.0h0M806.6 359.0h0M806.7 362.9h0M806.9 359.6h0M807.0 359.2h0M807.1 352.1h0M807.2 358.8h0M807.3 358.6h0M807.5 356.2h0M807.6 356.3h0M807.7 357.5h0M807.8 365.2h0M808.0 367.4h0M808.1 368.2h0M808.2 369.9h0M808.3 372.2h0M808.4 371.9h0M808.6 381.5h0M808.7 376.8h0M808.8 378.7h0M808.9 378.9h0M809.0 373.2h0M809.2 364.3h0M809.3 373.6h0M809.4 374.7h0M809.5 374.7h0M809.6 373.1h0M809.8 371.8h0M809.9 369.9h0M810.0 367.5h0M810.1 369.2h0M810.2 366.7h0M810.4 364.9h0M810.5 367.0h0M810.6 362.2h0M810.7 363.2h0M810.8 364.6h0M811.0 364.1h0M811.1 361.3h0M811.2 363.1h0M811.3 363.4h0M811.4 366.5h0M811.6 367.3h0M811.7 368.4h0M811.8 371.1h0M811.9 371.0h0M812.1 371.1h0M812.2 373.1h0M812.3 375.1h0M812.4 365.0h0M812.5 383.4h0M812.7 375.9h0M812.8 378.4h0M812.9 377.3h0M813.0 380.4h0M813.1 381.6h0M813.3 380.6h0M813.4 381.4h0M813.5 380.3h0M813.6 380.1h0M813.7 379.6h0M813.9 376.0h0M814.0 379.6h0M814.1 380.0h0M814.2 383.0h0M814.3 375.6h0M814.5 376.1h0M814.6 368.6h0M814.7 373.7h0M814.8 373.8h0M814.9 374.4h0M815.1 373.4h0M815.2 371.1h0M815.3 370.8h0M815.4 373.9h0M815.5 369.1h0M815.7 368.5h0M815.8 370.7h0M815.9 371.5h0M816.0 369.8h0M816.2 372.7h0M816.3 373.3h0M816.4 375.4h0M816.5 380.0h0M816.6 378.2h0M816.8 378.1h0M816.9 380.0h0M817.0 381.4h0M817.1 376.9h0M817.2 382.4h0M817.4 373.0h0M817.5 382.1h0M817.6 379.2h0M817.7 378.1h0M817.8 376.9h0M818.0 375.2h0M818.1 376.8h0M818.2 380.7h0M818.3 370.9h0M818.4 371.9h0M818.6 373.8h0M818.7 374.6h0M818.8 377.6h0M818.9 381.1h0M819.0 378.3h0M819.2 378.8h0M819.3 379.5h0M819.4 379.3h0M819.5 382.1h0M819.6 382.9h0M819.8 373.1h0M819.9 383.4h0M820.0 377.5h0M820.1 382.4h0M820.3 382.3h0M820.4 379.8h0M820.5 381.8h0M820.6 376.3h0M820.7 381.7h0M820.9 377.2h0M821.0 376.6h0M821.1 376.0h0M821.2 377.3h0M821.3 374.8h0M821.5 374.1h0M821.6 371.7h0M821.7 374.9h0M821.8 372.9h0M821.9 375.2h0M822.1 372.2h0M822.2 373.4h0M822.3 370.9h0M822.4 371.2h0M822.5 383.1h0M822.7 371.3h0M822.8 373.9h0M822.9 373.8h0M823.0 374.0h0M823.1 380.0h0M823.3 375.7h0M823.4 376.9h0M823.5 377.6h0M823.6 377.7h0M823.7 378.3h0M823.9 379.5h0M824.0 378.9h0M824.1 383.3h0M824.2 373.8h0M824.4 382.5h0M824.5 381.2h0M824.6 380.8h0M824.7 380.5h0M824.8 376.8h0M825.0 379.1h0M825.1 382.0h0M825.2 382.2h0M825.3 382.1h0M825.4 382.2h0M825.6 380.4h0M825.7 383.0h0M825.8 380.7h0M825.9 379.2h0M826.0 379.7h0M826.2 382.9h0M826.3 378.8h0M826.4 375.5h0M826.5 377.2h0M826.6 381.3h0M826.8 377.3h0M826.9 374.2h0M826.2 316.6h0M826.1 301.9h0M826.5 299.3h0M827.1 303.8h0M824.7 314.9h0M825.6 303.4h0M825.3 315.5h0M827.0 302.2h0M827.1 305.6h0M827.1 314.5h0M825.5 304.9h0M826.0 303.9h0M825.2 313.0h0M826.8 310.9h0M826.6 302.6h0M824.8 313.5h0M825.2 314.4h0M827.4 307.6h0M825.8 307.0h0M825.6 308.7h0M825.4 305.9h0M824.4 316.9h0M826.0 302.9h0M825.7 311.8h0M825.1 314.3h0M827.6 302.3h0M827.0 309.9h0M825.4 310.0h0M826.0 304.3h0M825.5 316.4h0M826.4 309.7h0M825.7 302.8h0M827.5 305.4h0M826.5 304.8h0M826.2 307.8h0M826.9 303.5h0M826.6 317.4h0M825.2 308.4h0M826.8 310.7h0M825.6 310.4h0M825.2 312.7h0M825.9 302.7h0M827.3 303.6h0M826.6 311.0h0M825.6 304.2h0M826.3 313.5h0M826.5 306.2h0M828.1 298.2h0M828.0 298.3h0M827.8 293.2h0M828.3 285.9h0M828.0 295.7h0M827.3 292.3h0M828.4 293.5h0M828.8 283.3h0M828.3 287.3h0M827.5 292.1h0M826.5 297.8h0M828.9 291.7h0M829.8 284.0h0M826.7 297.7h0M827.4 292.1h0M829.1 291.9h0M829.0 283.2h0M828.7 284.3h0M830.1 285.3h0M828.3 290.2h0M829.5 290.4h0M830.3 284.2h0M828.0 289.2h0M827.8 286.1h0M828.9 281.4h0M829.7 287.6h0M828.0 289.2h0M829.0 283.4h0M828.1 296.2h0M829.0 283.7h0M830.5 284.8h0M829.8 281.9h0M827.5 294.5h0M831.0 282.0h0M829.3 292.1h0M827.6 294.8h0M829.7 289.1h0M827.1 292.4h0M830.1 285.9h0M828.8 293.8h0M828.1 294.0h0M829.7 289.2h0M830.0 284.1h0M830.2 283.2h0M827.1 296.9h0M829.0 284.8h0M828.5 281.2h0M829.8 281.5h0M828.8 290.4h0M827.6 288.1h0M830.7 275.5h0M831.7 264.6h0M832.7 264.7h0M829.5 279.6h0M830.4 270.6h0M831.9 270.9h0M832.2 273.5h0M831.7 267.5h0M829.8 277.9h0M832.1 271.9h0M831.1 268.0h0M832.0 262.1h0M829.0 277.6h0M829.5 278.2h0M832.9 267.6h0M831.1 278.7h0M833.1 264.2h0M833.6 262.1h0M832.1 264.9h0M833.1 269.1h0M832.0 263.5h0M832.0 273.5h0M830.2 279.3h0M831.7 275.5h0M831.1 277.2h0M831.9 271.1h0M832.6 265.3h0M830.2 271.2h0M829.7 278.1h0M831.8 274.5h0M832.0 266.2h0M831.3 264.9h0M833.3 264.3h0M832.9 269.5h0M831.3 269.1h0M833.2 265.5h0M831.6 262.7h0M833.0 270.5h0M831.0 268.6h0M832.5 270.3h0M832.4 266.8h0M831.0 273.7h0M832.3 272.7h0M831.3 269.9h0M831.3 275.0h0M834.9 258.7h0M833.6 260.6h0M833.4 260.1h0M834.3 259.9h0M834.3 260.1h0M832.7 259.9h0M836.6 261.1h0M833.3 260.0h0M835.1 260.0h0M832.5 259.6h0M835.2 267.9h0M836.4 270.4h0M835.1 262.3h0M836.9 260.8h0M835.4 266.9h0M834.9 263.7h0M836.0 269.5h0M837.0 266.1h0M836.7 264.5h0M835.7 263.2h0M836.7 266.3h0M835.9 270.6h0M835.9 264.5h0M836.9 259.9h0M835.1 263.3h0M836.8 266.0h0M837.2 271.0h0M837.1 261.5h0M835.3 267.9h0M836.1 270.3h0M836.3 268.7h0M835.8 271.3h0M836.4 264.4h0M836.1 269.0h0M834.9 262.2h0M837.1 265.3h0M836.6 260.6h0M834.9 268.7h0M835.7 262.0h0M837.0 267.5h0M834.2 272.7h0M834.0 273.3h0M832.8 271.1h0M833.8 271.4h0M832.9 271.3h0M833.6 271.7h0M832.3 272.8h0M833.2 273.2h0M835.4 270.8h0M834.8 270.7h0M832.2 262.2h0M830.8 268.1h0M831.9 265.0h0M831.7 267.9h0M831.8 265.0h0M832.9 265.8h0M832.6 267.6h0M832.3 267.0h0M832.8 262.1h0M832.2 264.0h0M832.2 271.3h0M832.2 263.9h0M831.1 263.8h0M833.0 266.0h0M831.2 261.3h0M831.4 266.6h0M831.5 270.8h0M832.0 266.9h0M832.5 265.2h0M831.4 265.3h0M830.8 271.6h0M831.2 263.4h0M832.6 266.5h0M831.7 266.5h0M831.5 262.2h0M834.5 264.8h0M833.5 263.9h0M835.6 267.1h0M832.3 264.7h0M834.8 265.1h0M833.7 263.2h0M833.1 263.5h0M834.2 264.6h0M831.8 263.4h0M835.2 265.4h0M832.8 263.6h0M833.6 261.7h0M836.5 271.0h0M838.2 278.0h0M839.3 279.0h0M838.2 281.5h0M839.9 283.2h0M837.5 270.2h0M841.1 284.8h0M840.1 283.3h0M838.6 273.9h0M836.4 269.7h0M838.0 271.1h0M840.1 282.9h0M837.4 271.9h0M838.5 275.3h0M838.9 283.0h0M839.1 282.8h0M838.9 278.0h0M838.3 281.0h0M837.0 273.4h0M839.6 281.7h0M838.3 271.9h0M839.0 280.4h0M838.5 275.8h0M838.2 271.9h0M839.0 278.6h0M839.2 284.9h0M840.0 279.8h0M837.4 274.6h0M837.9 271.4h0M837.9 269.6h0M838.0 274.4h0M840.7 284.0h0M839.2 276.8h0M838.4 276.9h0M838.5 273.4h0M837.6 274.1h0M838.0 278.3h0M836.6 272.2h0M839.9 292.2h0M839.4 289.3h0M840.4 293.8h0M839.4 289.3h0M839.7 299.6h0M840.2 302.5h0M840.3 302.3h0M840.6 294.0h0M840.5 287.4h0M839.2 289.0h0M840.4 296.8h0M840.4 287.4h0M841.3 301.0h0M840.0 290.3h0M839.0 287.9h0M840.6 294.1h0M839.9 288.0h0M841.1 289.5h0M841.1 293.0h0M842.1 303.4h0M840.0 298.1h0M839.9 293.3h0M840.6 288.9h0M839.2 289.1h0M842.1 307.2h0M841.4 292.6h0M839.1 283.6h0M840.1 288.5h0M840.8 299.1h0M841.0 299.5h0M840.2 295.8h0M839.9 296.7h0M840.5 286.7h0M840.5 293.0h0M841.0 300.1h0M840.6 294.8h0M839.3 287.5h0M840.4 293.0h0M841.1 301.7h0M841.7 294.6h0M840.1 296.4h0M840.1 292.3h0M839.6 293.0h0M840.2 296.1h0M841.4 289.6h0M840.7 293.9h0M841.0 304.2h0M840.3 298.8h0M841.0 292.1h0M840.1 296.7h0M839.8 289.0h0M839.7 286.8h0M842.4 300.6h0M841.8 304.8h0M842.8 294.7h0M842.3 302.0h0M842.9 305.5h0M840.2 303.1h0M841.5 304.0h0M841.1 303.2h0M840.3 299.7h0M842.6 304.4h0M841.7 296.0h0M844.2 296.4h0M839.7 305.1h0M841.5 300.4h0M840.1 306.9h0M841.7 302.5h0M840.3 301.6h0M841.1 300.5h0M842.3 304.2h0M842.0 306.4h0M842.6 297.6h0M840.5 300.4h0M841.0 296.9h0M839.7 303.6h0M841.8 299.0h0M842.7 299.8h0M841.3 302.4h0M844.4 289.8h0M842.5 291.3h0M845.0 286.8h0M845.5 293.1h0M842.3 294.2h0M844.6 286.4h0M844.7 293.3h0M843.8 293.1h0M844.1 287.1h0M844.8 293.7h0M846.5 286.7h0M843.3 293.7h0M843.6 289.3h0M843.1 292.2h0M845.3 285.0h0M845.8 291.6h0M844.1 289.2h0M843.1 295.0h0M847.1 285.1h0M843.6 288.4h0M843.1 291.9h0M847.1 285.5h0M843.0 292.3h0M847.5 283.8h0M845.7 284.7h0M844.0 291.6h0M845.7 283.0h0M847.9 284.0h0M847.8 283.9h0M846.7 283.0h0M845.4 283.6h0M846.4 283.0h0M846.3 284.4h0M847.3 283.3h0M848.5 284.1h0M845.7 286.3h0M846.4 283.8h0M850.2 270.5h0M849.0 275.6h0M848.7 275.1h0M848.3 271.6h0M850.0 269.7h0M850.1 269.7h0M850.3 265.5h0M848.6 269.5h0M848.7 269.4h0M850.5 273.0h0M849.6 275.4h0M848.1 272.5h0M849.6 276.9h0M847.6 278.9h0M846.9 275.3h0M847.8 268.8h0M849.2 271.4h0M850.3 273.5h0M850.1 273.2h0M847.4 272.1h0M847.9 273.8h0M850.1 272.8h0M851.2 268.2h0M847.3 274.8h0M848.5 268.1h0M849.8 273.7h0M851.1 268.0h0M849.0 275.1h0M848.9 276.1h0M848.5 267.3h0M849.5 271.0h0M847.8 273.3h0M852.9 258.0h0M850.9 264.9h0M851.9 255.3h0M850.0 265.2h0M851.2 263.5h0M853.1 254.8h0M852.0 256.1h0M853.8 252.2h0M850.2 259.2h0M849.8 263.7h0M852.2 251.5h0M850.8 266.2h0M853.6 253.5h0M849.6 263.4h0M848.8 263.0h0M852.6 251.2h0M849.5 260.5h0M852.7 258.0h0M849.8 258.8h0M852.4 257.4h0M851.4 253.2h0M851.0 261.8h0M853.2 257.8h0M851.9 253.3h0M852.0 253.8h0M854.1 253.1h0M849.3 264.3h0M851.6 261.4h0M850.6 263.3h0M852.8 257.7h0M852.4 258.3h0M849.0 262.4h0M853.7 255.4h0M855.0 248.3h0M854.7 245.4h0M856.5 247.2h0M852.1 250.1h0M852.5 251.0h0M852.9 247.5h0M855.3 249.1h0M852.8 251.8h0M854.6 249.9h0M852.7 248.8h0M852.6 249.8h0M853.0 249.7h0M854.5 252.3h0M851.9 249.3h0M855.2 244.2h0M854.0 250.4h0M852.4 248.6h0M855.2 250.9h0M855.2 244.3h0M856.6 245.0h0M853.4 248.2h0M607.6 254.4h0M606.0 236.0h0M605.1 229.4h0M606.0 241.2h0M606.4 256.5h0M606.7 236.1h0M607.6 231.4h0M606.8 238.5h0M606.5 252.2h0M606.3 235.2h0M606.5 244.0h0M607.7 238.7h0M608.3 253.2h0M607.0 240.6h0M607.5 241.7h0M605.9 245.2h0M606.5 252.3h0M606.6 234.1h0M608.0 247.6h0M605.6 240.8h0M607.5 253.7h0M606.8 248.6h0M607.3 238.9h0M605.9 243.5h0M606.9 234.2h0M606.5 229.2h0M608.1 249.3h0M605.8 245.3h0M607.6 232.1h0M607.4 254.2h0M608.0 246.2h0M606.7 243.0h0M607.0 233.8h0M606.5 246.2h0M607.0 251.5h0M607.9 244.9h0M607.6 255.8h0M607.4 253.6h0M605.5 232.2h0M607.3 249.7h0M606.4 245.7h0M607.4 254.6h0M606.6 237.5h0M606.4 254.8h0M607.2 228.5h0M606.9 229.7h0M607.5 232.4h0M608.1 254.1h0M606.6 234.1h0M607.0 251.6h0M607.3 251.7h0M606.4 255.3h0M605.8 242.3h0M607.3 253.7h0M607.2 244.1h0M606.2 248.4h0M607.4 231.6h0M606.3 234.9h0M607.2 241.5h0M607.8 250.9h0M606.5 232.1h0M606.9 231.1h0M608.1 244.5h0M607.6 249.6h0M607.0 242.0h0M606.6 255.5h0M605.9 233.0h0M606.1 237.8h0M607.1 244.5h0M606.2 247.8h0M605.3 231.8h0M608.3 250.0h0M606.3 229.7h0M606.7 253.6h0M605.7 229.7h0M607.8 235.9h0M606.2 234.2h0M606.6 240.7h0M606.8 236.8h0M608.3 249.2h0M608.0 252.0h0M605.8 254.5h0M608.6 248.8h0M610.6 229.2h0M610.6 235.0h0M608.7 234.9h0M609.1 255.1h0M610.4 254.0h0M608.9 231.9h0M611.3 251.1h0M608.9 235.1h0M611.1 247.6h0M608.7 235.5h0M608.7 253.3h0M610.2 236.1h0M609.7 242.2h0M609.4 227.8h0M608.4 238.5h0M611.3 249.5h0M611.1 253.6h0M609.2 254.9h0M610.8 249.3h0M610.0 240.5h0M609.7 245.8h0M611.2 242.9h0M610.8 251.1h0M610.3 251.2h0M610.0 239.5h0M610.7 236.0h0M610.6 253.9h0M609.5 242.1h0M611.1 239.5h0M608.8 227.4h0M608.2 230.9h0M608.2 227.9h0M609.7 246.2h0M609.8 250.0h0M609.3 248.0h0M608.5 253.2h0M608.3 227.8h0M609.8 234.5h0M610.8 254.2h0M610.4 240.2h0M608.3 239.3h0M610.7 249.7h0M610.7 246.6h0M610.0 234.2h0M609.6 248.2h0M610.4 245.3h0M611.3 254.8h0M610.0 254.3h0M610.0 252.2h0M609.5 242.3h0M610.0 255.3h0M610.9 249.9h0M608.9 230.2h0M608.5 245.1h0M609.1 248.4h0M610.9 234.1h0M609.6 232.4h0M610.6 232.7h0M610.5 229.4h0M610.0 246.5h0M609.6 244.3h0M610.9 248.2h0M611.0 255.5h0M609.1 233.7h0M610.8 229.8h0M609.9 234.1h0M609.1 231.5h0M609.2 252.0h0M609.5 232.7h0M609.4 247.4h0M610.1 230.5h0M610.1 232.6h0M608.3 228.3h0M609.6 236.7h0M608.9 255.5h0M609.8 235.2h0M608.3 232.1h0M608.3 239.7h0M608.1 228.3h0M609.0 254.1h0M609.4 253.8h0M609.1 248.0h0M609.3 235.5h0M609.1 228.3h0M610.9 247.0h0M608.5 227.0h0M611.2 253.1h0M609.3 234.1h0M610.5 252.6h0M613.4 242.8h0M612.9 239.1h0M612.6 242.7h0M611.2 246.3h0M611.5 253.1h0M611.2 241.0h0M612.7 251.7h0M612.1 239.1h0M613.4 242.0h0M613.3 256.3h0M612.4 255.4h0M612.9 242.9h0M611.1 238.7h0M613.2 242.3h0M613.4 255.9h0M612.7 247.0h0M613.4 256.1h0M612.6 248.2h0M611.4 253.4h0M611.5 248.9h0M612.1 250.8h0M613.1 256.8h0M612.8 235.5h0M613.0 239.2h0M612.3 253.8h0M611.8 246.8h0M611.0 238.8h0M613.4 250.7h0M612.1 252.8h0M612.7 243.6h0M613.2 244.8h0M611.3 242.9h0M613.2 242.6h0M612.6 245.9h0M612.3 237.4h0M612.5 248.3h0M611.4 233.4h0M612.5 256.1h0M611.6 244.8h0M613.4 248.2h0M612.3 254.6h0M612.4 254.4h0M612.5 256.2h0M612.4 242.5h0M612.3 253.8h0M611.8 247.4h0M611.3 233.7h0M611.3 236.8h0M611.4 233.9h0M612.6 245.1h0M611.7 250.6h0M613.0 252.5h0M611.4 235.6h0M612.0 240.7h0M613.0 243.5h0M611.8 257.0h0M611.6 239.1h0M612.7 256.3h0M611.2 238.9h0M611.8 240.6h0M611.8 237.7h0M612.7 256.6h0M613.0 243.8h0M611.5 242.4h0M612.7 240.4h0M612.2 248.2h0M612.2 237.9h0M613.3 243.2h0M613.2 236.2h0M613.0 235.8h0M612.7 237.4h0M613.7 254.3h0M857.9 161.4h0M857.5 168.3h0M859.3 172.5h0M859.4 169.9h0M857.3 173.2h0M857.6 172.7h0M860.8 159.0h0M858.1 160.6h0M858.8 164.1h0M857.7 177.0h0M857.9 177.7h0M860.1 159.5h0M859.3 176.9h0M858.3 158.2h0M859.1 160.7h0M857.7 175.9h0M857.7 165.6h0M857.6 176.1h0M857.8 179.0h0M860.4 158.1h0M859.9 166.3h0M858.8 170.3h0M858.0 175.1h0M859.3 177.5h0M859.7 157.5h0M859.8 158.5h0M858.8 161.4h0M858.3 161.4h0M860.3 163.3h0M857.9 166.1h0M860.7 157.9h0M858.2 177.3h0M858.0 165.6h0M859.9 164.0h0M859.9 165.2h0M859.7 173.1h0M860.1 162.3h0M859.5 169.6h0M857.8 165.1h0M860.3 162.6h0M858.4 160.3h0M858.2 159.3h0M857.0 172.4h0M857.7 171.3h0M857.6 177.1h0M857.6 167.6h0M859.2 175.2h0M859.8 170.2h0M859.6 167.9h0M861.1 156.6h0M860.7 157.7h0M858.7 162.2h0M857.5 168.3h0M861.2 148.6h0M861.7 147.5h0M859.7 150.0h0M860.4 151.7h0M861.4 155.5h0M858.6 155.2h0M861.1 153.7h0M858.4 156.7h0M860.3 153.0h0M861.7 153.1h0M859.9 153.7h0M862.1 151.9h0M862.6 148.0h0M862.1 147.6h0M862.0 151.3h0M859.2 153.3h0M859.1 154.6h0M858.7 155.6h0M859.8 155.7h0M862.1 147.9h0M862.1 153.3h0M860.6 151.6h0M861.9 146.8h0M860.2 151.4h0M861.4 150.9h0M860.3 156.3h0M861.6 144.9h0M863.2 144.0h0M861.8 147.3h0M860.7 145.9h0M861.2 144.9h0M860.6 145.8h0M862.4 146.9h0M863.5 144.3h0M862.3 145.9h0M861.9 142.4h0M863.3 144.5h0M861.3 145.7h0M862.3 142.2h0M862.6 142.2h0M861.8 145.2h0M862.6 142.3h0M861.2 142.2h0M862.4 144.5h0M864.6 145.1h0M861.7 142.7h0M863.5 143.0h0M862.4 141.5h0M864.1 143.1h0M863.8 146.0h0M862.1 140.6h0M863.4 145.4h0M862.9 142.7h0M864.3 143.7h0M862.7 141.3h0M864.6 144.5h0M863.3 143.5h0M864.5 148.3h0M865.2 149.6h0M866.2 151.0h0M866.0 150.0h0M867.0 152.1h0M864.6 149.9h0M865.9 150.7h0M867.1 149.1h0M865.1 150.3h0M864.9 149.3h0M865.0 147.6h0M866.2 150.2h0M867.2 150.2h0M866.6 151.6h0M866.9 160.2h0M866.7 158.7h0M866.2 153.9h0M867.6 156.3h0M866.2 152.6h0M865.9 152.3h0M868.3 156.7h0M868.0 152.6h0M866.0 153.0h0M867.4 154.3h0M869.6 160.6h0M868.5 160.8h0M867.3 159.7h0M866.3 155.7h0M868.0 157.8h0M868.6 162.3h0M868.3 159.5h0M867.6 161.5h0M868.1 156.8h0M868.6 156.1h0M866.4 155.2h0M869.2 161.4h0M868.4 161.4h0M866.9 161.2h0M869.4 165.1h0M868.8 163.6h0M868.1 166.0h0M869.1 163.1h0M870.1 170.4h0M868.6 165.6h0M869.7 167.2h0M867.6 164.9h0M868.7 162.7h0M869.4 161.8h0M869.1 167.5h0M869.2 169.7h0M869.3 167.7h0M867.6 168.2h0M869.0 164.5h0M867.5 165.8h0M867.4 170.3h0M869.0 165.9h0M869.6 163.4h0M868.4 167.6h0M868.7 176.1h0M868.9 172.7h0M869.4 172.9h0M868.4 174.7h0M867.7 175.1h0M867.5 174.1h0M867.3 174.7h0M867.5 173.6h0M868.0 174.0h0M869.1 172.2h0M869.2 174.0h0M867.7 173.5h0M867.5 171.4h0M869.4 171.1h0M868.0 172.2h0M871.3 161.1h0M871.0 167.3h0M870.5 170.6h0M871.5 167.0h0M871.4 163.9h0M870.2 168.2h0M871.4 168.9h0M870.2 160.2h0M870.5 160.8h0M871.4 166.8h0M870.4 170.7h0M870.7 163.0h0M870.7 170.0h0M870.4 162.1h0M870.8 167.8h0M871.4 164.2h0M871.0 169.0h0M870.8 166.9h0M871.3 162.0h0M871.7 171.2h0M871.1 161.5h0M874.1 156.7h0M872.8 164.2h0M874.2 167.3h0M872.5 154.4h0M874.0 154.1h0M871.6 169.2h0M871.9 168.0h0M872.9 163.3h0M873.7 165.1h0M874.2 159.9h0M873.8 154.4h0M871.6 160.1h0M874.4 158.0h0M874.2 168.6h0M873.5 167.6h0M873.8 157.2h0M872.4 157.8h0M872.8 152.0h0M873.3 161.6h0M871.7 164.0h0M872.3 155.3h0M873.6 161.9h0M872.5 158.6h0M874.1 162.3h0M873.1 166.3h0M872.4 158.8h0M874.4 168.0h0M873.3 151.2h0M873.6 158.0h0M874.0 166.7h0M873.4 158.9h0M871.7 162.2h0M873.4 157.8h0M871.9 156.7h0M873.2 152.4h0M872.6 154.0h0M871.8 170.6h0M873.3 158.6h0M873.5 162.0h0M873.7 159.4h0M873.3 160.2h0M872.3 166.4h0M873.0 156.0h0M873.9 157.3h0M873.9 171.6h0M872.8 167.9h0M873.1 159.8h0M873.1 152.0h0M873.0 163.5h0M874.0 166.6h0M874.4 167.8h0M872.7 171.6h0M875.1 170.3h0M876.2 161.5h0M876.4 170.5h0M875.6 167.6h0M875.0 163.1h0M875.7 151.2h0M875.3 151.2h0M874.9 169.7h0M875.7 159.5h0M875.0 153.9h0M875.6 168.4h0M876.9 159.1h0M876.6 162.6h0M875.7 167.3h0M876.8 164.5h0M874.9 163.8h0M876.3 153.1h0M876.9 152.2h0M875.9 154.9h0M875.0 151.4h0M875.0 153.7h0M877.0 155.1h0M875.5 166.6h0M874.9 164.1h0M875.5 172.6h0M874.9 154.2h0M875.8 161.5h0M875.8 150.2h0M876.8 155.2h0M875.9 169.1h0M876.7 169.9h0M875.4 167.5h0M875.8 150.3h0M875.8 161.1h0M875.8 167.9h0M876.6 164.9h0M874.8 152.6h0M877.2 161.8h0M877.0 152.4h0M875.0 164.3h0M875.0 151.2h0M876.0 169.6h0M877.0 155.7h0M876.6 159.3h0M876.0 162.5h0M875.1 150.7h0M875.5 159.0h0M875.8 161.8h0M877.0 153.8h0M876.2 156.4h0M875.2 161.8h0M876.4 161.9h0M876.6 164.3h0M875.9 167.8h0M876.2 152.6h0M878.7 81.1h0M878.7 86.7h0M878.3 83.9h0M877.9 85.2h0M878.4 83.2h0M878.8 86.6h0M877.7 85.7h0M879.0 85.3h0M877.7 86.0h0M878.9 99.2h0M878.8 100.4h0M879.0 100.0h0M878.5 97.5h0M878.4 101.3h0M878.4 90.5h0M879.2 98.8h0M878.7 97.6h0M878.2 87.5h0M878.8 94.1h0M878.6 90.6h0M879.8 99.9h0M877.9 88.3h0M879.9 100.0h0M879.2 89.7h0M878.8 95.5h0M878.8 88.2h0M878.5 94.1h0M882.7 91.1h0M882.8 99.5h0M884.3 101.2h0M882.8 95.8h0M883.6 99.4h0M883.9 96.1h0M882.5 88.9h0M884.2 101.3h0M883.3 93.2h0M884.4 101.2h0M882.8 101.6h0M883.7 98.4h0M883.5 102.7h0M883.4 91.0h0M882.9 92.2h0M882.8 101.4h0M882.6 91.2h0M882.1 90.2h0M882.3 97.6h0M886.2 80.8h0M887.0 84.2h0M887.0 81.9h0M887.4 83.9h0M887.3 80.9h0M887.4 86.5h0M887.1 79.3h0M886.8 83.0h0M886.9 86.4h0M886.5 85.2h0M886.9 83.0h0M887.4 85.1h0M888.5 97.3h0M887.1 91.5h0M887.0 91.7h0M886.9 93.0h0M887.8 92.7h0M887.4 97.4h0M888.1 95.9h0M887.1 93.3h0M886.7 91.1h0M887.9 95.4h0M888.1 94.0h0M887.5 89.8h0M888.3 97.5h0M886.6 89.9h0M888.1 98.1h0M888.4 104.1h0M888.0 100.8h0M887.6 100.5h0M888.4 105.5h0M887.9 104.3h0M888.2 101.4h0M888.6 102.3h0M888.1 107.5h0M887.7 107.2h0M887.4 100.9h0M887.9 108.3h0M887.4 103.5h0M887.4 109.2h0M888.3 99.7h0M888.3 178.0h0M888.5 173.4h0M890.2 172.8h0M888.6 154.4h0M890.1 167.3h0M888.8 179.4h0M889.4 181.3h0M888.6 175.7h0M889.3 161.3h0M890.2 160.4h0M888.5 150.2h0M890.2 171.0h0M890.3 162.7h0M890.0 167.2h0M889.7 176.7h0M889.6 171.0h0M888.4 157.2h0M889.1 173.2h0M888.3 169.1h0M889.1 172.3h0M889.2 155.8h0M889.8 172.3h0M889.0 179.6h0M889.3 152.5h0M889.7 173.3h0M889.5 179.8h0M888.5 174.0h0M888.6 172.7h0M889.6 174.4h0M890.1 170.0h0M890.5 157.8h0M889.9 176.8h0M888.2 159.7h0M888.9 169.9h0M890.3 164.8h0M889.0 179.7h0M889.7 158.6h0M890.5 177.5h0M888.9 173.6h0M888.5 170.3h0M888.3 168.2h0M889.3 170.2h0M889.9 168.1h0M888.6 154.7h0M890.4 155.9h0M888.8 158.8h0M890.5 177.4h0M888.9 165.6h0M889.9 171.8h0M889.8 160.8h0M888.3 163.6h0M889.6 169.3h0M889.4 169.0h0M890.3 171.8h0M888.4 153.3h0M888.4 171.8h0M889.4 159.2h0M889.4 170.1h0M889.9 169.3h0M890.0 169.1h0M888.4 161.2h0M890.2 168.6h0M889.7 167.0h0M888.5 172.7h0M889.7 179.0h0M890.2 166.9h0M889.2 178.7h0M890.4 176.9h0M888.8 158.0h0M888.9 175.8h0M889.3 174.0h0M890.4 170.5h0M890.4 165.0h0M890.4 162.9h0M889.8 175.7h0M889.6 177.4h0M888.9 166.2h0M892.0 174.7h0M893.0 158.2h0M893.7 174.6h0M892.9 165.1h0M893.4 151.5h0M892.7 169.3h0M892.5 167.8h0M892.7 179.3h0M893.3 160.6h0M892.3 178.2h0M893.6 180.5h0M891.9 163.2h0M894.2 173.9h0M892.7 172.6h0M892.5 158.9h0M893.0 164.7h0M892.3 159.4h0M893.8 156.1h0M892.9 175.0h0M892.4 161.4h0M894.0 174.6h0M894.2 171.0h0M892.1 159.2h0M891.8 156.5h0M892.7 152.6h0M893.5 160.1h0M893.9 179.0h0M892.5 158.0h0M892.4 162.5h0M893.2 169.8h0M892.8 176.7h0M892.2 162.3h0M892.3 157.9h0M892.5 178.1h0M894.3 178.0h0M893.4 151.4h0M893.2 179.0h0M891.8 159.5h0M893.7 176.3h0M892.8 161.5h0M892.5 175.0h0M893.8 178.8h0M893.9 161.5h0M893.8 150.2h0M893.5 150.4h0M893.1 179.0h0M893.0 163.5h0M892.7 152.8h0M892.1 169.2h0M891.6 152.8h0M892.0 153.8h0M892.5 165.6h0M894.3 178.6h0M892.1 169.3h0M892.9 157.0h0M892.6 174.4h0M893.3 158.6h0M892.3 176.4h0M891.9 170.5h0M893.7 159.8h0M893.1 170.5h0M891.7 159.7h0M893.7 158.2h0M892.3 160.6h0M893.2 155.0h0M893.8 165.9h0M893.3 170.6h0M893.7 150.6h0M893.4 180.7h0M894.1 168.9h0M892.8 180.4h0M892.1 166.5h0M892.4 159.5h0M894.0 172.6h0M893.0 150.4h0M893.7 153.8h0M892.2 174.7h0M896.8 201.6h0M899.5 203.9h0M897.0 196.7h0M898.7 199.1h0M898.3 202.8h0M897.6 194.0h0M899.2 198.8h0M899.3 196.6h0M898.1 194.2h0M894.8 200.9h0M896.4 199.3h0M899.5 198.1h0M897.8 196.8h0M899.1 203.5h0M895.8 200.4h0M893.6 194.2h0M896.5 202.8h0M895.7 204.4h0M897.7 199.6h0M899.5 201.4h0M900.5 204.2h0M899.6 202.8h0M899.3 203.1h0M894.4 198.7h0M896.0 193.7h0M899.3 197.5h0M895.2 198.7h0M898.7 200.8h0M893.9 198.8h0M896.2 204.9h0M894.6 200.7h0M899.3 201.1h0M896.2 194.4h0M898.0 197.9h0M896.8 201.7h0M896.6 204.6h0M894.9 198.3h0M895.8 193.6h0M898.2 204.2h0M895.3 195.4h0M894.4 199.8h0M897.1 204.3h0M899.7 204.6h0M895.6 193.2h0M893.8 193.9h0M894.7 200.9h0M897.4 194.5h0M897.7 195.3h0M901.9 214.8h0M902.4 212.6h0M896.7 211.8h0M901.5 211.3h0M898.7 213.7h0M896.9 206.2h0M896.2 209.8h0M900.6 210.3h0M899.6 207.6h0M899.3 206.2h0M900.4 214.5h0M899.8 207.0h0M896.4 212.3h0M896.7 210.2h0M900.1 207.0h0M896.7 210.6h0M900.7 208.6h0M896.5 204.6h0M900.8 212.5h0M900.7 209.5h0M896.7 206.1h0M898.9 204.9h0M899.1 210.8h0M901.4 211.0h0M900.4 213.8h0M900.0 206.8h0M902.1 214.7h0M899.8 214.7h0M899.6 211.4h0M900.1 212.0h0M900.6 204.9h0M900.2 210.8h0M899.0 208.6h0M899.8 209.9h0M899.2 208.1h0M901.3 211.9h0M896.9 207.0h0M896.6 210.2h0M901.5 207.4h0M902.4 213.4h0M902.1 223.5h0M901.0 218.3h0M905.4 225.8h0M902.2 221.8h0M899.4 220.6h0M898.9 220.1h0M898.2 220.8h0M904.0 228.3h0M900.5 215.9h0M898.2 219.0h0M900.6 225.2h0M903.0 215.9h0M903.6 219.0h0M901.9 221.7h0M904.0 222.0h0M900.9 217.7h0M905.2 226.6h0M901.5 221.8h0M903.1 219.1h0M900.1 224.0h0M904.0 222.7h0M902.7 226.2h0M901.3 218.3h0M901.8 222.7h0M900.7 220.8h0M902.2 227.3h0M900.5 225.0h0M903.4 222.8h0M898.8 213.9h0M903.1 224.5h0M904.9 225.4h0M902.7 227.3h0M898.0 216.2h0M901.5 216.0h0M902.8 224.8h0M900.9 219.6h0M902.1 219.2h0M902.0 225.3h0M902.6 217.9h0M900.6 223.4h0M903.1 216.4h0M901.9 217.1h0M901.4 218.8h0M903.4 223.9h0M897.6 217.9h0M904.6 223.5h0M903.0 222.2h0M902.4 220.3h0M898.7 221.7h0M902.7 221.1h0M903.8 225.9h0M902.0 223.6h0M903.3 218.9h0M900.4 228.4h0M904.6 227.6h0M904.9 232.6h0M905.7 238.5h0M906.6 232.0h0M904.7 236.5h0M906.4 231.2h0M905.3 237.8h0M905.1 234.7h0M905.3 228.0h0M907.6 241.4h0M903.6 229.6h0M904.1 230.7h0M908.0 239.5h0M903.8 229.8h0M906.3 237.7h0M905.8 242.0h0M905.6 235.2h0M906.6 236.8h0M905.1 235.0h0M905.4 231.7h0M905.1 234.6h0M903.1 231.7h0M906.2 236.3h0M903.8 238.3h0M904.5 236.8h0M905.9 238.7h0M904.5 230.3h0M902.8 240.5h0M905.2 227.2h0M901.4 230.1h0M902.5 237.5h0M905.0 231.4h0M906.5 240.3h0M903.7 239.1h0M904.9 231.9h0M903.8 237.9h0M903.5 238.4h0M906.4 237.5h0M906.8 231.4h0M902.8 236.0h0M903.1 232.1h0M905.3 238.6h0M904.6 237.9h0M902.8 237.2h0M904.1 234.9h0M902.7 236.3h0M903.9 240.0h0M905.8 240.3h0M903.3 238.3h0M904.1 235.9h0M901.7 231.5h0M911.9 196.6h0M915.2 193.4h0M913.0 195.2h0M912.5 200.8h0M912.6 196.1h0M915.0 199.5h0M914.6 197.5h0M913.4 202.9h0M913.4 201.3h0M915.3 198.7h0M913.9 195.4h0M912.9 194.6h0M911.4 194.3h0M915.1 196.1h0M913.1 204.1h0M914.3 197.7h0M913.0 193.0h0M911.5 197.9h0M912.9 202.2h0M914.2 194.1h0M913.4 203.5h0M913.4 198.5h0M911.7 203.4h0M911.5 205.4h0M911.7 201.4h0M915.1 201.1h0M915.5 192.8h0M912.8 203.6h0M911.5 199.1h0M914.2 197.4h0M914.2 196.1h0M915.0 202.0h0M914.9 202.2h0M913.9 194.1h0M911.4 196.2h0M913.0 195.0h0M913.6 192.9h0M913.0 200.9h0M914.1 194.3h0M910.0 211.5h0M911.6 213.4h0M912.1 215.5h0M913.2 212.9h0M914.1 209.9h0M911.2 207.7h0M909.5 214.2h0M913.4 208.0h0M910.9 212.0h0M914.8 207.0h0M912.0 210.1h0M911.5 211.3h0M913.0 208.9h0M913.2 206.5h0M909.7 212.1h0M910.0 213.4h0M911.9 215.6h0M913.4 212.9h0M911.2 204.2h0M913.5 213.1h0M914.6 207.7h0M911.7 205.1h0M913.0 211.8h0M910.7 215.0h0M910.9 213.0h0M913.9 207.4h0M910.9 207.8h0M911.5 211.6h0M909.7 215.1h0M914.4 204.8h0M908.8 219.8h0M907.6 225.4h0M908.5 226.6h0M907.3 224.6h0M911.5 216.2h0M909.4 224.0h0M907.7 227.3h0M908.7 225.4h0M907.9 229.2h0M910.7 219.0h0M907.3 226.6h0M911.2 214.3h0M909.3 222.9h0M908.8 227.2h0M908.5 226.4h0M912.2 215.7h0M908.9 217.6h0M910.5 222.3h0M906.2 227.1h0M909.6 215.5h0M907.4 226.8h0M909.6 218.7h0M908.9 218.2h0M908.7 227.8h0M910.1 216.4h0M906.7 225.1h0M909.9 215.0h0M910.1 224.3h0M909.8 223.0h0M910.4 221.7h0M911.8 216.3h0M907.5 222.8h0M910.9 222.0h0M907.9 225.3h0M910.1 217.4h0M909.1 223.3h0M911.0 218.0h0M908.2 221.3h0M908.1 223.2h0M908.5 221.1h0M905.4 236.1h0M907.5 237.6h0M907.3 237.3h0M904.8 236.8h0M905.9 238.5h0M904.8 234.9h0M906.8 234.0h0M904.8 240.1h0M907.7 229.6h0M905.6 230.9h0M905.9 234.3h0M907.4 231.7h0M906.3 230.0h0M906.0 231.8h0M906.7 230.2h0M906.2 237.9h0M906.9 235.9h0M905.9 230.5h0M906.4 238.9h0M905.6 239.7h0M908.4 231.7h0M907.4 237.4h0M906.5 234.2h0M905.9 238.7h0M909.7 228.4h0M907.2 236.4h0M904.4 238.1h0M907.4 231.0h0M906.7 241.0h0M906.7 239.3h0M907.9 232.7h0M906.3 235.0h0M907.2 232.9h0M904.7 238.8h0M904.5 238.6h0M907.4 232.7h0M912.4 222.6h0M914.4 222.0h0M913.3 232.2h0M914.5 221.6h0M913.6 221.2h0M913.7 229.9h0M910.5 230.6h0M913.6 220.3h0M911.7 224.7h0M914.5 222.0h0M914.5 228.3h0M913.5 229.9h0M914.9 222.4h0M911.8 229.1h0M911.5 228.5h0M913.9 228.4h0M914.0 226.4h0M911.0 229.5h0M914.4 229.1h0M910.5 234.7h0M912.5 227.5h0M911.0 230.6h0M912.6 225.5h0M911.0 227.2h0M911.7 231.2h0M911.1 230.3h0M912.5 227.8h0M912.4 227.4h0M911.8 228.1h0M914.1 226.2h0M913.9 228.4h0M911.6 224.2h0M911.9 226.0h0M912.8 232.4h0M913.3 222.2h0M914.4 226.9h0M914.8 227.3h0M912.8 222.9h0M912.2 227.6h0M913.4 231.1h0M914.3 221.6h0M913.4 233.2h0M918.7 228.1h0M919.3 229.4h0M918.0 229.5h0M917.9 231.1h0M917.9 232.0h0M917.2 229.3h0M916.8 233.7h0M916.5 234.0h0M915.8 233.6h0M917.7 232.9h0M915.6 234.6h0M918.2 233.1h0M915.4 235.7h0M916.7 230.2h0M916.1 233.0h0M916.0 229.9h0M917.2 232.7h0M916.8 228.1h0M919.4 226.6h0M918.6 225.5h0M920.7 222.8h0M919.8 226.4h0M917.4 226.3h0M919.8 225.5h0M919.4 224.2h0M919.4 225.7h0M919.0 226.7h0M919.3 228.8h0M921.5 221.5h0M921.4 222.7h0M919.2 225.1h0M918.7 223.1h0M919.4 225.4h0M922.4 219.4h0M922.0 218.2h0M921.9 217.6h0M923.8 214.4h0M920.7 219.5h0M921.4 219.8h0M923.3 217.3h0M921.6 219.8h0M921.3 215.8h0M923.2 213.7h0M921.4 223.0h0M922.4 222.1h0M920.8 217.7h0M923.9 214.2h0M923.2 217.7h0M921.2 217.6h0M922.2 221.4h0M920.4 222.3h0M924.3 215.3h0M923.8 213.5h0M922.3 208.1h0M922.9 208.5h0M922.1 208.6h0M922.6 206.6h0M923.4 212.6h0M923.0 211.0h0M921.9 206.5h0M922.5 208.7h0M922.5 211.7h0M922.0 205.2h0M921.8 209.3h0M922.7 212.8h0M924.2 209.9h0M922.4 209.8h0M921.7 209.5h0M922.7 206.6h0M921.9 213.1h0M921.9 210.2h0M924.3 200.7h0M923.3 201.0h0M923.5 200.8h0M924.6 200.5h0M921.8 204.5h0M924.0 202.6h0M924.6 202.6h0M923.8 202.1h0M923.3 204.6h0M923.4 204.7h0M923.1 205.4h0M921.7 206.8h0M923.5 200.5h0M925.8 198.1h0M923.3 199.4h0M925.4 201.7h0M923.5 197.0h0M923.3 201.4h0M924.9 198.2h0M925.2 200.7h0M924.8 196.8h0M924.8 199.7h0M926.0 196.3h0M925.5 194.9h0M924.7 199.3h0M924.4 195.0h0M926.0 195.3h0M926.3 190.2h0M925.9 191.9h0M926.6 192.9h0M924.4 192.9h0M924.9 194.6h0M926.2 190.5h0M926.6 191.3h0M925.8 190.7h0M925.2 192.5h0M926.3 192.1h0M925.2 190.2h0M927.1 183.9h0M925.8 183.8h0M926.3 190.1h0M925.2 189.1h0M926.1 184.6h0M925.9 188.8h0M927.4 186.2h0M926.9 185.8h0M927.6 183.2h0M927.5 183.4h0M925.8 190.4h0M925.3 187.5h0M925.7 189.1h0M925.2 188.1h0M926.1 174.0h0M926.9 180.9h0M927.3 176.1h0M928.1 179.6h0M927.5 183.7h0M926.2 181.1h0M926.8 182.6h0M927.1 174.2h0M926.7 180.2h0M926.8 184.1h0M926.5 180.6h0M925.7 181.7h0M927.4 181.8h0M925.7 178.3h0M926.5 176.7h0M928.2 175.6h0M928.2 173.7h0M925.5 182.9h0M927.3 174.3h0M928.0 177.9h0M925.7 179.1h0M925.6 178.1h0M927.0 176.6h0M926.3 182.2h0M929.6 167.5h0M929.4 167.1h0M931.7 165.1h0M929.4 170.3h0M930.9 161.8h0M932.1 170.0h0M930.1 167.3h0M931.5 168.2h0M932.9 161.9h0M931.2 164.7h0M930.7 162.7h0M931.9 170.9h0M929.6 167.7h0M930.9 165.4h0M931.1 164.4h0M932.9 162.4h0M929.2 164.1h0M931.9 168.2h0M928.3 166.0h0M930.6 161.2h0M929.0 161.2h0M930.4 169.1h0M928.2 165.2h0M929.7 169.0h0M927.8 168.1h0M931.2 165.8h0M932.9 162.5h0M928.2 168.1h0M932.3 163.3h0M929.6 163.3h0M928.8 161.3h0M928.2 163.3h0M932.6 159.8h0M933.2 161.4h0M931.1 163.8h0M931.3 161.4h0M932.3 150.7h0M930.7 151.2h0M932.2 152.9h0M932.0 155.1h0M932.3 152.1h0M933.4 151.6h0M931.2 151.4h0M929.4 160.0h0M933.5 155.6h0M933.4 153.8h0M931.5 150.7h0M931.6 152.4h0M932.8 151.0h0M933.2 156.9h0M930.7 159.0h0M931.5 150.3h0M931.3 151.6h0M931.6 153.6h0M933.5 154.0h0M929.8 153.6h0M930.6 159.5h0M931.9 157.7h0M932.9 156.5h0M934.5 152.8h0M933.5 157.4h0M933.7 155.7h0M932.5 153.7h0M931.4 156.0h0M931.6 155.3h0M930.9 151.6h0M931.4 151.3h0M933.7 154.8h0M930.9 154.6h0M932.4 158.0h0M936.6 143.4h0M932.0 149.8h0M933.6 144.7h0M932.2 144.2h0M934.4 146.7h0M932.1 150.2h0M936.6 143.6h0M932.0 145.0h0M934.6 143.0h0M932.0 146.9h0M931.2 148.3h0M931.8 144.2h0M934.6 150.1h0M934.8 142.8h0M934.2 145.5h0M931.8 149.5h0M933.4 146.5h0M934.7 148.4h0M930.8 147.7h0M932.2 148.2h0M932.4 145.6h0M931.7 148.5h0M931.3 147.6h0M932.2 150.7h0M934.6 145.2h0M935.4 145.2h0M934.1 146.6h0M935.1 150.3h0M935.1 134.2h0M933.7 134.3h0M934.3 135.6h0M935.2 135.0h0M933.9 131.7h0M934.8 139.2h0M934.6 129.4h0M934.2 129.7h0M933.5 137.7h0M935.4 132.5h0M935.2 129.3h0M935.1 128.6h0M933.5 135.8h0M934.6 129.2h0M933.9 133.4h0M935.4 132.8h0M935.2 132.4h0M935.0 135.4h0M934.2 138.3h0M934.7 132.1h0M934.9 139.7h0M934.7 135.7h0M934.0 131.9h0M934.8 131.8h0M933.6 136.2h0M934.9 129.3h0M935.6 117.4h0M934.8 125.8h0M935.9 124.0h0M935.7 118.4h0M934.6 123.6h0M934.5 125.3h0M935.9 125.9h0M935.1 123.4h0M935.1 122.1h0M935.9 126.0h0M936.2 123.4h0M935.5 118.6h0M935.3 118.9h0M935.6 118.5h0M935.3 123.0h0M935.6 125.8h0M934.6 123.3h0M934.9 126.9h0M935.7 121.0h0M936.4 121.5h0M935.4 118.8h0M936.1 119.4h0M936.0 111.8h0M935.6 113.4h0M936.7 109.2h0M935.8 116.9h0M936.5 117.7h0M936.4 111.0h0M936.8 116.8h0M936.4 117.2h0M937.0 110.7h0M936.1 113.0h0M936.4 118.0h0M936.4 110.7h0M936.6 116.4h0M937.0 115.8h0M936.9 114.7h0M936.5 114.2h0M935.8 111.3h0M935.5 116.1h0M937.3 110.8h0M936.7 110.8h0M937.2 108.7h0M936.0 109.7h0M936.5 105.4h0M936.7 105.7h0M936.7 99.8h0M937.1 106.6h0M937.6 106.5h0M936.5 108.1h0M937.7 98.6h0M936.0 104.5h0M937.4 100.4h0M936.5 105.1h0M936.7 103.7h0M936.1 104.9h0M936.0 107.8h0M937.1 100.5h0M936.5 102.8h0M937.0 103.4h0M937.3 102.2h0M936.7 107.6h0M937.5 98.6h0M936.9 100.2h0M936.5 106.9h0M936.0 105.3h0M936.9 92.9h0M936.3 94.1h0M937.5 89.7h0M937.3 88.1h0M937.4 95.8h0M937.6 91.5h0M937.1 96.9h0M936.3 90.1h0M937.5 89.2h0M937.2 97.7h0M937.9 96.6h0M936.7 91.1h0M937.2 97.1h0M937.0 89.4h0M936.1 96.8h0M936.8 97.1h0M937.8 91.2h0M936.9 95.9h0M937.8 90.2h0M825.4 329.0h0M850.0 232.0h0M850.0 239.0h0M850.6 244.0h0M857.0 189.0h0M857.0 198.0h0M857.0 203.0h0M857.0 209.0h0M857.0 217.0h0M857.0 221.0h0M866.2 107.8h0M866.2 111.0h0M866.3 116.4h0M866.6 119.6h0M866.8 123.0h0M866.8 126.7h0M866.8 130.5h0M867.3 132.2h0M866.5 126.0h0M867.0 130.0h0M878.4 108.0h0M878.4 112.0h0M878.4 114.3h0M877.6 122.0h0M877.1 126.2h0M877.1 129.4h0M876.5 133.2h0M876.5 137.5h0M876.3 131.5h0M881.4 39.4h0M881.4 47.3h0M882.5 52.2h0M882.5 56.5h0M881.4 60.3h0M883.0 64.0h0M880.3 68.0h0M881.4 71.7h0M879.3 75.5h0M886.3 78.8h0M878.7 82.0h0M881.4 87.4h0M886.3 88.5h0M878.7 91.2h0M886.8 92.8h0M882.0 50.0h0M882.0 54.0h0M881.8 58.0h0M882.0 62.0h0M881.5 66.0h0M881.0 70.0h0M880.5 73.5h0M882.5 76.0h0M881.0 79.0h0M883.0 83.0h0M894.0 193.0h0M895.0 199.0h0M896.0 205.0h0M895.0 213.0h0M895.7 220.0h0M895.2 228.5h0M913.6 192.7h0M913.0 200.0h0M913.6 204.0h0M911.4 211.7h0M914.7 165.2h0M914.7 170.0h0M914.7 174.5h0M914.0 181.0h0M914.7 184.2h0M914.7 188.5h0M916.3 243.0h0M916.3 251.0h0M905.5 243.0h0M360.6 395.4h0M374.0 439.6h0M379.0 438.0h0M473.6 464.0h0M473.6 472.0h0M586.4 353.4h0M616.0 327.0h0M605.0 260.0h0M604.0 263.0h0M604.4 268.4h0M611.6 263.0h0M612.0 269.0h0M613.4 277.4h0M718.0 354.6h0M718.4 359.6h0M323.7 336.0h0M323.7 343.0h0M316.0 341.0h0M316.6 291.0h0M317.4 293.0h0M317.0 296.0h0M330.8 292.0h0M331.2 295.0h0M330.6 298.0h0M324.4 294.5h0M750.0 262.0h0M749.6 265.5h0M750.5 269.0h0M749.2 272.0h0M751.0 275.0h0M566.0 314.0h0M718.0 363.6h0M718.4 368.4h0" stroke="#000" stroke-width="5.5" stroke-linecap="round" fill="none"/><path d="M121.2 477.6L121.7 476.1L122.2 475.8L122.7 475.1L123.2 474.3L123.7 473.6L124.2 473.4L124.7 472.9L125.2 472.5L125.7 473.7L126.2 474.3L126.7 473.9L127.2 474.0L127.7 473.6L128.2 473.4L128.7 474.4L129.2 474.4L129.7 473.1L130.2 470.9L130.7 470.3L131.2 469.0L131.7 468.3L132.2 467.8L132.7 467.5L133.2 465.4L133.7 464.0L134.2 463.1L134.7 463.0L135.2 462.2L135.7 461.9L136.2 460.2L136.7 458.6L137.2 458.6L137.7 460.6L138.2 462.1L138.7 462.2L139.2 463.6L139.7 464.4L140.2 463.6L140.7 463.7L141.2 463.5L141.7 461.8L142.2 460.8L142.7 462.5L143.2 463.8L143.7 464.1L144.2 466.9L144.7 467.8L145.2 467.6L145.7 469.3L146.2 469.9L146.7 468.2L147.2 467.8L147.7 467.4L148.2 465.6L148.7 463.9L149.2 463.5L149.7 464.1L150.2 463.8L150.7 462.7L151.2 462.7L151.7 461.4L152.2 460.9L152.7 461.2L153.2 461.3L153.7 460.0L154.2 459.5L154.7 459.0L155.2 457.2L155.7 457.0L156.2 458.0L156.7 457.1L157.2 456.6L157.7 457.0L158.2 457.9L158.7 457.7L159.2 458.0L159.7 458.5L160.2 457.5L160.7 456.5L161.2 455.9L161.7 455.8L162.2 454.9L162.7 454.2L163.2 453.4L163.7 451.5L164.2 451.0L164.7 451.0L165.2 450.7L165.7 448.9L166.2 447.7L166.7 446.9L167.2 445.2L167.7 445.2L168.2 444.9L168.7 444.8L169.2 444.6L169.7 446.6L170.2 447.5L170.7 448.5L171.2 450.2L171.7 450.0L172.2 448.9L172.7 448.7L173.2 448.3L173.7 448.3L174.2 448.8L174.7 450.7L175.2 451.7L175.7 452.3L176.2 454.3L176.7 456.8L177.2 457.3L177.7 457.4L178.2 457.9L178.7 457.6L179.2 457.9L179.7 458.7L180.2 460.0L180.7 458.7L181.2 457.7L181.7 457.5L182.2 457.3L182.7 456.4L183.2 457.3L183.7 457.9L184.2 456.2L184.7 457.0L185.2 457.1L185.7 458.1L186.2 457.7L186.7 458.7L187.2 458.2L187.7 457.2L188.2 459.0L188.7 460.4L189.2 460.1L189.7 460.1L190.2 460.6L190.7 460.3L191.2 461.0L191.7 461.9L192.2 462.6L192.7 460.9L193.2 459.9L193.7 459.4L194.2 459.3L194.7 458.4L195.2 459.0L195.7 457.9L196.2 455.9L196.7 455.5L197.2 455.5L197.7 454.9L198.2 454.4L198.7 454.1L199.2 452.4L199.7 451.2L200.2 452.9L200.7 454.2L201.2 455.1L201.7 456.7L202.2 458.4L202.7 458.2L203.2 459.5L203.7 461.0L204.2 461.4L204.7 461.8L205.2 461.9L205.7 462.6L206.2 462.7L206.7 464.5L207.2 466.1L207.7 466.7L208.2 466.4L208.7 467.7L209.2 469.5L209.7 469.0L210.2 469.7L210.7 470.1L211.2 469.1L211.7 468.7L212.2 470.0L212.7 470.3L213.2 469.9L213.7 469.5L214.2 469.3L214.7 467.8L215.2 467.4L215.7 467.8L216.2 467.3L216.7 467.6L217.2 468.1L217.7 468.0L218.2 468.3L218.7 469.4L219.2 470.5L219.7 470.2L220.2 469.4L220.7 470.9L221.2 470.8L221.7 471.9L222.2 472.9L222.7 473.5L223.2 473.2L223.7 473.4L224.2 473.4L224.7 472.3L225.2 471.6L225.7 470.2L226.2 469.1L226.7 467.3L227.2 466.0L227.7 465.7L228.2 465.1L228.7 463.6L229.2 462.8L229.7 461.7L230.2 460.3L230.7 460.1L231.2 460.2L231.7 459.1L232.2 459.1L232.7 460.8L233.2 461.3L233.7 462.2L234.2 463.3L234.7 463.9L235.2 463.0L235.7 462.9L236.2 463.9L236.7 463.4L237.2 463.5L237.7 463.7L238.2 463.9L238.7 463.1L239.2 465.5L239.7 467.1L240.2 467.6L240.7 467.9L241.2 468.6L241.7 467.7L242.2 466.6L242.7 467.0L243.2 466.4L243.7 465.1L244.2 463.8L244.7 462.7L245.2 462.6L245.7 462.7L246.2 463.2L246.7 463.7L247.2 463.4L247.7 463.5L248.2 463.6L248.7 463.0L249.2 463.2L249.7 462.5L250.2 461.0L250.7 459.9L251.2 460.2L251.7 460.4L252.2 459.3L252.7 458.5L253.2 457.4L253.7 456.3L254.2 455.2L254.7 456.0L255.2 454.4L255.7 453.0L256.2 452.1L256.7 451.0L257.2 450.7L257.7 450.2L258.2 449.3L258.7 447.9L259.2 446.0L259.7 444.6L260.2 444.8L260.7 443.6L261.2 443.1L261.7 442.0L262.2 440.4L262.7 439.3L263.2 439.9L263.7 439.1L264.2 438.3L264.7 439.6L265.2 439.4L265.7 439.4L266.2 440.1L266.7 442.8L267.2 442.2L267.7 440.2L268.2 439.0L268.7 437.6L269.2 437.0L269.7 438.7L270.2 440.2L270.7 440.3L271.2 441.2L271.7 442.4L272.2 442.8L272.7 442.1L273.2 442.2L273.7 442.2L274.2 440.3L274.7 439.7L275.2 439.6L275.7 437.9L276.2 436.5L276.7 435.5L277.2 433.1L277.7 431.0L278.2 430.2L278.7 429.7L279.2 427.3L279.7 425.9L280.2 424.7L280.7 423.7L281.2 421.8L281.7 421.9L282.2 421.3L282.7 418.4L283.2 416.8L283.7 416.6L284.2 415.5L284.7 414.3L285.2 414.4L285.7 413.5L286.2 410.7L286.7 410.1L287.2 409.2L287.7 407.3L288.2 404.6L288.7 402.8L289.2 400.6L289.7 397.3L290.2 396.7L290.7 395.4L291.2 392.2L291.7 389.9L292.2 388.3L292.7 385.0L293.2 382.9L293.7 381.6L294.2 380.5L294.7 379.4L295.2 378.6L295.7 378.0L296.2 377.3L296.7 377.3L297.2 377.3L297.7 375.2L298.2 373.0L298.7 372.3L299.2 371.4L299.7 369.9L300.2 369.6L300.7 370.4L301.2 370.4L301.7 371.3L302.2 372.0L302.7 371.0L303.2 368.7L303.7 368.1L304.2 366.2L304.7 364.6L305.2 364.5L305.7 364.1L306.2 362.1L306.7 359.4L307.2 358.5L307.7 357.3L308.2 356.1L308.7 355.8L309.2 354.3L309.7 351.6L310.2 349.2L310.7 348.7L311.2 347.6L311.7 345.6L312.2 344.9L312.7 342.9L313.2 341.3L313.7 340.3L314.2 340.3L314.7 339.0L315.2 337.8L315.7 336.7L316.2 335.3L316.7 333.8L317.2 333.1L317.7 333.0L318.2 331.8L318.7 329.1L319.2 327.7L319.7 326.1L320.2 323.4L320.7 322.8L321.2 321.6L321.7 318.9L322.2 316.4L322.7 315.7L323.2 313.7L323.7 311.3L324.2 310.0L324.7 308.3L325.2 305.3L325.7 303.1L326.2 303.9L326.7 303.5L327.2 303.5L327.7 303.1L328.2 302.6L328.7 301.9L329.2 304.2L329.7 305.0L330.2 305.6L330.7 305.3L331.2 306.6L331.7 306.6L332.2 308.4L332.7 311.8L333.2 313.1L333.7 314.7L334.2 316.3L334.7 318.5L335.2 320.4L335.7 322.1L336.2 324.3L336.7 325.0L337.2 325.5L337.7 327.7L338.2 329.6L338.7 330.2L339.2 331.5L339.7 332.9L340.2 332.5L340.7 333.6L341.2 335.5L341.7 336.9L342.2 337.5L342.7 337.5L343.2 338.9L343.7 338.4L344.2 339.7L344.7 341.1L345.2 341.3L345.7 341.3L346.2 342.1L346.7 344.1L347.2 345.2L347.7 346.6L348.2 348.8L348.7 349.3L349.2 350.2L349.7 351.8L350.2 353.5L350.7 353.1L351.2 354.4L351.7 354.2L352.2 353.5L352.7 354.4L353.2 356.2L353.7 355.9L354.2 355.7L354.7 355.9L355.2 355.9L355.7 356.1L356.2 356.4L356.7 357.6L357.2 358.2L357.7 358.8L358.2 361.3L358.7 362.9L359.2 364.5L359.7 366.8L360.2 369.8L360.7 369.4L361.2 370.5L361.7 372.5L362.2 374.2L362.7 375.3L363.2 381.4L363.7 381.8L364.2 382.2L364.7 384.2L365.2 386.7L365.7 388.7L366.2 389.7L366.7 390.8L367.2 391.7L367.7 392.6L368.2 395.0L368.7 395.4L369.2 396.7L369.7 396.6L370.2 398.6L370.7 398.9L371.2 400.0L371.7 401.0L372.2 401.8L372.7 402.0L373.2 402.2L373.7 403.2L374.2 403.7L374.7 404.0L375.2 405.5L375.7 405.7L376.2 405.8L376.7 407.9L377.2 410.2L377.7 411.8L378.2 413.1L378.7 415.3L379.2 416.6L379.7 417.3L380.2 419.3L380.7 420.3L381.2 419.7L381.7 419.7L382.2 420.5L382.7 420.4L383.2 421.4L383.7 422.5L384.2 422.5L384.7 421.2L385.2 421.0L385.7 421.4L386.2 421.4L386.7 421.4L387.2 421.9L387.7 420.9L388.2 420.2L388.7 422.8L389.2 424.5L389.7 425.7L390.2 427.1L390.7 428.0L391.2 429.3L391.7 430.6L392.2 432.8L392.7 433.8L393.2 433.8L393.7 434.3L394.2 435.5L394.7 435.9L395.2 437.8L395.7 440.3L396.2 442.2L396.7 443.2L397.2 445.4L397.7 447.7L398.2 449.4L398.7 449.9L399.2 451.6L399.7 451.3L400.2 451.5L400.7 453.2L401.2 454.1L401.7 454.6L402.2 455.8L402.7 456.4L403.2 456.3L403.7 456.9L404.2 459.5L404.7 460.4L405.2 460.2L405.7 460.3L406.2 459.9L406.7 460.6L407.2 461.2L407.7 461.5L408.2 461.8L408.7 460.8L409.2 461.5L409.7 462.1L410.2 462.9L410.7 463.3L411.2 463.8L411.7 463.3L412.2 463.3L412.7 464.0L413.2 463.9L413.7 462.3L414.2 461.8L414.7 460.7L415.2 458.9L415.7 458.3L416.2 458.6L416.7 456.8L417.2 455.5L417.7 455.0L418.2 453.9L418.7 452.9L419.2 452.8L419.7 452.3L420.2 451.5L420.7 451.8L421.2 453.2L421.7 455.0L422.2 456.0L422.7 458.1L423.2 457.8L423.7 456.5L424.2 456.0L424.7 456.3L425.2 455.3L425.7 455.4L426.2 456.3L426.7 456.8L427.2 457.1L427.7 459.4L428.2 461.8L428.7 461.6L429.2 463.0L429.7 463.4L430.2 463.1L430.7 463.5L431.2 464.6L431.7 464.8L432.2 463.7L432.7 463.1L433.2 462.6L433.7 462.0L434.2 462.1L434.7 462.7L435.2 461.2L435.7 460.0L436.2 460.2L436.7 461.1L437.2 460.3L437.7 460.8L438.2 460.0L438.7 458.7L439.2 457.5L439.7 458.0L440.2 458.0L440.7 456.1L441.2 455.9L441.7 456.6L442.2 456.0L442.7 456.2L443.2 458.5L443.7 458.6L444.2 457.6L444.7 456.5L445.2 456.4L445.7 455.0L446.2 455.2L446.7 454.5L447.2 453.0L447.7 451.8L448.2 451.2L448.7 451.1L449.2 450.0L449.7 449.2L450.2 448.7L450.7 446.6L451.2 445.9L451.7 445.6L452.2 445.8L452.7 447.1L453.2 448.7L453.7 449.5L454.2 449.4L454.7 451.1L455.2 453.0L455.7 451.7L456.2 450.2L456.7 450.2L457.2 449.7L457.7 448.6L458.2 449.7L458.7 452.6L459.2 454.5L459.7 455.7L460.2 457.7L460.7 457.8L461.2 457.6L461.7 457.6L462.2 457.5L462.7 455.7L463.2 455.6L463.7 456.2L464.2 456.6L464.7 455.6L465.2 455.2L465.7 454.5L466.2 453.5L466.7 454.1L467.2 453.9L467.7 453.2L468.2 452.4L468.7 453.0L469.2 451.7L469.7 450.8L470.2 451.5L470.7 451.7L471.2 449.8L471.7 449.8L472.2 451.2L472.7 451.3L473.2 451.9L473.7 452.6L474.2 453.2L474.7 452.5L475.2 452.4L475.7 452.3L476.2 450.5L476.7 450.4L477.2 449.5L477.7 448.1L478.2 446.8L478.7 446.5L479.2 445.9L479.7 445.2L480.2 443.8L480.7 443.3L481.2 442.0L481.7 441.5L482.2 441.2L482.7 441.5L483.2 440.2L483.7 441.5L484.2 443.3L484.7 443.8L485.2 444.8L485.7 446.8L486.2 446.4L486.7 444.8L487.2 444.7L487.7 443.9L488.2 443.6L488.7 442.3L489.2 442.9L489.7 442.9L490.2 443.5L490.7 445.7L491.2 446.9L491.7 447.3L492.2 447.2L492.7 447.1L493.2 446.4L493.7 446.2L494.2 446.5L494.7 445.3L495.2 443.4L495.7 443.5L496.2 442.6L496.7 441.8L497.2 441.7L497.7 441.7L498.2 440.0L498.7 438.8L499.2 438.5L499.7 438.5L500.2 438.3L500.7 437.0L501.2 435.9L501.7 434.1L502.2 433.2L502.7 432.7L503.2 432.4L503.7 432.1L504.2 431.9L504.7 431.5L505.2 431.2L505.7 431.1L506.2 432.1L506.7 431.2L507.2 430.7L507.7 429.0L508.2 428.5L508.7 427.5L509.2 427.8L509.7 427.2L510.2 425.5L510.7 423.3L511.2 423.7L511.7 422.1L512.2 420.6L512.7 420.1L513.2 417.9L513.7 415.1L514.2 414.6L514.7 413.9L515.2 413.1L515.7 412.9L516.2 412.9L516.7 412.6L517.2 411.4L517.7 411.8L518.2 412.3L518.7 410.7L519.2 409.3L519.7 409.2L520.2 407.8L520.7 406.6L521.2 408.3L521.7 409.0L522.2 409.1L522.7 409.9L523.2 411.6L523.7 412.4L524.2 413.1L524.7 412.2L525.2 410.5L525.7 408.4L526.2 407.3L526.7 407.4L527.2 405.9L527.7 404.9L528.2 403.4L528.7 402.3L529.2 400.3L529.7 399.7L530.2 398.7L530.7 397.2L531.2 395.8L531.7 394.5L532.2 393.2L532.7 392.6L533.2 393.2L533.7 391.7L534.2 390.2L534.7 389.8L535.2 390.0L535.7 388.0L536.2 387.7L536.7 387.1L537.2 385.7L537.7 383.4L538.2 383.3L538.7 383.0L539.2 381.4L539.7 380.6L540.2 379.4L540.7 376.4L541.2 374.9L541.7 374.7L542.2 373.3L542.7 370.9L543.2 368.9L543.7 367.9L544.2 366.4L544.7 365.6L545.2 365.0L545.7 362.8L546.2 361.7L546.7 361.9L547.2 362.2L547.7 362.4L548.2 364.0L548.7 364.1L549.2 363.6L549.7 362.9L550.2 363.8L550.7 362.5L551.2 361.2L551.7 361.2L552.2 359.3L552.7 356.8L553.2 356.7L553.7 358.4L554.2 359.0L554.7 358.5L555.2 358.7L555.7 359.4L556.2 358.9L556.7 358.6L557.2 358.6L557.7 356.4L558.2 354.8L558.7 353.4L559.2 352.9L559.7 352.1L560.2 351.3L560.7 349.9L561.2 347.4L561.7 346.4L562.2 345.1L562.7 344.1L563.2 342.9L563.7 342.1L564.2 340.0L564.7 338.0L565.2 337.4L565.7 338.1L566.2 337.3L566.7 336.3L567.2 336.4L567.7 335.7L568.2 334.5L568.7 335.3L569.2 335.7L569.7 333.9L570.2 333.1L570.7 331.5L571.2 330.4L571.7 329.5L572.2 328.8L572.7 326.3L573.2 324.0L573.7 322.4L574.2 321.5L574.7 320.2L575.2 317.9L575.7 317.4L576.2 314.7L576.7 312.7L577.2 311.5L577.7 310.3L578.2 309.4L578.7 309.8L579.2 310.0L579.7 309.7L580.2 309.7L580.7 310.7L581.2 311.4L581.7 309.2L582.2 307.6L582.7 306.4L583.2 305.0L583.7 303.7L584.2 303.8L584.7 303.9L585.2 303.9L585.7 303.9L586.2 305.6L586.7 305.5L587.2 305.5L587.7 305.1L588.2 302.4L588.7 300.2L589.2 300.1L589.7 299.6L590.2 298.5L590.7 298.3L591.2 298.5L591.7 297.9L592.2 297.9L592.7 299.4L593.2 299.3L593.7 298.6L594.2 298.6L594.7 298.3L595.2 297.6L595.7 297.7L596.2 298.1L596.7 297.4L597.2 296.0L597.7 296.3L598.2 296.6L598.7 297.1L599.2 299.0L599.7 298.9L600.2 299.0L600.7 299.2L601.2 301.5L601.7 302.4L602.2 301.2L602.7 300.9L603.2 300.1L603.7 298.4L604.2 298.1L604.7 298.0L605.2 296.9L605.7 295.6L606.2 294.7L606.7 294.1L607.2 292.1L607.7 293.3L608.2 292.6L608.7 291.6L609.2 290.9L609.7 292.5L610.2 294.2L610.7 295.2L611.2 297.3L611.7 298.2L612.2 298.2L612.7 298.1L613.2 298.7L613.7 298.0L614.2 298.0L614.7 297.7L615.2 297.7L615.7 299.3L616.2 302.4L616.7 305.0L617.2 306.7L617.7 308.6L618.2 310.6L618.7 311.0L619.2 312.8L619.7 314.7L620.2 316.4L620.7 316.3L621.2 317.7L621.7 319.3L622.2 320.1L622.7 322.4L623.2 323.9L623.7 325.1L624.2 325.0L624.7 326.1L625.2 328.1L625.7 329.5L626.2 330.8L626.7 332.3L627.2 332.6L627.7 332.8L628.2 335.5L628.7 336.7L629.2 338.2L629.7 339.1L630.2 340.4L630.7 341.4L631.2 343.3L631.7 345.4L632.2 346.7L632.7 347.5L633.2 348.7L633.7 350.7L634.2 352.5L634.7 353.3L635.2 355.5L635.7 355.1L636.2 355.7L636.7 357.1L637.2 358.5L637.7 359.6L638.2 361.3L638.7 361.9L639.2 361.9L639.7 362.3L640.2 364.8L640.7 365.8L641.2 367.0L641.7 368.5L642.2 370.5L642.7 370.3L643.2 373.0L643.7 376.0L644.2 375.8L644.7 373.7L645.2 372.8L645.7 371.1L646.2 371.1L646.7 373.9L647.2 375.4L647.7 375.1L648.2 375.9L648.7 378.0L649.2 379.0L649.7 377.6L650.2 377.4L650.7 376.8L651.2 374.9L651.7 373.8L652.2 373.8L652.7 373.2L653.2 372.7L653.7 371.9L654.2 371.9L654.7 370.3L655.2 370.8L655.7 371.3L656.2 369.8L656.7 367.9L657.2 367.9L657.7 366.9L658.2 365.5L658.7 365.7L659.2 365.7L659.7 364.0L660.2 364.5L660.7 363.7L661.2 363.8L661.7 364.1L662.2 364.7L662.7 364.5L663.2 363.7L663.7 364.0L664.2 365.4L664.7 364.5L665.2 364.7L665.7 363.4L666.2 361.7L666.7 360.0L667.2 359.3L667.7 358.8L668.2 357.4L668.7 355.7L669.2 354.3L669.7 353.5L670.2 352.5L670.7 351.3L671.2 350.6L671.7 349.1L672.2 348.1L672.7 349.2L673.2 349.7L673.7 350.8L674.2 352.4L674.7 352.4L675.2 352.1L675.7 351.7L676.2 351.6L676.7 350.5L677.2 350.3L677.7 349.5L678.2 349.0L678.7 350.4L679.2 352.6L679.7 354.3L680.2 355.0L680.7 356.2L681.2 356.8L681.7 355.8L682.2 356.2L682.7 356.4L683.2 356.4L683.7 354.8L684.2 354.2L684.7 353.7L685.2 352.7L685.7 352.8L686.2 352.3L686.7 351.2L687.2 349.2L687.7 348.6L688.2 348.7L688.7 347.4L689.2 347.6L689.7 347.1L690.2 345.2L690.7 343.9L691.2 344.4L691.7 344.5L692.2 343.0L692.7 342.9L693.2 342.8L693.7 342.4L694.2 342.6L694.7 343.0L695.2 342.1L695.7 340.6L696.2 339.7L696.7 338.6L697.2 338.0L697.7 337.7L698.2 337.3L698.7 335.3L699.2 334.6L699.7 333.3L700.2 332.7L700.7 331.6L701.2 331.4L701.7 330.4L702.2 328.0L702.7 327.4L703.2 327.3L703.7 326.6L704.2 326.5L704.7 327.4L705.2 327.4L705.7 327.9L706.2 329.8L706.7 331.5L707.2 330.7L707.7 329.9L708.2 329.2L708.7 328.6L709.2 329.0L709.7 328.3L710.2 329.0L710.7 329.2L711.2 330.1L711.7 331.8L712.2 333.1L712.7 334.5L713.2 335.4L713.7 333.6L714.2 332.6L714.7 332.3L715.2 332.6L715.7 331.9L716.2 331.3L716.7 330.9L717.2 329.1L717.7 328.7L718.2 329.2L718.7 329.0L719.2 327.7L719.7 326.4L720.2 325.9L720.7 325.1L721.2 324.2L721.7 325.2L722.2 324.1L722.7 322.7L723.2 321.9L723.7 322.0L724.2 322.0L724.7 322.9L725.2 323.6L725.7 322.7L726.2 322.2L726.7 323.0L727.2 324.1L727.7 323.9L728.2 324.1L728.7 323.4L729.2 320.9L729.7 319.5L730.2 319.8L730.7 318.8L731.2 317.2L731.7 316.9L732.2 315.5L732.7 313.5L733.2 313.8L733.7 313.9L734.2 311.8L734.7 309.8L735.2 309.9L735.7 310.9L736.2 311.6L736.7 313.1L737.2 314.0L737.7 313.6L738.2 313.5L738.7 313.9L739.2 313.2L739.7 313.2L740.2 313.9L740.7 314.4L741.2 314.9L741.7 315.8L742.2 317.7L742.7 319.3L743.2 319.5L743.7 320.5L744.2 320.8L744.7 319.7L745.2 319.7L745.7 318.9L746.2 318.0L746.7 316.8L747.2 316.9L747.7 317.9L748.2 319.0L748.7 320.0L749.2 320.6L749.7 321.1L750.2 321.0L750.7 322.3L751.2 323.3L751.7 323.4L752.2 323.6L752.7 323.7L753.2 322.5L753.7 323.1L754.2 324.5L754.7 324.5L755.2 324.3L755.7 326.0L756.2 326.6L756.7 328.4L757.2 329.6L757.7 332.0L758.2 331.9L758.7 332.8L759.2 334.2L759.7 334.3L760.2 334.9L760.7 335.7L761.2 335.4L761.7 334.6L762.2 335.2L762.7 336.2L763.2 336.4L763.7 336.1L764.2 336.5L764.7 335.7L765.2 334.4L765.7 334.5L766.2 335.9L766.7 337.1L767.2 339.6L767.7 340.6L768.2 342.1L768.7 343.6L769.2 346.4L769.7 347.2L770.2 346.8L770.7 347.5L771.2 348.6L771.7 349.1L772.2 350.8L772.7 354.1L773.2 356.3L773.7 356.6L774.2 359.8L774.7 360.4L775.2 359.9L775.7 359.8L776.2 359.1L776.7 357.7L777.2 355.8L777.7 356.8L778.2 355.9L778.7 355.1L779.2 354.2L779.7 352.3L780.2 351.2L780.7 350.9L781.2 351.5L781.7 350.2L782.2 348.4L782.7 346.9L783.2 346.5L783.7 345.2L784.2 344.2L784.7 343.8L785.2 341.4L785.7 340.3L786.2 340.4L786.7 339.5L787.2 339.1L787.7 339.0L788.2 338.1L788.7 337.2L789.2 335.7L789.7 336.4L790.2 336.0L790.7 334.8L791.2 333.8L791.7 332.3L792.2 330.0L792.7 329.3L793.2 329.5L793.7 327.8L794.2 325.9L794.7 324.5L795.2 322.9L795.7 320.8L796.2 320.4L796.7 319.3L797.2 317.4L797.7 315.5L798.2 315.6L798.7 314.6L799.2 315.1L799.7 316.5L800.2 316.1L800.7 315.1L801.2 315.6L801.7 315.0L802.2 313.9L802.7 312.9L803.2 312.9L803.7 311.4L804.2 310.0L804.7 311.8L805.2 313.9L805.7 314.2L806.2 314.4L806.7 315.7L807.2 315.2L807.7 313.4L808.2 313.8L808.7 313.1L809.2 310.7L809.7 308.9L810.2 308.6L810.7 307.6L811.2 307.3L811.7 306.3L812.2 306.6L812.7 303.8L813.2 304.1L813.7 304.2L814.2 303.4L814.7 302.7L815.2 301.7L815.7 300.2L816.2 298.1L816.7 297.4L817.2 298.3L817.7 296.0L818.2 295.5L818.7 294.4L819.2 294.2L819.7 294.2L820.2 295.1L820.7 294.3L821.2 292.7L821.7 292.8L822.2 291.6L822.7 290.0L823.2 289.6L823.7 288.5L824.2 286.4L824.7 284.1L825.2 283.7L825.7 282.4L826.2 280.5L826.7 280.0L827.2 278.3L827.7 276.1L828.2 275.0L828.7 274.1L829.2 273.4L829.7 271.4L830.2 271.4L830.7 271.9L831.2 270.8L831.7 271.9L832.2 273.0L832.7 272.9L833.2 272.1L833.7 272.6L834.2 272.3L834.7 271.0L835.2 270.9L835.7 271.4L836.2 269.6L836.7 268.9L837.2 268.8L837.7 268.4L838.2 268.0L838.7 267.7L839.2 267.1L839.7 265.1L840.2 265.0L840.7 265.2L841.2 265.1L841.7 264.1L842.2 264.1L842.7 263.3L843.2 261.3L843.7 261.3L844.2 261.1L844.7 260.1L845.2 258.9L845.7 257.8L846.2 256.1L846.7 255.6L847.2 254.8L847.7 255.1L848.2 252.5L848.7 250.8L849.2 252.1L849.7 250.9L850.2 249.3L850.7 249.4L851.2 247.8L851.7 245.8L852.2 244.7L852.7 244.8L853.2 244.0L853.7 242.8L854.2 242.1L854.7 239.6L855.2 238.3L855.7 236.8L856.2 236.2L856.7 233.4L857.2 231.9L857.7 231.3L858.2 228.9L858.7 228.9L859.2 229.1L859.7 228.1L860.2 226.6L860.7 225.8L861.2 225.9L861.7 226.5L862.2 227.2L862.7 227.8L863.2 227.2L863.7 227.0L864.2 227.4L864.7 227.5L865.2 226.9L865.7 225.7L866.2 224.7L866.7 222.9L867.2 222.3L867.7 224.2L868.2 225.3L868.7 225.7L869.2 226.5L869.7 227.7L870.2 226.7L870.7 226.0L871.2 225.5L871.7 224.7L872.2 222.2L872.7 221.5L873.2 220.1L873.7 218.9L874.2 217.8L874.7 217.5L875.2 216.0L875.7 213.1L876.2 213.4L876.7 212.8L877.2 211.1L877.7 210.5L878.2 209.5L878.7 206.8L879.2 206.4L879.7 206.7L880.2 206.6L880.7 205.8L881.2 205.8L881.7 205.3L882.2 204.5L882.7 204.3L883.2 206.0L883.7 204.8L884.2 203.3L884.7 202.0L885.2 200.8L885.7 199.6L886.2 199.1L886.7 197.5L887.2 195.9L887.7 194.9L888.2 192.9L888.7 192.5L889.2 190.9L889.7 189.9L890.2 188.6L890.7 185.4L891.2 184.8L891.7 184.8L892.2 183.3L892.7 183.2L893.2 183.7L893.7 183.1L894.2 183.4L894.7 183.8L895.2 184.8L895.7 182.8L896.2 182.3L896.7 181.6L897.2 179.9L897.7 180.1L898.2 180.8L898.7 181.9L899.2 182.4L899.7 182.5L900.2 183.4L900.7 183.3L901.2 182.3L901.7 182.4L902.2 180.6L902.7 178.5L903.2 178.6L903.7 178.9L904.2 177.8L904.7 176.6L905.2 175.9L905.7 174.1L906.2 172.7L906.7 173.5L907.2 172.4L907.7 170.2L908.2 169.3L908.7 168.7L909.2 167.3L909.7 166.4L910.2 166.4L910.7 165.8L911.2 163.7L911.7 163.5L912.2 164.1L912.7 163.0L913.2 163.2L913.7 163.4L914.2 161.8L914.7 160.4L915.2 161.3L915.7 160.9L916.2 159.5L916.7 158.6L917.2 157.1L917.7 154.4L918.2 153.3L918.7 153.0L919.2 151.2L919.7 149.7L920.2 148.3L920.7 146.8L921.2 144.6L921.7 144.2L922.2 143.8L922.7 141.9L923.2 139.3L923.7 138.8L924.2 137.8L924.7 138.4L925.2 140.1L925.7 140.2L926.2 139.7L926.7 140.2L927.2 140.6L927.7 140.0L928.2 139.2L928.7 138.9L929.2 136.8L929.7 135.4L930.2 135.4L930.7 136.8L931.2 137.1L931.7 136.9L932.2 137.8L932.7 137.5L933.2 137.8L933.7 139.1L934.2 139.2L934.7 137.6L935.2 136.3L935.7 135.1L936.2 133.7L936.7 132.7L937.2 132.1L937.7 131.4L938.2 129.9L938.7 129.8L939.2 131.2L939.7 132.2L940.2 131.3L940.7 130.3L941.2 127.7L941.7 125.2L942.2 124.2L942.7 124.3L943.2 121.7L943.7 120.3L944.2 119.4" stroke="#0072B2" stroke-width="2.3" fill="none" stroke-linejoin="round" stroke-linecap="square"/><path d="M937.5 130.4L943.3 118.3L944.9 118.6L944.9 131.7L939.2 141.7L937.5 137Z" fill="#0072B2" stroke="#0072B2" stroke-width="1" stroke-linejoin="round"/><circle cx="941.5" cy="76" r="3.3" fill="#f00" fill-opacity="0.55"/><circle cx="941.4" cy="78.2" r="3.3" fill="#f00" fill-opacity="0.55"/><circle cx="941.2" cy="81" r="3.3" fill="#f00" fill-opacity="0.55"/><circle cx="941.1" cy="83.5" r="3.3" fill="#f00" fill-opacity="0.55"/><circle cx="940.9" cy="86" r="3.3" fill="#f00" fill-opacity="0.55"/><circle cx="940.7" cy="88.5" r="3.3" fill="#f00" fill-opacity="0.55"/><circle cx="940.5" cy="91" r="3.3" fill="#f00" fill-opacity="0.55"/><circle cx="940.2" cy="93.5" r="3.3" fill="#f00" fill-opacity="0.55"/><circle cx="940" cy="96" r="3.3" fill="#f00" fill-opacity="0.55"/><circle cx="939.7" cy="98.5" r="3.3" fill="#f00" fill-opacity="0.55"/><circle cx="941.3" cy="79.5" r="3.3" fill="#f00" fill-opacity="0.55"/><circle cx="940.8" cy="87" r="3.3" fill="#f00" fill-opacity="0.55"/><circle cx="940.3" cy="92.3" r="3.3" fill="#f00" fill-opacity="0.55"/><circle cx="939.8" cy="97" r="3.3" fill="#f00" fill-opacity="0.55"/></g><rect x="79.5" y="15.5" width="906.0" height="527.0" fill="none" stroke="#000" stroke-width="1.11"/><path d="M152.50 542.5v4.9M278.50 542.5v4.9M404.50 542.5v4.9M530.50 542.5v4.9M656.50 542.5v4.9M781.50 542.5v4.9M907.50 542.5v4.9M79.5 439.50h-4.9M79.5 328.50h-4.9M79.5 216.50h-4.9M79.5 105.50h-4.9" stroke="#000" stroke-width="1.11" fill="none"/><text x="151.80" y="562.2" font-size="14" text-anchor="middle" textLength="34.6" lengthAdjust="spacingAndGlyphs">2001</text><text x="277.65" y="562.2" font-size="14" text-anchor="middle" textLength="34.6" lengthAdjust="spacingAndGlyphs">2005</text><text x="403.50" y="562.2" font-size="14" text-anchor="middle" textLength="34.6" lengthAdjust="spacingAndGlyphs">2009</text><text x="529.35" y="562.2" font-size="14" text-anchor="middle" textLength="34.6" lengthAdjust="spacingAndGlyphs">2013</text><text x="655.20" y="562.2" font-size="14" text-anchor="middle" textLength="34.6" lengthAdjust="spacingAndGlyphs">2017</text><text x="781.05" y="562.2" font-size="14" text-anchor="middle" textLength="34.6" lengthAdjust="spacingAndGlyphs">2021</text><text x="906.90" y="562.2" font-size="14" text-anchor="middle" textLength="34.6" lengthAdjust="spacingAndGlyphs">2025</text><text x="68.7" y="444.00" font-size="14" text-anchor="end" textLength="33.2" lengthAdjust="spacingAndGlyphs">1000</text><text x="68.7" y="333.00" font-size="14" text-anchor="end" textLength="33.2" lengthAdjust="spacingAndGlyphs">2000</text><text x="68.7" y="221.00" font-size="14" text-anchor="end" textLength="33.2" lengthAdjust="spacingAndGlyphs">3000</text><text x="68.7" y="110.00" font-size="14" text-anchor="end" textLength="33.2" lengthAdjust="spacingAndGlyphs">4000</text><text x="532.6" y="581.6" font-size="14.6" text-anchor="middle" textLength="14.8" lengthAdjust="spacingAndGlyphs">ds</text><text transform="translate(24.7 279) rotate(-90)" font-size="14.6" text-anchor="middle" textLength="8.2" lengthAdjust="spacingAndGlyphs">y</text></g></svg></body></html>
